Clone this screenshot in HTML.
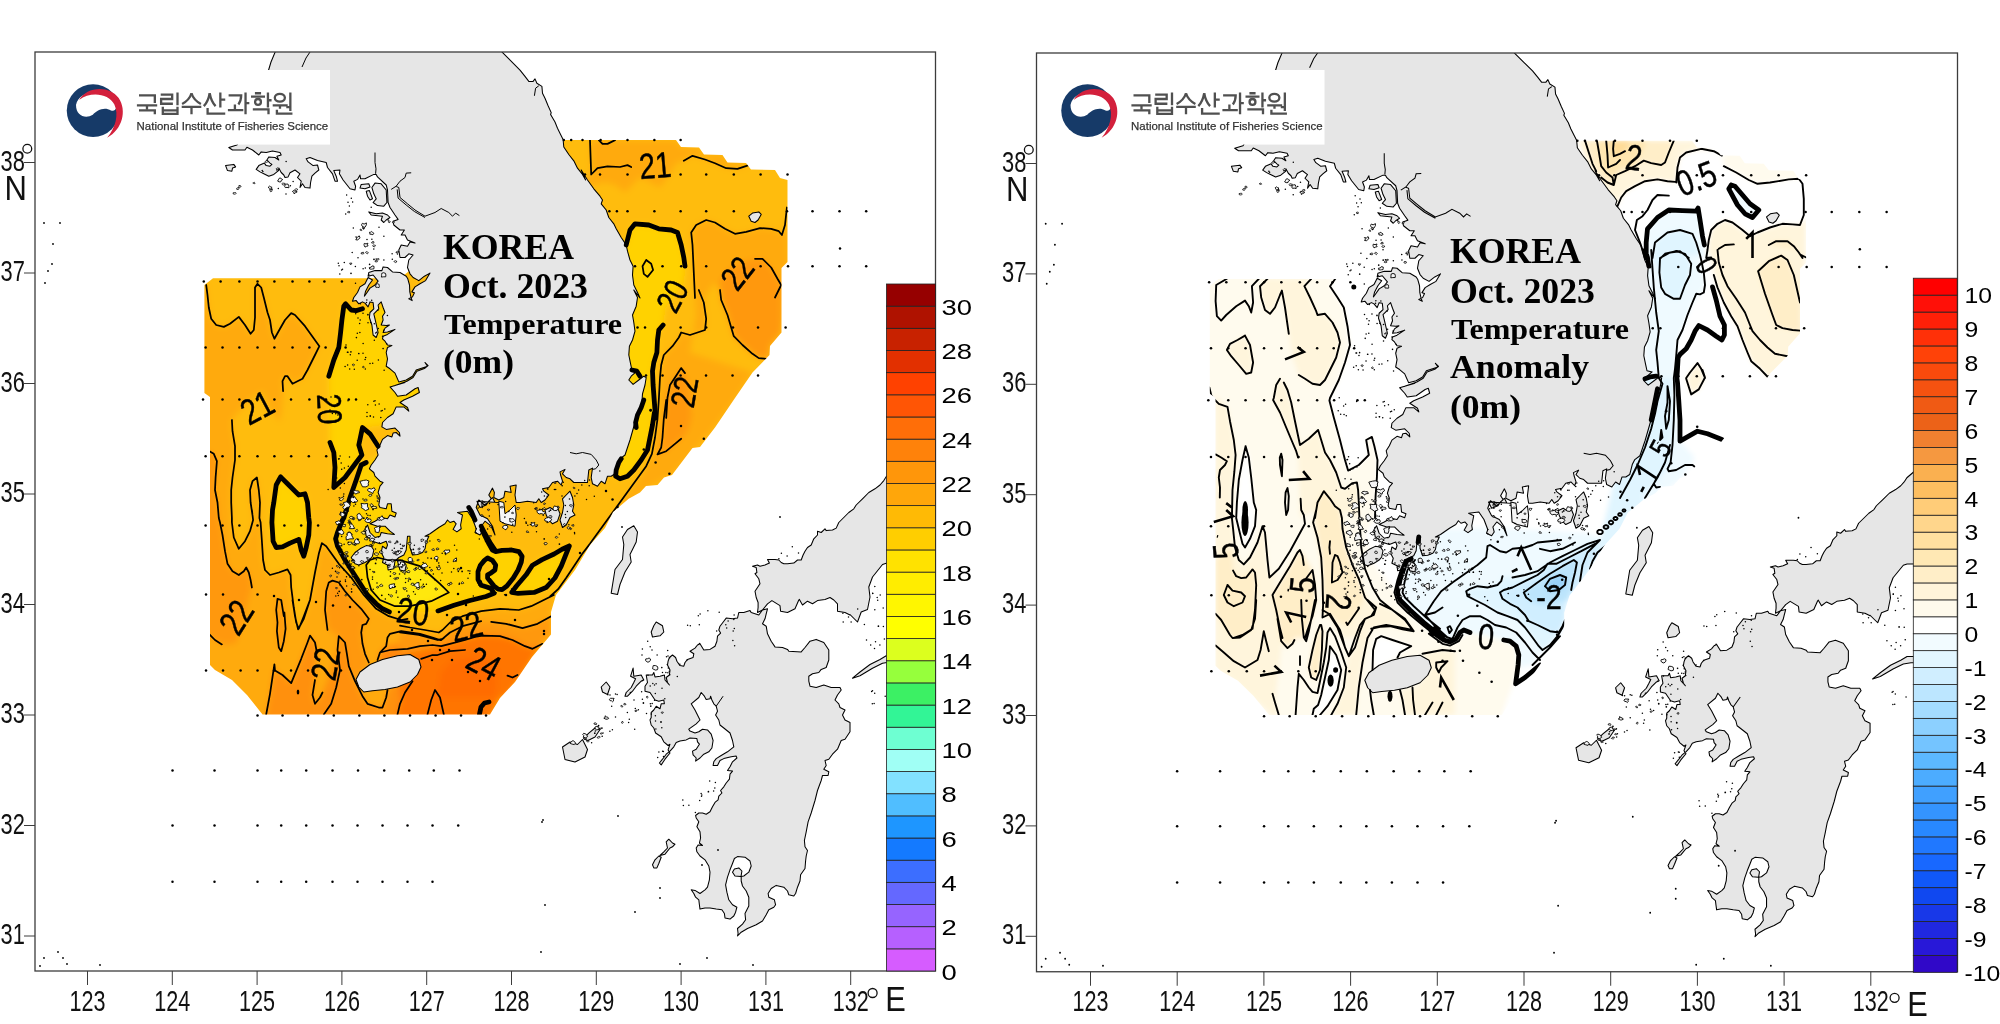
<!DOCTYPE html>
<html><head><meta charset="utf-8"><title>map</title>
<style>
html,body{margin:0;padding:0;background:#fff;}
svg{display:block}
text{opacity:0.999}
.tk{font-family:"Liberation Sans",sans-serif;font-size:30px;fill:#111}
.cb{font-family:"Liberation Sans",sans-serif;font-size:22.5px;fill:#000}
.lb{font-family:"Liberation Sans",sans-serif;fill:#000;stroke:#000;stroke-width:0.45px}
.ttl text{font-family:"Liberation Serif",serif;font-weight:bold;fill:#000}
</style></head><body>
<svg width="2000" height="1024" viewBox="0 0 2000 1024">
<defs>
<clipPath id="clipL"><rect x="35.0" y="52.0" width="900.5" height="919.0"/></clipPath>
<clipPath id="clipR"><rect x="1036.5" y="53.0" width="921.0" height="918.75"/></clipPath>
<g id="land"><path d="M276.0,50.0 L271.0,62.0 L268.0,72.0 L240.0,140.0 L236.9,145.0 L228.8,147.5 L232.5,150.0 L245.0,150.0 L246.9,147.2 L252.5,150.0 L258.8,155.0 L261.2,151.9 L266.2,152.5 L272.5,151.0 L280.0,152.5 L281.2,155.0 L276.9,156.2 L278.8,160.0 L275.0,157.5 L268.8,156.9 L266.9,160.0 L270.0,163.1 L271.9,164.4 L270.0,166.2 L266.2,165.6 L264.4,163.1 L258.8,165.6 L256.2,169.4 L260.0,171.9 L263.8,173.8 L268.8,176.2 L273.8,174.4 L278.5,170.6 L278.8,168.1 L281.2,172.5 L283.8,175.0 L285.0,177.5 L288.1,176.9 L290.0,172.8 L295.0,170.0 L300.0,173.8 L297.5,177.5 L301.2,181.2 L300.0,187.5 L302.5,183.8 L305.0,187.5 L310.0,188.1 L310.6,182.5 L311.9,176.2 L315.0,173.1 L318.8,170.0 L317.5,165.0 L313.1,165.6 L308.1,161.9 L306.2,158.8 L310.0,157.5 L317.5,160.6 L326.2,162.5 L327.5,167.5 L332.5,173.8 L335.0,181.2 L337.5,181.2 L336.2,176.2 L333.8,170.6 L340.0,170.0 L339.4,173.8 L343.1,180.0 L350.0,188.8 L355.0,190.0 L355.6,186.2 L353.8,181.2 L357.5,179.4 L360.0,175.0 L360.6,178.8 L365.0,178.8 L373.8,174.4 L376.2,174.4 L377.5,176.9 L386.2,185.0 L387.5,190.0 L388.1,202.5 L390.0,207.5 L395.0,215.0 L398.1,219.4 L393.1,221.2 L393.8,225.0 L400.0,230.0 L404.4,230.0 L401.2,235.0 L405.0,235.0 L407.5,240.0 L415.0,243.1 L410.0,241.9 L407.5,246.2 L401.2,245.0 L398.8,250.0 L400.0,257.5 L405.0,257.5 L408.8,253.8 L413.1,255.0 L408.8,260.0 L407.5,267.5 L407.5,267.5 L410.0,273.8 L413.1,277.5 L418.8,280.6 L424.4,276.2 L430.0,273.1 L425.6,280.6 L420.0,283.8 L415.0,286.9 L411.9,291.9 L414.4,292.8 L412.5,296.9 L408.8,298.8 L412.2,300.6 L411.0,297.5 L409.8,291.9 L409.5,285.0 L407.8,278.8 L406.2,276.2 L400.0,272.5 L392.5,271.9 L387.5,267.5 L383.1,266.9 L381.9,270.6 L375.0,270.6 L368.8,272.5 L368.1,276.2 L373.1,275.0 L378.1,281.2 L375.0,285.0 L370.0,288.1 L366.2,293.8 L364.4,296.2 L365.6,291.2 L368.8,285.0 L372.5,280.0 L368.1,277.5 L365.0,283.8 L360.0,286.9 L357.5,292.5 L353.8,297.5 L352.5,301.2 L356.2,300.6 L358.8,303.8 L362.5,301.9 L365.0,303.1 L368.1,306.9 L370.0,301.9 L373.1,302.5 L373.8,308.8 L370.0,312.5 L369.4,317.5 L371.9,325.0 L373.1,335.0 L376.2,337.5 L378.1,332.5 L375.0,318.8 L373.8,313.8 L378.8,308.8 L378.1,305.0 L381.2,301.9 L383.1,307.5 L385.0,312.5 L382.5,316.2 L383.1,320.0 L381.2,325.0 L386.2,325.6 L389.4,325.0 L385.0,328.1 L383.1,332.5 L387.5,331.9 L395.0,329.4 L387.5,334.4 L383.1,336.2 L382.5,338.8 L385.0,341.2 L387.5,345.0 L391.9,345.6 L387.5,347.5 L386.2,352.5 L387.5,358.8 L386.2,366.2 L390.0,368.8 L395.0,373.1 L396.9,377.5 L398.8,381.9 L406.2,380.0 L412.5,376.2 L416.2,370.0 L423.8,367.5 L427.5,366.2 L425.0,362.5 L428.1,365.6 L424.4,368.5 L416.9,371.2 L413.1,377.5 L406.9,381.2 L400.0,383.8 L395.0,385.6 L405.0,382.5 L390.0,386.9 L395.0,392.5 L397.5,396.2 L406.2,395.0 L415.0,388.8 L418.1,387.5 L419.4,392.5 L412.5,396.2 L403.8,400.0 L400.0,402.5 L407.5,407.5 L408.8,411.2 L403.8,406.9 L396.2,406.9 L393.1,413.8 L387.5,417.5 L382.5,422.5 L381.9,426.9 L386.2,429.4 L395.0,428.1 L399.4,432.5 L400.0,436.2 L396.2,432.5 L393.1,433.1 L391.9,436.9 L387.5,435.6 L382.5,439.4 L380.0,445.0 L376.9,450.0 L378.1,455.0 L375.0,460.0 L371.2,465.0 L369.4,468.8 L373.8,472.5 L375.0,476.2 L380.0,481.2 L383.1,482.5 L380.0,486.2 L378.1,492.5 L380.0,497.5 L378.8,505.0 L380.0,507.5 L386.2,508.8 L387.5,503.8 L391.2,503.8 L391.9,511.2 L396.2,513.1 L395.0,516.9 L390.0,515.0 L387.5,518.8 L381.2,517.5 L375.0,521.2 L370.0,523.8 L377.5,526.2 L385.0,526.2 L390.0,531.2 L394.4,534.4 L387.5,533.8 L381.2,532.5 L380.0,536.2 L375.0,537.5 L370.0,532.5 L367.5,525.0 L365.0,528.8 L366.2,536.2 L372.5,541.2 L380.0,543.8 L386.2,541.2 L387.5,545.0 L386.2,548.8 L382.5,546.2 L381.2,552.5 L383.8,557.5 L382.5,562.5 L387.5,565.0 L388.1,570.0 L393.8,568.8 L395.0,561.2 L398.8,557.5 L403.8,555.0 L406.2,550.0 L407.5,536.2 L410.0,536.2 L410.0,547.5 L412.5,555.0 L417.5,554.4 L422.5,552.5 L425.0,548.8 L426.2,542.5 L428.8,536.2 L425.0,536.2 L430.0,533.8 L438.8,527.5 L445.0,523.8 L447.5,520.0 L450.0,522.5 L453.8,521.2 L456.2,523.8 L453.1,529.4 L456.9,531.9 L461.2,528.8 L460.6,525.0 L462.5,515.0 L457.5,512.5 L467.5,511.2 L472.5,518.8 L476.2,528.8 L475.0,532.5 L480.0,535.0 L482.5,531.2 L481.2,526.2 L485.0,521.2 L491.2,526.2 L495.0,535.0 L492.5,526.2 L487.5,518.8 L480.0,515.0 L476.2,507.5 L478.8,500.0 L485.0,505.0 L492.5,497.5 L495.0,502.5 L498.8,502.5 L476.9,501.2 L480.0,507.5 L486.2,505.0 L488.8,501.2 L491.2,498.8 L488.8,495.0 L492.5,488.1 L494.4,492.5 L493.8,497.5 L498.8,500.0 L503.8,497.5 L505.0,491.2 L511.2,492.5 L510.0,486.2 L516.2,485.0 L515.0,495.0 L516.2,502.5 L520.0,502.5 L527.5,501.2 L536.2,502.5 L538.8,498.8 L541.2,502.5 L545.0,500.0 L548.8,495.0 L543.8,491.2 L542.5,488.8 L548.8,487.5 L552.5,482.5 L557.5,481.2 L561.2,485.0 L562.5,481.2 L560.6,475.0 L560.0,471.9 L565.0,469.4 L562.5,473.8 L566.2,477.5 L570.0,478.8 L573.8,482.5 L580.0,482.5 L587.5,482.5 L588.8,470.0 L592.5,468.1 L591.2,477.5 L592.5,483.8 L597.5,486.2 L601.2,481.2 L605.0,483.8 L607.5,476.2 L611.2,476.2 L615.0,473.8 L617.5,463.8 L620.0,458.8 L625.0,455.0 L627.5,447.5 L630.0,440.0 L636.2,418.0 L638.8,412.5 L641.9,402.5 L642.5,393.8 L645.0,385.0 L646.2,377.5 L643.8,376.2 L638.8,380.0 L633.1,384.4 L628.8,380.0 L631.2,376.2 L636.9,371.2 L631.9,370.0 L630.6,363.8 L628.8,355.0 L629.4,346.2 L632.5,340.0 L635.0,331.2 L633.8,322.5 L632.5,315.0 L636.2,306.2 L637.5,297.5 L633.8,290.0 L640.0,298.0 L637.5,292.5 L633.8,285.0 L632.5,275.0 L633.1,266.2 L630.0,260.0 L627.5,251.2 L626.2,245.0 L621.2,237.5 L616.2,228.8 L613.8,223.8 L608.8,217.5 L606.2,210.0 L601.2,203.8 L602.5,200.0 L600.0,196.2 L593.8,188.8 L587.5,180.0 L581.2,170.0 L585.6,180.0 L582.5,174.5 L577.5,168.2 L573.8,160.8 L568.8,154.5 L563.8,147.0 L563.1,139.5 L561.2,135.8 L557.5,128.2 L555.0,122.0 L550.6,114.5 L551.2,112.6 L548.1,105.8 L545.0,98.2 L542.5,93.2 L541.9,86.4 L536.9,83.2 L535.0,78.9 L533.1,81.4 L528.8,81.4 L525.0,76.4 L520.0,70.1 L500.0,50.0Z M767.5,608.8 L762.5,610.0 L758.8,615.0 L751.2,612.5 L750.0,610.6 L743.8,612.5 L738.8,612.5 L737.5,618.1 L732.5,618.8 L726.2,618.1 L723.8,621.2 L720.0,626.2 L718.8,630.0 L720.6,633.1 L717.5,636.2 L716.9,641.2 L715.0,646.2 L710.0,649.4 L703.8,650.0 L700.0,643.8 L697.5,645.0 L695.0,648.1 L690.0,651.2 L693.8,653.8 L693.1,657.5 L687.5,659.4 L685.0,662.5 L683.8,666.2 L680.0,665.6 L676.9,661.2 L675.6,657.5 L672.5,655.0 L669.4,657.5 L668.1,661.2 L667.5,665.0 L670.0,670.0 L669.4,675.0 L666.2,677.5 L667.5,682.5 L669.4,685.0 L665.0,680.0 L664.4,675.0 L660.0,676.2 L655.0,676.9 L653.8,672.5 L652.5,675.0 L646.2,675.0 L647.5,682.5 L645.0,686.2 L645.0,691.2 L650.0,692.5 L652.5,696.2 L655.0,700.0 L658.8,701.2 L663.8,700.0 L664.4,703.8 L661.2,703.8 L660.0,708.8 L656.2,706.2 L653.8,710.0 L651.2,712.5 L651.2,717.5 L650.0,720.0 L651.2,725.0 L653.8,728.0 L655.6,733.0 L661.2,736.8 L663.8,741.8 L668.1,745.5 L670.0,744.2 L668.1,749.9 L670.0,753.0 L665.0,759.2 L661.2,764.9 L659.4,763.0 L662.5,759.2 L666.2,754.2 L670.0,751.1 L673.8,746.8 L676.2,742.4 L680.0,741.1 L686.2,739.9 L690.0,738.0 L696.9,738.6 L697.5,741.8 L699.4,744.2 L696.2,749.2 L692.5,751.1 L693.1,754.9 L696.2,758.0 L695.6,761.1 L700.0,758.0 L703.8,754.2 L708.8,751.8 L711.9,748.0 L713.1,740.5 L711.2,734.2 L707.5,729.9 L702.5,729.2 L698.8,731.8 L695.0,733.0 L690.0,731.1 L688.8,729.2 L696.2,723.8 L700.0,720.0 L697.5,715.0 L695.0,710.0 L691.2,703.8 L698.8,697.5 L701.2,692.5 L704.4,696.2 L706.2,699.4 L710.0,698.8 L710.6,696.2 L711.9,700.0 L713.8,703.8 L716.2,706.2 L717.5,711.2 L715.6,715.0 L718.8,720.0 L720.0,725.0 L723.8,728.0 L730.0,733.0 L732.5,740.5 L733.8,746.8 L727.5,751.8 L721.2,755.5 L716.2,758.6 L713.8,761.8 L713.1,765.5 L717.5,765.5 L720.0,760.5 L723.8,758.6 L731.2,756.8 L736.2,756.1 L736.9,758.0 L732.5,761.8 L730.0,766.8 L727.5,770.5 L732.5,771.1 L730.0,774.2 L729.4,779.2 L726.2,783.0 L723.8,786.8 L720.6,790.5 L721.9,793.0 L718.8,796.1 L718.1,799.9 L715.0,802.4 L712.5,806.8 L710.0,811.8 L706.2,814.2 L702.5,813.0 L698.8,813.0 L695.6,815.5 L696.2,818.0 L698.8,821.8 L696.9,826.8 L700.0,831.8 L700.6,838.0 L699.4,843.0 L702.5,845.5 L698.1,844.9 L696.2,848.0 L696.9,851.8 L700.0,856.0 L705.0,859.8 L708.8,866.0 L710.0,872.2 L709.4,879.8 L707.5,887.2 L705.0,889.8 L700.0,893.5 L695.0,890.4 L691.2,889.8 L693.8,893.5 L695.6,897.2 L698.8,899.8 L699.4,904.8 L700.0,909.1 L705.0,907.9 L710.0,907.9 L716.2,909.1 L721.9,909.8 L724.4,913.5 L725.0,917.9 L730.0,919.1 L733.8,916.0 L735.6,912.2 L736.9,907.2 L732.5,904.8 L728.8,899.8 L726.9,892.2 L725.6,884.8 L727.5,877.2 L730.0,869.8 L732.5,863.5 L734.4,858.5 L737.5,856.6 L745.0,857.2 L750.0,861.0 L751.2,866.0 L748.8,872.2 L743.8,876.0 L741.2,876.6 L741.2,881.0 L742.5,886.0 L746.2,891.0 L748.8,897.2 L748.8,906.0 L745.0,913.5 L745.6,919.8 L742.5,924.1 L737.5,928.5 L738.1,933.5 L737.5,936.0 L741.2,932.2 L747.5,928.5 L756.2,924.8 L762.5,921.0 L766.2,914.8 L768.8,909.8 L773.8,907.2 L775.6,904.8 L774.4,899.8 L768.8,897.2 L768.1,893.5 L771.2,888.5 L776.2,885.4 L783.8,887.2 L787.5,891.0 L788.8,894.8 L793.8,896.0 L795.6,893.5 L797.5,887.2 L800.0,881.0 L800.6,874.8 L805.0,868.5 L805.6,861.0 L806.2,856.0 L807.5,850.5 L805.0,846.8 L804.4,840.5 L806.2,831.8 L808.1,821.8 L811.2,813.0 L815.0,800.5 L817.5,790.5 L821.2,780.5 L822.5,775.5 L828.1,775.5 L828.8,771.8 L823.8,769.2 L826.2,765.5 L825.0,760.5 L828.8,759.2 L832.5,754.2 L837.5,749.2 L841.2,740.5 L845.0,739.2 L850.0,731.8 L850.0,722.5 L845.0,720.0 L842.5,715.0 L845.0,710.0 L840.0,707.5 L838.8,703.8 L835.0,700.0 L837.5,695.0 L841.2,690.0 L840.0,687.5 L831.2,687.5 L823.8,685.0 L816.2,687.5 L810.0,686.2 L808.8,681.2 L808.8,676.2 L812.5,673.8 L818.8,672.5 L821.2,669.4 L826.2,667.5 L828.8,660.0 L828.8,650.0 L823.8,642.5 L816.2,639.4 L810.0,641.2 L805.0,647.5 L801.2,651.9 L788.8,651.2 L787.5,649.4 L782.5,647.5 L775.0,646.9 L771.2,641.2 L767.5,633.8 L766.2,626.2 L762.5,623.8 L765.0,618.8 L766.2,613.8Z M940.0,430.0 L886.0,477.0 L883.8,480.6 L880.0,485.0 L875.0,488.8 L868.8,492.5 L862.5,498.8 L856.2,505.0 L853.8,508.8 L848.8,512.5 L843.8,517.5 L838.8,522.5 L836.2,528.1 L832.5,530.0 L826.2,530.6 L825.0,528.8 L821.2,532.5 L817.5,531.2 L817.5,535.0 L813.8,538.8 L811.2,545.0 L807.5,547.5 L805.0,551.2 L803.1,555.0 L801.2,560.0 L797.5,560.0 L793.8,563.1 L787.5,563.8 L783.8,563.8 L781.2,562.5 L778.8,560.0 L775.0,559.4 L767.5,559.4 L769.4,563.1 L765.0,565.0 L760.0,566.2 L757.5,565.0 L752.5,566.2 L756.2,567.5 L756.9,572.5 L755.0,573.8 L758.8,578.8 L760.0,583.8 L757.5,587.5 L755.0,591.2 L756.2,597.5 L758.1,602.5 L758.1,607.5 L757.5,612.5 L762.5,610.0 L767.5,603.8 L771.9,600.6 L780.0,605.6 L780.6,611.2 L787.5,612.5 L795.0,608.8 L798.8,600.0 L799.4,599.4 L802.5,605.0 L807.5,601.2 L812.5,603.8 L817.5,600.6 L825.0,599.4 L830.0,597.5 L833.8,600.0 L837.5,603.8 L837.5,611.2 L845.0,612.5 L850.0,615.0 L850.0,614.5 L857.5,622.0 L861.2,612.0 L867.5,609.5 L870.0,597.0 L868.8,587.0 L872.5,577.0 L882.5,564.5 L886.2,563.2 L940.0,563.0Z M886.2,655.8 L880.0,659.5 L870.0,664.5 L860.0,672.0 L852.5,678.2 L860.0,675.8 L872.5,668.2 L882.5,663.2 L890.0,662.0 L940.0,662.0 L940.0,655.8Z M356.0,679.5 L360.0,672.0 L370.0,664.5 L382.5,659.5 L397.5,655.8 L410.0,654.5 L418.8,659.5 L421.0,667.0 L417.5,674.5 L410.0,682.0 L397.5,687.0 L385.0,689.5 L372.5,690.8 L363.8,692.0 L358.8,687.0Z M633.8,525.8 L637.5,532.0 L636.2,542.0 L630.0,554.5 L631.2,562.0 L625.0,572.0 L620.0,584.5 L617.5,594.5 L611.2,593.2 L613.8,577.0 L615.0,569.5 L622.5,559.5 L623.8,544.5 L622.5,537.0 L627.5,529.5Z M656.2,622.0 L662.5,625.8 L663.8,632.0 L660.0,635.8 L652.5,637.0 L651.2,632.0 L653.8,625.8Z M562.5,747.0 L570.0,742.0 L577.5,744.5 L582.5,739.5 L587.5,749.5 L585.0,757.0 L575.0,762.0 L565.0,759.5Z M583.8,738.2 L588.8,733.2 L596.2,727.0 L600.0,729.5 L595.0,737.0 L587.5,740.8Z M601.2,687.0 L606.2,682.0 L610.0,687.0 L607.5,694.5 L602.5,692.0Z M633.1,668.1 L633.8,676.2 L641.2,675.0 L643.8,680.0 L641.2,681.2 L636.2,686.2 L632.5,691.2 L627.5,696.2 L625.0,696.2 L626.2,692.5 L631.2,687.5 L633.8,682.5 L635.6,678.8 L630.6,676.2Z M658.8,856.0 L661.2,857.2 L658.8,863.5 L656.9,867.9 L653.8,867.9 L652.5,864.8 L655.0,859.8Z M660.0,855.5 L663.8,851.8 L667.5,848.0 L666.2,841.8 L668.8,839.2 L672.5,843.0 L675.0,844.2 L672.5,846.8 L670.0,848.0 L665.0,854.2Z M375.0,183.1 L381.2,183.8 L386.2,190.0 L386.9,202.5 L383.8,206.2 L377.5,205.6 L373.1,202.5 L376.2,198.8 L373.8,193.8 L371.9,187.5Z M361.2,184.4 L368.8,183.8 L370.0,186.9 L365.0,188.8 L360.0,188.1Z M366.2,191.2 L369.4,190.6 L372.5,198.8 L370.0,200.0 L367.5,196.2Z M368.8,211.9 L376.2,213.8 L382.5,213.1 L387.5,215.0 L390.0,217.5 L386.2,220.0 L383.8,222.5 L381.2,220.0 L382.5,216.2 L371.2,215.0Z M225.6,165.6 L233.8,164.4 L235.6,166.9 L232.5,168.1 L231.9,171.2 L227.5,170.6Z M351.2,557.5 L355.0,552.5 L360.0,548.8 L366.2,545.6 L371.2,546.2 L373.8,550.0 L372.5,556.2 L370.0,559.4 L365.0,562.5 L358.8,565.0 L355.0,563.8Z M566.2,495.0 L570.0,491.2 L572.5,497.5 L573.8,505.0 L572.5,511.2 L575.0,515.0 L570.0,517.5 L566.2,525.0 L562.5,527.5 L560.0,520.0 L562.5,512.5 L563.8,505.0 L562.5,498.8Z M545.0,510.0 L550.0,507.5 L553.8,510.0 L557.5,507.5 L560.0,513.8 L557.5,521.2 L552.5,523.8 L548.8,520.0 L546.2,515.0Z M397.5,561.2 L402.5,560.0 L406.2,565.0 L405.0,571.2 L400.0,570.0Z M748.8,216.2 L752.5,213.1 L758.8,211.9 L761.2,214.4 L758.1,220.0 L755.0,222.5 L751.2,221.2Z M732.5,872.2 L734.4,869.1 L738.8,867.9 L741.9,871.0 L741.2,875.4 L740.6,876.6 L735.0,876.0Z" fill="#e6e6e6" stroke="#000" stroke-width="1.05" stroke-linejoin="round"/><path d="M498.8,501.2 L503.8,502.5 L505.0,513.8 L510.0,510.0 L515.0,505.0 L516.2,515.0 L515.0,526.2 L510.0,525.0 L505.0,523.8 L500.0,521.2Z" fill="#f6f6f6" stroke="#000" stroke-width="1" stroke-linejoin="round"/><path d="M375.6,173.8 L376.0,168.8 L375.0,162.5 L375.0,152.5 M391.2,189.4 L396.2,186.2 L400.0,181.2 L405.0,177.5 L406.2,173.1 L411.2,172.8 M396.2,186.5 L398.8,187.5 L400.0,197.5 L407.5,203.8 L415.0,210.0 L425.0,216.2 L435.0,212.5 L441.2,208.5 L448.8,212.5 L452.5,216.2 L455.6,213.1 L459.4,215.6 M397.2,189.4 L398.1,198.1 L406.2,205.0 L414.4,211.5 L425.0,217.5 M570.0,452.5 L576.2,453.8 L582.5,452.5 L591.2,454.4 L596.2,460.0 L598.8,465.0 L595.6,468.8 L592.5,469.4 M538.8,85.8 L535.6,88.2 L534.4,95.8 M310.0,52.0 L306.0,58.0 L302.0,67.0 M716.2,706.2 L723.1,696.2" fill="none" stroke="#000" stroke-width="1"/></g>
<g id="dots"><path d="M255.1,183.4 L254.2,183.7 L253.5,183.4 L252.8,183.0 L253.6,182.6 L254.3,182.2 L254.7,182.8Z M238.9,189.0 L238.0,189.6 L236.6,189.2 L236.8,188.2 L237.7,187.7 L239.2,187.4 L239.0,188.4Z M240.6,187.1 L239.3,187.1 L238.8,186.4 L238.9,185.5 L240.0,185.5 L240.7,185.8 L241.0,186.3Z M270.9,189.7 L272.4,189.5 L272.0,190.6 L271.8,191.3 L270.5,191.7 L270.1,190.8 L269.9,190.0Z M233.1,192.8 L234.4,192.6 L235.6,192.5 L236.1,193.4 L235.5,194.1 L234.4,194.2 L233.2,193.9Z M297.5,189.8 L296.6,190.4 L295.3,190.4 L294.7,189.6 L295.6,189.0 L296.4,188.7 L297.4,189.0Z M267.2,162.1 L266.3,162.4 L264.8,162.1 L265.6,161.2 L266.0,160.5 L267.3,160.6 L268.3,161.4Z M278.9,168.8 L278.7,169.5 L277.8,169.8 L276.8,169.5 L276.2,168.8 L277.0,167.9 L278.3,168.1Z M282.1,183.7 L282.7,182.9 L283.8,183.3 L285.2,183.4 L284.9,184.4 L283.7,185.0 L282.4,184.7Z M347.4,212.2 L348.0,211.6 L348.7,211.4 L349.6,211.5 L349.7,212.2 L349.4,213.0 L348.3,212.6Z M376.0,260.3 L376.9,260.3 L377.2,260.9 L377.4,261.7 L376.2,261.9 L375.0,261.6 L375.3,260.7Z M363.3,252.2 L364.0,253.1 L363.3,254.0 L362.1,253.9 L361.0,253.6 L361.2,252.8 L362.0,252.6Z M394.4,262.0 L394.1,261.4 L394.5,260.9 L395.4,260.7 L396.5,261.0 L396.7,262.0 L395.4,262.6Z M375.2,246.2 L374.3,246.8 L373.1,246.4 L372.6,245.6 L373.4,245.0 L374.3,245.1 L375.4,245.3Z M366.3,253.2 L365.5,252.3 L366.6,251.6 L367.7,252.0 L368.2,252.5 L368.0,253.1 L367.3,253.9Z M390.4,221.7 L389.9,222.4 L389.0,222.8 L388.4,222.2 L388.4,221.7 L388.5,220.8 L389.8,221.1Z M371.6,243.0 L371.9,242.1 L372.7,241.5 L373.8,241.7 L373.9,242.4 L373.9,243.1 L372.9,243.1Z M362.2,228.0 L362.6,227.2 L363.8,227.0 L364.4,227.7 L364.5,228.4 L363.6,228.8 L362.7,228.6Z M378.3,259.8 L377.5,260.1 L377.0,259.6 L376.9,259.1 L377.5,258.8 L378.6,258.5 L379.2,259.3Z M392.8,221.8 L393.7,221.3 L394.7,221.9 L394.0,222.6 L393.4,223.3 L392.6,222.8 L392.2,222.2Z M362.1,230.1 L361.6,230.6 L360.8,230.4 L360.1,230.2 L360.0,229.5 L360.9,229.2 L361.5,229.6Z M398.2,252.5 L397.3,252.7 L396.0,252.8 L396.2,251.9 L396.9,251.5 L397.8,251.2 L399.1,251.8Z M349.8,263.0 L350.9,263.2 L352.0,263.2 L351.4,263.9 L351.1,264.6 L350.1,264.3 L349.8,263.7Z M352.2,365.0 L352.5,364.4 L353.4,364.1 L354.4,364.5 L354.3,365.3 L353.5,365.8 L352.8,365.4Z M362.5,367.3 L362.6,366.8 L363.2,366.1 L364.0,366.7 L364.5,367.2 L363.8,367.6 L363.0,367.9Z M345.1,510.7 L345.9,510.8 L346.8,511.3 L346.5,512.2 L345.2,512.3 L344.4,511.8 L343.9,511.0Z M341.7,514.4 L341.6,515.2 L340.5,515.4 L339.8,515.0 L339.5,514.5 L339.7,513.6 L341.0,513.7Z M352.4,495.7 L353.3,495.8 L354.2,496.2 L354.2,497.1 L352.9,497.1 L352.3,496.8 L351.9,496.3Z M373.9,544.2 L372.9,543.6 L371.9,543.1 L372.8,542.5 L373.6,542.4 L374.8,542.5 L374.4,543.3Z M350.4,521.9 L350.5,522.6 L349.5,522.9 L347.9,523.1 L348.3,522.0 L348.9,521.5 L349.7,521.5Z M356.2,551.5 L358.3,552.1 L358.1,553.5 L357.3,554.2 L355.7,555.1 L354.4,553.9 L355.5,552.9Z M353.7,519.2 L351.6,518.9 L350.3,518.5 L349.4,517.3 L350.9,516.2 L352.7,516.7 L353.0,517.7Z M360.5,520.4 L358.6,520.8 L358.7,519.3 L358.6,518.3 L360.1,517.5 L361.8,518.3 L361.1,519.5Z M341.4,500.7 L339.4,500.1 L339.8,498.8 L340.8,498.0 L342.7,497.4 L343.5,498.8 L342.6,499.8Z M338.4,542.7 L340.4,543.3 L341.5,543.6 L341.9,544.6 L340.9,545.9 L338.6,545.6 L338.4,544.2Z M351.4,522.7 L351.9,523.4 L350.9,523.9 L349.6,523.8 L349.1,523.0 L349.7,522.2 L350.8,522.2Z M354.6,519.0 L353.8,519.9 L352.5,519.2 L352.3,518.5 L352.8,517.9 L353.9,517.3 L354.8,518.1Z M381.0,553.4 L380.0,553.0 L379.2,552.0 L380.3,550.8 L382.2,551.2 L382.8,552.3 L382.6,553.4Z M367.1,537.7 L367.2,538.8 L367.5,539.9 L365.8,539.8 L364.5,539.4 L364.7,538.4 L365.5,537.5Z M345.9,553.3 L344.6,552.7 L345.4,551.8 L346.5,551.7 L347.8,551.8 L347.9,552.7 L347.2,553.7Z M345.6,524.5 L345.4,525.8 L345.3,526.6 L344.2,526.7 L343.2,526.4 L342.0,525.3 L343.7,524.6Z M377.7,519.5 L377.2,518.3 L378.8,517.4 L380.0,518.6 L381.0,519.4 L380.1,520.4 L378.6,520.1Z M351.0,534.6 L350.0,534.7 L349.0,534.0 L350.0,533.4 L350.9,533.1 L351.7,533.6 L352.4,534.4Z M357.5,531.2 L356.8,531.9 L355.6,531.4 L355.4,530.7 L356.0,530.0 L357.3,529.4 L357.8,530.5Z M340.7,553.0 L341.6,553.4 L341.1,554.1 L340.3,554.2 L339.7,553.9 L339.1,553.4 L339.7,552.8Z M377.2,501.5 L377.2,500.7 L377.6,500.1 L378.7,499.8 L380.0,500.3 L379.1,501.1 L378.4,501.8Z M344.0,556.4 L343.4,554.9 L345.5,555.0 L347.6,555.3 L347.4,556.8 L346.2,558.0 L344.5,557.2Z M348.5,521.4 L348.2,520.9 L348.4,520.1 L349.8,519.9 L349.9,520.8 L350.2,521.5 L349.3,522.0Z M364.7,531.6 L363.7,531.1 L364.0,530.2 L365.0,529.6 L366.2,530.1 L366.5,530.9 L365.6,531.3Z M372.6,546.4 L371.7,546.2 L371.3,545.8 L371.2,545.2 L372.1,545.2 L372.9,545.2 L373.2,545.9Z M372.0,545.8 L371.2,546.3 L369.9,546.6 L369.9,545.6 L369.7,544.7 L371.0,544.3 L372.1,545.0Z M371.4,507.7 L372.4,506.1 L374.5,506.5 L376.4,506.7 L376.8,508.3 L374.6,508.5 L373.2,508.6Z M371.4,507.0 L370.6,505.8 L370.0,504.8 L371.0,503.6 L372.6,504.5 L373.3,505.2 L373.0,506.3Z M347.7,555.4 L348.6,556.2 L347.2,556.5 L346.1,556.9 L345.1,556.1 L345.7,555.3 L346.8,554.5Z M365.4,533.8 L363.4,534.2 L362.0,533.5 L361.0,532.4 L362.6,531.7 L364.4,531.0 L365.3,532.4Z M355.7,545.5 L354.8,545.2 L353.8,544.9 L354.4,544.3 L355.1,543.8 L356.3,544.0 L356.3,544.9Z M340.1,505.1 L339.8,504.1 L341.2,504.0 L342.1,504.1 L343.0,504.7 L342.0,505.2 L341.2,505.3Z M349.8,534.0 L348.7,533.7 L348.5,533.0 L348.2,532.0 L349.6,532.2 L350.3,532.6 L350.3,533.2Z M365.7,552.2 L365.8,551.4 L366.1,550.4 L367.7,550.5 L368.3,551.5 L368.2,552.5 L366.7,552.8Z M377.1,498.3 L377.2,497.7 L377.4,496.8 L378.3,497.4 L379.3,497.7 L379.2,498.7 L377.9,498.5Z M347.4,533.7 L348.6,533.9 L349.3,534.2 L349.3,534.8 L348.6,535.1 L347.4,535.4 L346.9,534.5Z M370.0,494.2 L371.7,494.4 L371.8,495.6 L370.7,496.3 L369.5,496.2 L368.7,495.7 L369.1,494.9Z M355.1,542.7 L355.4,543.7 L355.2,544.6 L353.9,544.8 L352.4,544.4 L352.6,543.3 L353.7,542.9Z M349.9,542.1 L351.9,542.2 L351.6,543.6 L350.6,544.3 L348.8,545.0 L347.8,543.7 L348.1,542.4Z M368.7,557.8 L369.4,558.5 L368.7,559.2 L367.8,559.6 L366.9,559.1 L367.0,558.4 L367.6,558.0Z M366.9,500.7 L365.8,501.0 L363.8,500.8 L364.6,499.5 L365.9,499.1 L366.9,499.4 L367.4,500.1Z M369.0,535.5 L370.3,535.4 L370.5,536.3 L370.1,537.4 L368.4,537.5 L367.1,536.6 L368.2,535.8Z M377.6,555.1 L376.4,555.4 L375.5,555.0 L374.0,554.0 L375.4,552.9 L377.4,553.0 L378.9,554.0Z M336.5,572.8 L337.3,572.1 L338.3,572.3 L339.2,572.5 L339.2,573.2 L338.4,573.9 L337.4,573.4Z M349.3,564.1 L348.6,564.2 L347.7,563.9 L347.7,563.0 L348.9,563.2 L349.8,563.1 L350.1,563.8Z M343.6,562.3 L344.6,562.5 L345.0,563.2 L344.7,563.7 L343.9,563.9 L342.8,563.8 L343.3,563.1Z M336.5,565.4 L337.5,565.6 L338.2,566.0 L338.4,566.7 L337.3,567.1 L336.6,566.6 L336.1,566.1Z M337.1,588.6 L336.4,588.7 L335.7,588.4 L335.6,587.7 L336.5,587.5 L337.3,587.6 L337.5,588.2Z M330.4,575.2 L331.4,575.2 L331.8,575.9 L331.3,576.3 L330.6,576.8 L329.9,576.4 L329.5,575.7Z M345.5,594.3 L346.6,594.5 L347.1,595.1 L346.6,595.7 L345.8,595.9 L344.9,595.6 L345.2,595.0Z M390.2,566.1 L389.8,566.8 L389.2,567.4 L388.0,567.2 L387.4,566.4 L388.2,565.6 L389.4,565.4Z M415.3,569.1 L415.6,568.3 L415.7,567.3 L416.9,567.7 L417.2,568.3 L417.3,568.8 L416.5,569.2Z M366.1,589.5 L366.3,588.5 L367.8,588.7 L368.4,589.4 L368.2,590.1 L367.4,591.0 L365.8,590.6Z M395.4,579.8 L394.5,579.3 L393.9,578.7 L394.4,578.0 L395.5,577.8 L396.1,578.5 L395.9,579.1Z M388.2,566.0 L388.1,565.0 L388.5,564.3 L389.5,564.2 L390.5,564.6 L390.3,565.3 L389.5,565.6Z M409.4,597.2 L408.0,597.3 L407.5,596.5 L407.5,596.0 L407.9,595.0 L409.2,595.4 L409.4,596.2Z M411.7,583.2 L413.2,583.2 L414.3,584.0 L413.4,584.8 L412.7,585.4 L411.6,585.0 L411.0,584.2Z M408.5,577.9 L409.5,578.1 L410.1,578.5 L410.4,579.3 L409.2,579.2 L408.3,579.3 L408.0,578.6Z M354.9,584.1 L355.5,584.9 L354.2,585.3 L353.2,585.1 L352.3,584.4 L353.5,584.0 L354.3,583.4Z M393.6,574.3 L393.0,573.5 L393.5,572.5 L394.8,572.8 L395.8,573.2 L395.7,574.0 L394.8,574.6Z M407.0,572.3 L407.1,571.5 L407.7,570.8 L409.2,570.5 L409.8,571.5 L409.5,572.6 L408.1,572.6Z M372.7,571.2 L373.7,571.5 L374.7,571.5 L374.9,572.4 L373.9,572.8 L373.1,572.4 L372.6,572.0Z M351.1,566.8 L352.4,566.3 L354.0,566.7 L354.1,567.9 L353.1,568.7 L351.7,568.7 L350.7,567.9Z M398.2,578.7 L397.4,578.9 L396.1,579.1 L395.6,578.1 L396.7,577.4 L397.8,577.5 L399.0,578.0Z M382.8,586.1 L381.6,586.3 L380.7,586.3 L379.4,585.8 L380.1,584.8 L381.5,584.2 L382.6,585.1Z M354.4,575.1 L353.9,575.9 L353.1,576.2 L352.5,575.9 L351.7,575.4 L352.5,575.0 L353.2,574.9Z M354.3,561.0 L353.0,560.8 L351.7,560.8 L352.2,560.0 L352.8,559.7 L353.8,559.3 L354.0,560.1Z M404.5,587.9 L405.8,587.7 L406.3,588.7 L405.4,589.4 L404.0,589.9 L403.5,588.8 L402.9,587.8Z M397.0,566.6 L396.5,565.8 L397.3,565.1 L398.4,564.9 L399.6,565.3 L399.7,566.4 L398.3,567.0Z M417.5,589.1 L416.3,588.4 L416.9,587.3 L418.3,587.0 L419.2,587.6 L419.5,588.4 L418.9,589.4Z M378.7,586.8 L378.5,587.6 L377.9,587.8 L377.2,588.0 L376.6,587.5 L376.7,586.8 L377.6,586.4Z M413.0,560.5 L413.8,561.4 L413.3,562.2 L412.5,563.0 L411.0,562.5 L410.7,561.5 L411.4,560.5Z M407.2,567.7 L407.5,568.5 L406.5,569.1 L405.4,568.7 L405.2,568.0 L405.6,567.4 L406.6,566.9Z M390.0,595.7 L390.6,594.9 L391.8,595.1 L392.5,595.6 L392.3,596.3 L391.6,597.1 L390.4,596.5Z M361.3,562.4 L360.3,561.6 L361.0,560.6 L362.5,561.0 L363.8,561.4 L363.4,562.3 L362.3,563.0Z M354.5,560.5 L355.1,561.4 L354.2,562.1 L352.9,562.7 L352.0,561.8 L351.5,560.6 L353.1,560.0Z M390.4,541.2 L391.2,541.9 L390.5,542.7 L389.4,542.3 L388.4,542.1 L388.6,541.4 L389.5,541.2Z M436.7,548.1 L438.0,548.0 L438.8,548.6 L438.8,549.4 L438.0,549.6 L436.7,549.9 L436.1,549.0Z M404.9,570.9 L406.5,571.4 L405.8,572.6 L404.2,573.0 L402.3,572.5 L403.3,571.3 L403.9,570.8Z M426.1,573.9 L424.9,573.3 L425.7,572.5 L426.4,572.0 L427.3,572.3 L427.5,572.9 L427.3,573.7Z M422.6,541.1 L421.2,541.6 L421.1,540.5 L420.9,539.5 L422.5,539.1 L423.9,539.7 L423.3,540.7Z M410.7,542.2 L411.3,543.3 L410.7,544.2 L409.3,545.0 L408.1,544.0 L407.7,542.9 L409.2,542.5Z M396.2,541.7 L396.6,540.7 L397.8,541.3 L398.5,541.9 L397.9,542.5 L397.1,542.8 L395.6,542.7Z M402.8,546.8 L402.7,546.0 L402.2,545.2 L403.4,545.4 L404.5,545.2 L404.6,546.1 L403.8,546.4Z M398.6,552.7 L396.9,553.4 L395.8,553.8 L393.9,553.5 L395.0,552.4 L395.6,551.2 L397.0,551.9Z M438.2,541.2 L437.9,540.6 L437.4,539.5 L439.0,539.4 L439.8,540.1 L440.3,540.9 L439.5,542.0Z M395.2,567.6 L394.4,567.5 L393.3,567.1 L393.9,566.2 L395.0,566.1 L395.8,566.5 L396.4,567.3Z M424.2,569.0 L423.1,569.3 L422.8,568.5 L422.9,567.6 L424.0,567.8 L425.3,567.8 L424.9,568.7Z M432.8,570.4 L431.9,570.9 L430.8,571.2 L430.5,570.5 L430.6,570.0 L431.1,569.3 L432.0,569.7Z M395.3,553.0 L394.7,553.7 L393.7,553.9 L393.2,553.2 L392.7,552.5 L393.7,551.9 L395.1,552.1Z M427.9,541.8 L427.7,542.8 L426.4,543.4 L425.0,543.0 L425.3,542.0 L425.2,540.7 L426.8,541.3Z M417.7,559.6 L418.8,559.3 L419.3,560.1 L418.5,560.6 L417.8,560.7 L417.0,560.6 L416.9,559.9Z M393.6,561.7 L392.0,562.1 L391.4,561.1 L390.6,560.0 L392.1,559.1 L393.5,559.9 L394.1,560.7Z M439.9,566.7 L440.1,567.9 L440.4,568.9 L439.1,569.9 L437.2,569.3 L437.6,568.0 L438.2,567.1Z M420.8,553.1 L420.1,553.6 L419.4,553.2 L419.0,552.8 L418.8,551.9 L420.1,551.8 L421.2,552.3Z M420.6,567.8 L421.7,568.6 L420.5,569.2 L419.1,569.6 L418.5,568.6 L418.4,567.6 L419.7,566.7Z M417.7,549.2 L418.3,548.5 L419.0,548.1 L420.0,548.1 L420.0,548.8 L419.9,549.5 L418.8,549.9Z M413.7,569.0 L414.8,568.7 L416.0,568.5 L416.3,569.4 L415.9,570.1 L414.7,570.4 L413.9,569.8Z M414.3,553.5 L414.1,554.4 L412.9,554.1 L412.0,553.8 L412.1,553.0 L413.0,552.7 L414.4,552.5Z M449.4,583.1 L450.1,582.4 L451.3,582.3 L451.9,583.0 L452.1,583.8 L451.0,584.2 L449.7,584.1Z M462.5,583.6 L461.2,583.7 L461.4,582.8 L461.6,582.3 L462.4,581.7 L463.3,582.3 L463.8,583.2Z M457.3,569.1 L457.8,568.3 L459.1,568.4 L459.8,568.9 L459.9,569.8 L458.8,570.1 L457.4,570.2Z M447.4,584.7 L447.7,583.8 L449.0,583.3 L449.7,584.2 L450.0,584.9 L449.2,585.7 L448.2,585.2Z M435.1,589.0 L435.0,588.1 L436.3,588.1 L437.3,588.6 L437.4,589.6 L436.1,590.1 L435.1,589.6Z M426.7,552.4 L426.1,552.6 L425.2,552.6 L424.7,551.8 L425.5,551.3 L426.7,551.2 L426.8,551.9Z M432.3,549.1 L433.1,548.6 L434.1,548.9 L434.2,549.5 L434.3,550.5 L432.9,550.4 L431.7,549.9Z M421.6,587.9 L420.7,587.2 L421.4,586.5 L422.1,585.9 L423.5,586.1 L423.4,587.0 L423.0,587.9Z M482.3,516.3 L481.1,516.4 L480.9,515.6 L481.3,514.7 L482.4,514.9 L483.0,515.3 L483.1,516.0Z M481.4,501.9 L480.5,501.5 L481.3,501.0 L482.0,500.7 L483.1,500.9 L482.6,501.6 L482.2,502.1Z M516.7,508.3 L517.1,507.5 L518.2,507.6 L519.5,507.8 L519.0,508.7 L518.3,509.7 L516.9,509.2Z M488.7,510.8 L487.9,510.3 L487.3,509.9 L487.7,509.2 L488.6,509.2 L489.6,509.4 L489.3,510.1Z M513.5,513.4 L512.5,513.6 L511.6,513.3 L511.6,512.7 L512.2,512.4 L513.0,512.2 L513.4,512.7Z M491.4,535.6 L491.1,536.5 L490.7,537.0 L489.9,536.9 L488.8,536.7 L489.0,535.8 L490.1,535.6Z M490.6,527.4 L489.8,526.8 L489.3,526.2 L490.2,525.8 L491.0,525.8 L492.2,526.1 L491.8,527.0Z M500.5,506.7 L501.7,506.4 L502.7,506.5 L503.5,507.2 L502.7,507.8 L501.7,507.8 L500.4,507.7Z M482.7,505.6 L481.3,505.3 L481.3,504.5 L481.2,503.6 L482.5,503.6 L483.6,503.9 L483.7,504.9Z M482.3,504.3 L482.5,503.1 L483.6,502.4 L485.2,502.5 L485.7,503.6 L485.0,504.4 L483.9,504.3Z M572.5,506.0 L571.7,506.8 L570.6,506.4 L569.7,505.9 L569.7,504.9 L571.1,504.7 L572.1,505.2Z M527.6,532.5 L526.6,532.4 L526.4,531.7 L526.7,530.9 L527.9,531.1 L528.4,531.6 L528.8,532.4Z M565.5,525.6 L564.3,525.6 L563.7,524.9 L563.6,524.0 L564.8,523.5 L565.5,524.3 L565.9,524.8Z M534.7,509.1 L534.6,508.5 L535.3,508.0 L536.2,508.3 L536.3,508.9 L535.9,509.3 L535.2,509.4Z M571.7,528.7 L571.4,529.3 L570.7,529.6 L570.1,529.4 L569.9,529.0 L569.8,528.2 L570.9,528.0Z M537.1,507.5 L537.1,508.3 L537.2,509.1 L536.1,509.4 L535.1,508.8 L535.4,508.1 L536.0,507.8Z M550.4,517.2 L549.3,517.3 L548.8,516.5 L549.5,515.6 L550.9,515.6 L552.0,516.3 L551.8,517.4Z M545.7,508.6 L545.1,509.5 L543.8,509.6 L543.1,508.9 L543.3,508.3 L543.9,507.6 L545.0,507.9Z M557.3,537.9 L556.2,538.1 L555.2,537.5 L555.6,536.7 L556.5,536.4 L557.3,536.7 L557.9,537.3Z M546.6,542.6 L547.3,543.8 L546.3,544.6 L544.8,544.9 L544.5,544.0 L543.9,543.1 L545.1,542.6Z M534.7,525.8 L535.4,525.1 L536.5,524.8 L538.0,524.9 L537.2,525.9 L536.7,526.5 L535.4,526.7Z M543.8,504.5 L543.5,503.8 L544.0,503.1 L545.0,503.0 L545.6,503.6 L545.3,504.1 L544.7,504.4Z M573.8,526.2 L572.6,525.9 L571.9,525.7 L571.7,525.0 L572.6,524.8 L573.6,524.5 L573.8,525.3Z M567.1,527.4 L568.4,526.7 L569.5,527.4 L570.6,527.9 L569.7,528.6 L568.6,529.1 L567.5,528.5Z M554.0,482.7 L554.7,482.0 L555.9,481.9 L555.9,482.8 L556.0,483.3 L555.2,483.4 L554.4,483.4Z M573.2,487.5 L573.8,487.2 L574.5,487.5 L575.2,488.1 L574.3,488.6 L573.5,488.3 L573.0,488.0Z M663.2,712.9 L662.4,713.5 L661.5,713.1 L661.3,712.6 L661.4,712.2 L662.1,712.0 L663.2,712.1Z M636.6,711.3 L636.0,711.7 L635.1,711.4 L634.9,710.6 L635.9,710.3 L637.0,710.1 L637.0,710.9Z M646.7,697.7 L646.4,697.2 L646.5,696.5 L647.6,696.3 L647.9,697.1 L647.8,697.5 L647.4,698.2Z M599.6,729.8 L598.5,729.4 L598.8,728.6 L599.4,728.2 L600.3,728.1 L601.2,728.7 L600.3,729.3Z M622.0,705.8 L622.9,706.3 L622.4,707.1 L621.3,706.8 L620.9,706.4 L620.8,706.0 L621.2,705.2Z M623.3,722.2 L623.2,722.7 L622.4,723.3 L621.4,722.8 L621.8,722.1 L622.1,721.4 L623.0,721.7Z M625.6,704.8 L624.7,704.8 L623.8,704.7 L623.9,704.1 L624.2,703.3 L625.2,703.7 L626.1,704.1Z M601.3,732.9 L602.1,733.1 L602.4,733.6 L601.9,734.0 L601.2,734.0 L600.3,733.8 L600.5,733.1Z M599.8,736.4 L600.0,737.3 L599.3,738.0 L598.3,738.1 L597.0,737.7 L597.7,736.8 L598.6,736.4Z M596.7,723.6 L596.4,724.6 L595.0,724.3 L593.9,724.0 L594.1,723.2 L595.0,722.8 L595.9,723.0Z M588.5,740.8 L589.2,741.4 L588.3,741.8 L587.2,741.9 L586.7,741.2 L587.2,740.6 L588.1,739.9Z M583.7,738.6 L584.0,737.6 L585.3,738.0 L586.3,738.3 L586.3,739.2 L585.2,739.4 L584.0,739.4Z" fill="#fff" fill-opacity="0.55" stroke="#000" stroke-width="0.8"/><path d="M361.2,484.2 L359.9,481.4 L363.6,480.4 L366.3,480.0 L369.0,481.1 L368.2,483.3 L368.5,485.4 L366.0,486.9 L362.5,486.8Z M348.7,507.1 L347.0,507.4 L344.5,509.2 L342.6,507.4 L344.6,505.6 L343.3,502.6 L346.8,501.8 L349.2,503.6 L350.3,505.6Z M338.4,523.7 L337.2,525.1 L336.4,523.6 L335.5,522.8 L335.8,521.7 L337.2,521.5 L338.9,520.6 L340.2,521.8 L341.6,523.6Z M350.2,499.0 L351.6,497.6 L353.5,496.5 L355.4,497.5 L356.0,498.9 L357.9,500.9 L355.5,502.6 L352.5,502.4 L350.6,500.9Z M362.9,508.6 L361.3,507.7 L361.9,506.2 L361.0,503.4 L364.2,503.8 L367.7,503.5 L367.4,506.3 L368.9,509.1 L365.5,510.6Z M352.0,536.0 L353.6,538.8 L349.9,538.9 L346.3,540.0 L346.0,536.9 L347.3,535.4 L347.1,533.0 L350.2,532.1 L351.6,534.5Z M379.6,529.8 L378.8,532.7 L375.3,532.0 L375.1,529.4 L374.3,528.2 L375.7,527.3 L377.0,527.0 L380.2,525.7 L379.4,528.3Z M379.0,517.6 L380.6,517.1 L382.2,515.7 L382.9,517.5 L384.8,518.5 L382.8,519.3 L381.9,520.4 L380.5,519.7 L379.5,518.9Z M375.3,489.9 L373.4,491.4 L372.8,493.6 L370.6,492.1 L369.0,491.6 L367.2,490.0 L369.0,488.4 L371.3,489.1 L374.2,487.7Z M392.4,587.7 L389.8,588.8 L389.2,586.6 L389.2,585.1 L390.7,584.4 L392.0,584.2 L394.6,583.7 L394.3,585.6 L394.9,587.5Z M415.7,586.4 L413.5,585.3 L415.3,583.9 L416.6,582.9 L418.9,582.4 L419.0,584.4 L419.0,585.3 L419.6,587.4 L417.2,587.7Z M402.0,566.5 L399.7,567.1 L397.9,565.6 L400.3,564.2 L400.6,561.9 L403.3,562.1 L404.7,563.8 L404.6,565.3 L403.1,566.0Z M359.5,492.7 L357.0,493.1 L355.8,494.3 L354.8,493.0 L352.8,492.3 L353.8,490.8 L355.5,490.6 L356.6,490.9 L358.7,491.0Z M344.7,514.6 L344.2,516.0 L342.1,516.7 L340.6,515.3 L341.0,513.9 L340.3,511.9 L342.8,512.6 L343.7,513.2 L344.9,513.6Z M357.3,516.5 L357.0,515.4 L357.6,514.1 L359.6,513.3 L360.5,515.0 L361.8,516.0 L362.5,518.3 L359.8,519.8 L357.1,518.6Z M350.9,523.7 L352.6,524.7 L353.2,525.4 L353.4,526.2 L354.7,528.4 L352.1,528.7 L349.4,528.6 L350.6,526.2 L349.2,524.8Z M364.8,520.3 L366.2,519.1 L366.9,517.0 L368.6,519.0 L370.5,519.0 L371.2,520.6 L370.2,522.3 L367.8,522.6 L365.8,521.8Z M341.9,529.4 L342.7,531.1 L343.9,532.2 L343.4,533.9 L341.3,534.6 L339.7,533.4 L338.0,532.6 L338.0,530.9 L339.9,530.2Z M355.4,539.7 L356.7,538.8 L358.7,539.1 L358.4,540.7 L359.7,542.0 L358.7,543.8 L356.1,543.8 L354.3,542.5 L354.7,540.8Z M371.7,538.0 L373.3,538.5 L375.1,539.3 L373.2,540.4 L373.3,542.1 L371.7,540.9 L369.8,541.2 L369.7,539.9 L370.8,539.1Z M397.1,550.9 L399.2,550.7 L401.6,551.5 L400.1,553.3 L398.9,553.8 L398.0,554.8 L395.8,555.0 L396.1,553.2 L396.4,552.2Z M412.3,558.8 L412.2,560.2 L412.4,561.9 L410.1,561.5 L408.3,561.8 L408.4,560.3 L408.0,559.2 L408.7,557.7 L410.9,557.4Z M426.7,564.8 L427.8,565.9 L426.7,567.0 L425.4,567.2 L423.8,567.8 L421.7,567.1 L421.6,565.2 L423.2,563.9 L425.5,563.0Z M435.8,559.1 L434.4,559.1 L434.3,558.0 L434.8,557.2 L435.6,556.5 L437.2,556.3 L438.0,557.4 L437.7,558.5 L437.5,560.0Z M449.7,551.8 L448.3,552.7 L447.4,553.1 L445.4,554.8 L445.7,552.5 L443.6,551.4 L445.2,550.1 L447.1,550.2 L449.5,549.9Z M456.3,560.1 L456.4,561.2 L455.1,560.9 L453.2,561.8 L453.5,560.3 L453.8,559.5 L454.6,559.2 L455.7,558.1 L456.7,559.1Z M502.9,526.3 L504.8,525.3 L507.3,525.6 L508.0,527.4 L506.6,528.6 L506.0,529.8 L504.5,529.3 L503.9,528.5 L502.5,527.8Z M511.6,518.8 L512.8,518.7 L513.9,519.4 L514.8,520.7 L513.3,521.6 L511.7,522.1 L509.8,521.6 L509.9,520.1 L509.5,518.5Z M542.5,511.2 L545.7,512.4 L543.8,514.3 L541.1,513.6 L539.2,514.0 L537.4,512.7 L536.8,510.4 L539.8,510.0 L542.0,509.4Z M550.5,518.1 L551.8,519.8 L550.0,521.2 L548.7,522.3 L547.2,521.3 L545.0,521.0 L544.6,519.2 L546.3,518.0 L548.4,517.5Z M556.8,510.6 L554.4,510.5 L552.7,509.1 L553.6,507.4 L554.3,505.9 L556.2,506.5 L558.5,506.2 L559.3,507.9 L557.6,508.9Z M534.8,524.8 L533.8,525.7 L532.1,526.1 L531.1,524.8 L531.9,523.9 L531.1,522.3 L533.0,523.1 L534.8,522.3 L534.4,523.8Z M381.4,277.1 L381.6,275.4 L381.6,274.6 L381.8,273.3 L383.5,272.7 L385.5,273.4 L385.9,275.0 L385.7,276.8 L383.4,276.8Z M379.2,285.7 L379.4,286.4 L379.1,287.5 L377.7,287.3 L375.9,287.3 L375.5,285.9 L376.3,284.8 L377.6,283.7 L379.2,284.5Z M371.4,269.2 L369.6,269.0 L369.3,267.5 L371.2,267.2 L372.1,265.9 L374.0,266.3 L374.0,267.8 L373.8,268.9 L372.4,269.0Z M361.6,224.6 L362.4,223.3 L364.1,224.1 L366.4,222.9 L366.4,224.8 L365.8,225.9 L364.9,227.4 L363.0,226.8 L361.9,225.9Z M370.6,232.2 L371.7,231.5 L372.5,232.3 L373.9,233.3 L372.9,234.7 L371.0,234.2 L369.8,234.2 L369.8,233.2 L369.4,232.3Z M359.2,235.8 L359.9,237.3 L359.7,238.3 L358.9,238.9 L357.8,239.9 L355.8,239.8 L356.7,238.1 L355.6,236.8 L357.7,237.2Z M366.6,246.3 L365.0,247.1 L364.3,245.8 L364.0,244.7 L364.3,243.4 L366.0,243.9 L367.9,243.2 L367.4,244.8 L368.1,245.9Z M287.0,187.4 L285.3,187.6 L284.6,186.3 L285.0,185.1 L286.2,184.2 L287.9,184.0 L288.5,185.3 L288.8,186.2 L288.9,187.8Z M278.7,178.8 L280.0,177.9 L281.4,178.7 L282.7,179.6 L281.2,180.5 L280.9,181.8 L279.1,181.9 L277.6,181.1 L278.4,179.8Z M294.0,193.8 L293.9,192.4 L292.4,191.5 L293.5,190.5 L295.1,191.2 L295.9,191.3 L297.2,191.8 L296.1,192.6 L295.3,192.8Z M270.8,186.9 L272.1,187.4 L271.0,188.3 L270.8,189.1 L269.7,189.6 L269.3,188.4 L268.8,188.0 L268.4,187.0 L269.5,186.1Z M574.7,741.7 L575.5,743.1 L574.3,744.6 L572.1,744.1 L570.1,743.4 L571.1,741.8 L572.0,741.1 L573.0,740.7 L573.9,741.1Z M582.7,734.4 L583.7,733.3 L585.2,733.8 L586.2,734.2 L586.7,735.0 L587.6,736.6 L585.7,737.8 L583.3,737.4 L583.7,735.4Z M600.0,729.0 L598.0,729.5 L596.4,730.1 L595.6,728.9 L594.9,727.9 L595.4,726.8 L596.7,726.4 L598.3,726.4 L598.0,727.7Z M605.1,715.8 L606.5,716.9 L607.8,717.2 L608.7,718.5 L607.2,719.2 L605.9,719.2 L605.0,718.8 L603.8,718.2 L605.1,717.6Z M657.5,666.5 L657.9,668.1 L657.5,669.7 L655.4,670.1 L653.9,669.4 L652.5,668.7 L652.8,667.3 L653.3,665.5 L655.6,665.6Z M647.9,662.2 L646.3,661.4 L645.5,660.2 L645.8,658.9 L647.5,658.7 L649.1,658.0 L650.5,659.0 L650.3,660.4 L649.5,661.6Z M612.2,698.3 L614.1,698.4 L613.3,699.9 L613.6,700.9 L612.6,701.8 L611.5,700.8 L610.1,700.7 L609.3,699.4 L610.5,698.3Z" fill="#f4f4f4" stroke="#000" stroke-width="0.9" stroke-linejoin="round"/><circle cx="290.4" cy="185.8" r="0.75" fill="#000"/><circle cx="278.3" cy="188.6" r="0.75" fill="#000"/><circle cx="271.8" cy="189.1" r="0.75" fill="#000"/><circle cx="286.0" cy="194.0" r="0.75" fill="#000"/><circle cx="262.9" cy="171.5" r="0.75" fill="#000"/><circle cx="293.1" cy="181.6" r="0.75" fill="#000"/><circle cx="262.2" cy="170.5" r="0.77" fill="#000"/><circle cx="276.9" cy="170.0" r="0.75" fill="#000"/><circle cx="286.1" cy="161.6" r="0.75" fill="#000"/><circle cx="351.3" cy="198.2" r="0.75" fill="#000"/><circle cx="346.6" cy="195.0" r="0.75" fill="#000"/><circle cx="348.0" cy="202.3" r="0.75" fill="#000"/><circle cx="371.2" cy="207.3" r="0.75" fill="#000"/><circle cx="352.6" cy="201.9" r="0.75" fill="#000"/><circle cx="345.7" cy="214.0" r="0.75" fill="#000"/><circle cx="349.4" cy="205.9" r="0.75" fill="#000"/><circle cx="353.3" cy="228.1" r="0.75" fill="#000"/><circle cx="383.9" cy="260.0" r="0.75" fill="#000"/><circle cx="376.2" cy="258.9" r="0.75" fill="#000"/><circle cx="392.1" cy="253.8" r="0.75" fill="#000"/><circle cx="363.6" cy="228.8" r="0.75" fill="#000"/><circle cx="379.0" cy="227.2" r="0.75" fill="#000"/><circle cx="358.0" cy="257.8" r="0.75" fill="#000"/><circle cx="352.2" cy="252.6" r="0.75" fill="#000"/><circle cx="373.8" cy="249.1" r="0.77" fill="#000"/><circle cx="367.0" cy="239.4" r="0.77" fill="#000"/><circle cx="388.1" cy="220.0" r="0.78" fill="#000"/><circle cx="383.9" cy="236.3" r="0.75" fill="#000"/><circle cx="374.0" cy="259.3" r="0.89" fill="#000"/><circle cx="392.3" cy="259.3" r="0.75" fill="#000"/><circle cx="397.5" cy="254.1" r="0.75" fill="#000"/><circle cx="371.9" cy="239.2" r="0.75" fill="#000"/><circle cx="365.3" cy="267.9" r="0.75" fill="#000"/><circle cx="369.0" cy="275.1" r="0.75" fill="#000"/><circle cx="338.3" cy="263.3" r="0.75" fill="#000"/><circle cx="355.5" cy="283.3" r="0.75" fill="#000"/><circle cx="339.8" cy="274.1" r="0.75" fill="#000"/><circle cx="339.0" cy="265.7" r="0.75" fill="#000"/><circle cx="342.5" cy="269.2" r="0.75" fill="#000"/><circle cx="363.1" cy="268.7" r="0.75" fill="#000"/><circle cx="341.6" cy="270.0" r="0.75" fill="#000"/><circle cx="344.3" cy="262.4" r="0.77" fill="#000"/><circle cx="355.4" cy="266.4" r="0.75" fill="#000"/><circle cx="369.6" cy="264.4" r="0.82" fill="#000"/><circle cx="351.0" cy="273.4" r="0.83" fill="#000"/><circle cx="368.0" cy="322.8" r="0.75" fill="#000"/><circle cx="387.4" cy="315.4" r="0.77" fill="#000"/><circle cx="378.3" cy="328.6" r="0.75" fill="#000"/><circle cx="366.5" cy="302.4" r="0.75" fill="#000"/><circle cx="357.3" cy="333.3" r="0.75" fill="#000"/><circle cx="360.4" cy="303.8" r="0.77" fill="#000"/><circle cx="383.7" cy="330.2" r="0.75" fill="#000"/><circle cx="363.0" cy="313.2" r="0.75" fill="#000"/><circle cx="360.2" cy="320.1" r="0.75" fill="#000"/><circle cx="386.7" cy="343.8" r="0.75" fill="#000"/><circle cx="363.1" cy="343.5" r="0.75" fill="#000"/><circle cx="366.8" cy="300.0" r="0.75" fill="#000"/><circle cx="370.7" cy="322.6" r="0.75" fill="#000"/><circle cx="371.7" cy="300.2" r="0.75" fill="#000"/><circle cx="358.0" cy="318.0" r="0.75" fill="#000"/><circle cx="355.7" cy="313.7" r="0.75" fill="#000"/><circle cx="374.3" cy="323.8" r="0.75" fill="#000"/><circle cx="376.7" cy="332.2" r="0.79" fill="#000"/><circle cx="367.9" cy="314.7" r="0.85" fill="#000"/><circle cx="359.9" cy="332.6" r="0.75" fill="#000"/><circle cx="356.4" cy="337.6" r="0.80" fill="#000"/><circle cx="375.7" cy="333.0" r="0.75" fill="#000"/><circle cx="359.6" cy="323.6" r="0.75" fill="#000"/><circle cx="382.6" cy="336.2" r="0.76" fill="#000"/><circle cx="374.3" cy="340.2" r="0.75" fill="#000"/><circle cx="377.9" cy="310.3" r="0.75" fill="#000"/><circle cx="350.3" cy="354.7" r="0.75" fill="#000"/><circle cx="378.4" cy="360.1" r="0.75" fill="#000"/><circle cx="370.0" cy="363.4" r="0.75" fill="#000"/><circle cx="345.1" cy="366.5" r="0.78" fill="#000"/><circle cx="365.1" cy="359.5" r="0.75" fill="#000"/><circle cx="347.6" cy="364.9" r="0.75" fill="#000"/><circle cx="348.0" cy="352.2" r="0.77" fill="#000"/><circle cx="350.9" cy="351.9" r="0.78" fill="#000"/><circle cx="357.2" cy="360.3" r="0.75" fill="#000"/><circle cx="347.4" cy="352.3" r="0.75" fill="#000"/><circle cx="372.7" cy="363.2" r="0.75" fill="#000"/><circle cx="365.7" cy="357.5" r="0.75" fill="#000"/><circle cx="349.7" cy="369.1" r="0.75" fill="#000"/><circle cx="384.1" cy="370.3" r="0.75" fill="#000"/><circle cx="383.1" cy="348.6" r="0.82" fill="#000"/><circle cx="365.3" cy="368.9" r="0.75" fill="#000"/><circle cx="354.3" cy="369.2" r="0.75" fill="#000"/><circle cx="346.0" cy="345.1" r="0.75" fill="#000"/><circle cx="363.0" cy="353.2" r="0.75" fill="#000"/><circle cx="358.8" cy="353.5" r="0.84" fill="#000"/><circle cx="330.0" cy="410.0" r="0.75" fill="#000"/><circle cx="332.4" cy="413.5" r="0.75" fill="#000"/><circle cx="348.0" cy="400.8" r="0.75" fill="#000"/><circle cx="337.9" cy="415.0" r="0.75" fill="#000"/><circle cx="337.2" cy="403.6" r="0.75" fill="#000"/><circle cx="331.0" cy="397.0" r="0.75" fill="#000"/><circle cx="335.7" cy="413.7" r="0.75" fill="#000"/><circle cx="335.3" cy="405.2" r="0.75" fill="#000"/><circle cx="373.5" cy="417.1" r="0.75" fill="#000"/><circle cx="382.2" cy="410.6" r="0.75" fill="#000"/><circle cx="384.8" cy="409.0" r="0.75" fill="#000"/><circle cx="367.0" cy="412.6" r="0.75" fill="#000"/><circle cx="381.1" cy="410.9" r="0.75" fill="#000"/><circle cx="367.0" cy="416.5" r="0.75" fill="#000"/><circle cx="375.4" cy="404.9" r="0.75" fill="#000"/><circle cx="380.8" cy="417.5" r="0.75" fill="#000"/><circle cx="379.1" cy="404.0" r="0.75" fill="#000"/><circle cx="373.9" cy="401.3" r="0.75" fill="#000"/><circle cx="370.2" cy="416.1" r="0.75" fill="#000"/><circle cx="370.4" cy="416.1" r="0.75" fill="#000"/><circle cx="375.0" cy="400.8" r="0.75" fill="#000"/><circle cx="367.8" cy="404.8" r="0.75" fill="#000"/><circle cx="338.6" cy="458.9" r="0.75" fill="#000"/><circle cx="348.3" cy="466.2" r="0.75" fill="#000"/><circle cx="341.2" cy="462.9" r="0.75" fill="#000"/><circle cx="340.1" cy="455.9" r="0.75" fill="#000"/><circle cx="349.5" cy="456.9" r="0.75" fill="#000"/><circle cx="344.4" cy="467.9" r="0.75" fill="#000"/><circle cx="339.1" cy="458.7" r="0.75" fill="#000"/><circle cx="341.7" cy="469.3" r="0.75" fill="#000"/><circle cx="342.5" cy="478.5" r="0.75" fill="#000"/><circle cx="339.2" cy="497.7" r="0.75" fill="#000"/><circle cx="336.7" cy="478.0" r="0.75" fill="#000"/><circle cx="343.5" cy="496.2" r="0.75" fill="#000"/><circle cx="344.4" cy="483.5" r="0.75" fill="#000"/><circle cx="328.1" cy="489.5" r="0.75" fill="#000"/><circle cx="343.8" cy="493.9" r="0.75" fill="#000"/><circle cx="340.3" cy="488.1" r="0.75" fill="#000"/><circle cx="341.7" cy="545.8" r="0.75" fill="#000"/><circle cx="378.6" cy="537.0" r="0.75" fill="#000"/><circle cx="357.7" cy="539.4" r="0.75" fill="#000"/><circle cx="380.0" cy="527.2" r="0.75" fill="#000"/><circle cx="367.9" cy="519.6" r="0.83" fill="#000"/><circle cx="353.9" cy="506.0" r="0.75" fill="#000"/><circle cx="370.1" cy="515.6" r="0.75" fill="#000"/><circle cx="348.4" cy="511.1" r="0.75" fill="#000"/><circle cx="355.5" cy="504.2" r="0.75" fill="#000"/><circle cx="363.0" cy="499.1" r="0.75" fill="#000"/><circle cx="363.8" cy="518.2" r="0.90" fill="#000"/><circle cx="376.3" cy="559.8" r="0.82" fill="#000"/><circle cx="348.3" cy="542.3" r="0.75" fill="#000"/><circle cx="373.8" cy="557.8" r="0.75" fill="#000"/><circle cx="373.0" cy="509.4" r="0.88" fill="#000"/><circle cx="375.5" cy="548.9" r="0.75" fill="#000"/><circle cx="341.6" cy="549.5" r="0.75" fill="#000"/><circle cx="366.0" cy="526.8" r="0.75" fill="#000"/><circle cx="341.7" cy="536.4" r="0.75" fill="#000"/><circle cx="353.4" cy="497.4" r="0.75" fill="#000"/><circle cx="367.9" cy="515.3" r="0.75" fill="#000"/><circle cx="354.9" cy="501.9" r="0.81" fill="#000"/><circle cx="379.4" cy="542.7" r="0.75" fill="#000"/><circle cx="367.0" cy="557.7" r="0.75" fill="#000"/><circle cx="377.0" cy="496.0" r="0.75" fill="#000"/><circle cx="366.5" cy="513.7" r="0.75" fill="#000"/><circle cx="344.1" cy="544.2" r="0.75" fill="#000"/><circle cx="337.0" cy="577.0" r="0.75" fill="#000"/><circle cx="335.6" cy="571.3" r="0.86" fill="#000"/><circle cx="345.5" cy="581.5" r="0.75" fill="#000"/><circle cx="347.5" cy="567.4" r="0.75" fill="#000"/><circle cx="337.6" cy="593.3" r="0.75" fill="#000"/><circle cx="350.8" cy="571.3" r="0.75" fill="#000"/><circle cx="345.4" cy="579.9" r="0.75" fill="#000"/><circle cx="349.5" cy="561.0" r="0.75" fill="#000"/><circle cx="335.8" cy="596.0" r="0.75" fill="#000"/><circle cx="338.3" cy="595.4" r="0.75" fill="#000"/><circle cx="340.1" cy="581.3" r="0.89" fill="#000"/><circle cx="346.6" cy="585.9" r="0.75" fill="#000"/><circle cx="349.5" cy="569.5" r="0.75" fill="#000"/><circle cx="351.5" cy="589.1" r="0.75" fill="#000"/><circle cx="351.2" cy="564.1" r="0.75" fill="#000"/><circle cx="351.6" cy="591.8" r="0.87" fill="#000"/><circle cx="339.6" cy="567.8" r="0.80" fill="#000"/><circle cx="332.4" cy="568.3" r="0.75" fill="#000"/><circle cx="350.0" cy="577.2" r="0.75" fill="#000"/><circle cx="346.5" cy="576.8" r="0.75" fill="#000"/><circle cx="339.2" cy="591.3" r="0.86" fill="#000"/><circle cx="343.9" cy="570.0" r="0.75" fill="#000"/><circle cx="340.0" cy="584.9" r="0.75" fill="#000"/><circle cx="397.9" cy="597.2" r="0.75" fill="#000"/><circle cx="396.5" cy="591.1" r="0.75" fill="#000"/><circle cx="385.3" cy="599.0" r="0.75" fill="#000"/><circle cx="408.4" cy="580.9" r="0.75" fill="#000"/><circle cx="352.9" cy="576.7" r="0.75" fill="#000"/><circle cx="399.5" cy="574.1" r="0.75" fill="#000"/><circle cx="401.1" cy="571.2" r="0.75" fill="#000"/><circle cx="372.5" cy="579.2" r="0.76" fill="#000"/><circle cx="395.3" cy="586.4" r="0.75" fill="#000"/><circle cx="415.2" cy="594.2" r="0.75" fill="#000"/><circle cx="358.9" cy="565.7" r="0.75" fill="#000"/><circle cx="404.8" cy="573.9" r="0.75" fill="#000"/><circle cx="413.5" cy="591.7" r="0.75" fill="#000"/><circle cx="381.8" cy="595.3" r="0.89" fill="#000"/><circle cx="370.0" cy="569.4" r="0.75" fill="#000"/><circle cx="385.5" cy="562.3" r="0.80" fill="#000"/><circle cx="361.8" cy="579.7" r="0.83" fill="#000"/><circle cx="388.7" cy="594.5" r="0.75" fill="#000"/><circle cx="392.5" cy="587.2" r="0.75" fill="#000"/><circle cx="405.5" cy="582.5" r="0.75" fill="#000"/><circle cx="372.5" cy="576.9" r="0.75" fill="#000"/><circle cx="401.9" cy="567.5" r="0.75" fill="#000"/><circle cx="400.8" cy="560.5" r="0.75" fill="#000"/><circle cx="396.2" cy="592.7" r="0.75" fill="#000"/><circle cx="373.2" cy="589.2" r="0.75" fill="#000"/><circle cx="410.5" cy="579.5" r="0.75" fill="#000"/><circle cx="377.0" cy="583.0" r="0.77" fill="#000"/><circle cx="390.5" cy="571.7" r="0.75" fill="#000"/><circle cx="375.6" cy="563.4" r="0.89" fill="#000"/><circle cx="405.8" cy="578.4" r="0.75" fill="#000"/><circle cx="406.8" cy="590.9" r="0.75" fill="#000"/><circle cx="390.4" cy="576.1" r="0.85" fill="#000"/><circle cx="407.7" cy="598.5" r="0.75" fill="#000"/><circle cx="354.6" cy="568.0" r="0.75" fill="#000"/><circle cx="397.2" cy="541.4" r="0.75" fill="#000"/><circle cx="394.3" cy="548.3" r="0.75" fill="#000"/><circle cx="411.3" cy="550.0" r="0.75" fill="#000"/><circle cx="397.0" cy="560.0" r="0.75" fill="#000"/><circle cx="402.7" cy="564.9" r="0.79" fill="#000"/><circle cx="395.0" cy="543.6" r="0.75" fill="#000"/><circle cx="429.9" cy="541.1" r="0.75" fill="#000"/><circle cx="423.4" cy="546.8" r="0.75" fill="#000"/><circle cx="400.4" cy="544.3" r="0.82" fill="#000"/><circle cx="431.2" cy="558.4" r="0.81" fill="#000"/><circle cx="436.8" cy="567.2" r="0.75" fill="#000"/><circle cx="398.2" cy="551.7" r="0.86" fill="#000"/><circle cx="413.3" cy="549.4" r="0.90" fill="#000"/><circle cx="414.4" cy="545.2" r="0.75" fill="#000"/><circle cx="392.2" cy="550.3" r="0.82" fill="#000"/><circle cx="400.9" cy="548.5" r="0.75" fill="#000"/><circle cx="402.1" cy="548.5" r="0.75" fill="#000"/><circle cx="434.8" cy="579.7" r="0.75" fill="#000"/><circle cx="423.3" cy="584.2" r="0.75" fill="#000"/><circle cx="423.1" cy="562.5" r="0.75" fill="#000"/><circle cx="456.8" cy="549.9" r="0.75" fill="#000"/><circle cx="468.0" cy="578.2" r="0.75" fill="#000"/><circle cx="436.9" cy="560.9" r="0.87" fill="#000"/><circle cx="426.4" cy="584.2" r="0.75" fill="#000"/><circle cx="458.3" cy="571.4" r="0.75" fill="#000"/><circle cx="468.1" cy="570.7" r="0.75" fill="#000"/><circle cx="459.2" cy="584.3" r="0.82" fill="#000"/><circle cx="439.0" cy="565.4" r="0.75" fill="#000"/><circle cx="456.2" cy="558.2" r="0.75" fill="#000"/><circle cx="447.8" cy="562.3" r="0.75" fill="#000"/><circle cx="459.4" cy="583.2" r="0.75" fill="#000"/><circle cx="442.2" cy="553.3" r="0.75" fill="#000"/><circle cx="427.2" cy="570.9" r="0.79" fill="#000"/><circle cx="424.4" cy="586.4" r="0.75" fill="#000"/><circle cx="453.8" cy="568.6" r="0.75" fill="#000"/><circle cx="438.7" cy="563.0" r="0.78" fill="#000"/><circle cx="427.8" cy="558.0" r="0.75" fill="#000"/><circle cx="445.2" cy="553.5" r="0.75" fill="#000"/><circle cx="451.5" cy="572.1" r="0.75" fill="#000"/><circle cx="469.7" cy="573.6" r="0.75" fill="#000"/><circle cx="440.6" cy="580.4" r="0.75" fill="#000"/><circle cx="454.5" cy="545.2" r="0.75" fill="#000"/><circle cx="462.1" cy="571.4" r="0.87" fill="#000"/><circle cx="429.8" cy="567.4" r="0.77" fill="#000"/><circle cx="433.3" cy="574.1" r="0.75" fill="#000"/><circle cx="469.9" cy="570.9" r="0.75" fill="#000"/><circle cx="420.6" cy="579.7" r="0.75" fill="#000"/><circle cx="455.8" cy="560.9" r="0.75" fill="#000"/><circle cx="442.0" cy="572.9" r="0.75" fill="#000"/><circle cx="479.3" cy="538.9" r="0.75" fill="#000"/><circle cx="498.1" cy="504.6" r="0.83" fill="#000"/><circle cx="489.3" cy="516.1" r="0.75" fill="#000"/><circle cx="476.2" cy="533.0" r="0.75" fill="#000"/><circle cx="482.2" cy="507.6" r="0.75" fill="#000"/><circle cx="511.8" cy="532.2" r="0.75" fill="#000"/><circle cx="487.6" cy="528.9" r="0.75" fill="#000"/><circle cx="502.9" cy="522.7" r="0.75" fill="#000"/><circle cx="489.5" cy="503.4" r="0.75" fill="#000"/><circle cx="476.3" cy="528.7" r="0.75" fill="#000"/><circle cx="505.6" cy="501.6" r="0.75" fill="#000"/><circle cx="478.1" cy="507.9" r="0.75" fill="#000"/><circle cx="489.0" cy="501.6" r="0.75" fill="#000"/><circle cx="508.8" cy="511.5" r="0.75" fill="#000"/><circle cx="512.7" cy="524.3" r="0.75" fill="#000"/><circle cx="504.9" cy="517.1" r="0.81" fill="#000"/><circle cx="533.7" cy="502.7" r="0.75" fill="#000"/><circle cx="542.6" cy="509.1" r="0.75" fill="#000"/><circle cx="527.8" cy="525.3" r="0.75" fill="#000"/><circle cx="539.8" cy="509.3" r="0.75" fill="#000"/><circle cx="574.6" cy="533.8" r="0.75" fill="#000"/><circle cx="559.4" cy="544.1" r="0.86" fill="#000"/><circle cx="526.0" cy="522.0" r="0.75" fill="#000"/><circle cx="530.4" cy="524.4" r="0.75" fill="#000"/><circle cx="565.4" cy="514.4" r="0.75" fill="#000"/><circle cx="547.2" cy="522.5" r="0.75" fill="#000"/><circle cx="536.5" cy="526.2" r="0.75" fill="#000"/><circle cx="557.8" cy="507.4" r="0.75" fill="#000"/><circle cx="573.3" cy="504.0" r="0.75" fill="#000"/><circle cx="543.2" cy="515.2" r="0.75" fill="#000"/><circle cx="568.9" cy="524.7" r="0.75" fill="#000"/><circle cx="567.4" cy="511.4" r="0.75" fill="#000"/><circle cx="549.2" cy="511.3" r="0.79" fill="#000"/><circle cx="550.5" cy="510.2" r="0.87" fill="#000"/><circle cx="526.2" cy="523.1" r="0.89" fill="#000"/><circle cx="524.4" cy="518.4" r="0.75" fill="#000"/><circle cx="544.2" cy="538.9" r="0.85" fill="#000"/><circle cx="559.3" cy="534.1" r="0.75" fill="#000"/><circle cx="574.5" cy="532.5" r="0.75" fill="#000"/><circle cx="565.7" cy="517.6" r="0.75" fill="#000"/><circle cx="536.5" cy="531.8" r="0.75" fill="#000"/><circle cx="565.4" cy="505.5" r="0.75" fill="#000"/><circle cx="569.5" cy="499.0" r="0.81" fill="#000"/><circle cx="541.7" cy="492.1" r="0.75" fill="#000"/><circle cx="562.0" cy="496.1" r="0.75" fill="#000"/><circle cx="577.0" cy="493.5" r="0.75" fill="#000"/><circle cx="547.7" cy="488.9" r="0.90" fill="#000"/><circle cx="563.3" cy="482.3" r="0.75" fill="#000"/><circle cx="544.4" cy="496.0" r="0.75" fill="#000"/><circle cx="562.2" cy="485.8" r="0.79" fill="#000"/><circle cx="574.9" cy="496.0" r="0.75" fill="#000"/><circle cx="547.3" cy="496.4" r="0.78" fill="#000"/><circle cx="555.7" cy="489.5" r="0.75" fill="#000"/><circle cx="554.4" cy="489.4" r="0.75" fill="#000"/><circle cx="584.7" cy="480.6" r="0.75" fill="#000"/><circle cx="589.5" cy="480.0" r="0.75" fill="#000"/><circle cx="586.5" cy="499.6" r="0.75" fill="#000"/><circle cx="578.6" cy="490.1" r="0.75" fill="#000"/><circle cx="581.8" cy="485.0" r="0.75" fill="#000"/><circle cx="589.2" cy="485.8" r="0.75" fill="#000"/><circle cx="599.8" cy="471.0" r="0.75" fill="#000"/><circle cx="594.3" cy="496.2" r="0.75" fill="#000"/><circle cx="496.2" cy="592.7" r="0.75" fill="#000"/><circle cx="473.3" cy="595.9" r="0.75" fill="#000"/><circle cx="516.0" cy="593.6" r="0.75" fill="#000"/><circle cx="504.6" cy="594.8" r="0.75" fill="#000"/><circle cx="496.3" cy="587.0" r="0.75" fill="#000"/><circle cx="481.4" cy="581.2" r="0.75" fill="#000"/><circle cx="476.0" cy="599.8" r="0.75" fill="#000"/><circle cx="478.9" cy="584.9" r="0.75" fill="#000"/><circle cx="477.7" cy="582.7" r="0.75" fill="#000"/><circle cx="511.6" cy="589.1" r="0.75" fill="#000"/><circle cx="657.1" cy="655.1" r="0.75" fill="#000"/><circle cx="642.0" cy="655.1" r="0.75" fill="#000"/><circle cx="661.8" cy="667.6" r="0.82" fill="#000"/><circle cx="650.2" cy="686.1" r="0.75" fill="#000"/><circle cx="642.4" cy="648.9" r="0.75" fill="#000"/><circle cx="669.6" cy="657.8" r="0.75" fill="#000"/><circle cx="652.8" cy="683.4" r="0.75" fill="#000"/><circle cx="654.5" cy="685.0" r="0.75" fill="#000"/><circle cx="647.7" cy="641.2" r="0.75" fill="#000"/><circle cx="648.0" cy="675.2" r="0.75" fill="#000"/><circle cx="652.0" cy="650.0" r="0.75" fill="#000"/><circle cx="665.9" cy="672.4" r="0.75" fill="#000"/><circle cx="662.0" cy="688.2" r="0.75" fill="#000"/><circle cx="642.4" cy="680.5" r="0.79" fill="#000"/><circle cx="650.2" cy="646.8" r="0.75" fill="#000"/><circle cx="656.1" cy="683.8" r="0.75" fill="#000"/><circle cx="667.7" cy="650.6" r="0.75" fill="#000"/><circle cx="662.5" cy="672.4" r="0.75" fill="#000"/><circle cx="652.2" cy="703.5" r="0.75" fill="#000"/><circle cx="641.6" cy="691.8" r="0.75" fill="#000"/><circle cx="638.4" cy="709.8" r="0.75" fill="#000"/><circle cx="635.3" cy="708.5" r="0.75" fill="#000"/><circle cx="628.6" cy="722.6" r="0.75" fill="#000"/><circle cx="646.5" cy="713.5" r="0.75" fill="#000"/><circle cx="651.3" cy="714.1" r="0.75" fill="#000"/><circle cx="654.6" cy="700.3" r="0.76" fill="#000"/><circle cx="655.5" cy="721.0" r="0.75" fill="#000"/><circle cx="655.9" cy="729.1" r="0.75" fill="#000"/><circle cx="655.3" cy="693.6" r="0.75" fill="#000"/><circle cx="630.4" cy="692.4" r="0.75" fill="#000"/><circle cx="634.7" cy="729.3" r="0.75" fill="#000"/><circle cx="650.4" cy="703.8" r="0.81" fill="#000"/><circle cx="643.4" cy="703.0" r="0.88" fill="#000"/><circle cx="629.3" cy="719.3" r="0.75" fill="#000"/><circle cx="650.8" cy="706.1" r="0.85" fill="#000"/><circle cx="627.4" cy="712.6" r="0.75" fill="#000"/><circle cx="661.8" cy="727.8" r="0.75" fill="#000"/><circle cx="634.0" cy="700.1" r="0.75" fill="#000"/><circle cx="642.4" cy="699.3" r="0.75" fill="#000"/><circle cx="655.4" cy="715.7" r="0.75" fill="#000"/><circle cx="664.8" cy="698.7" r="0.75" fill="#000"/><circle cx="615.5" cy="716.9" r="0.75" fill="#000"/><circle cx="612.4" cy="729.7" r="0.75" fill="#000"/><circle cx="595.3" cy="731.0" r="0.75" fill="#000"/><circle cx="617.1" cy="694.4" r="0.75" fill="#000"/><circle cx="615.5" cy="694.1" r="0.75" fill="#000"/><circle cx="607.9" cy="694.7" r="0.75" fill="#000"/><circle cx="610.0" cy="695.1" r="0.75" fill="#000"/><circle cx="609.9" cy="731.3" r="0.75" fill="#000"/><circle cx="611.7" cy="706.3" r="0.75" fill="#000"/><circle cx="602.2" cy="736.3" r="0.80" fill="#000"/><circle cx="594.8" cy="733.2" r="0.85" fill="#000"/><circle cx="601.9" cy="728.1" r="0.86" fill="#000"/><circle cx="598.6" cy="725.6" r="0.85" fill="#000"/><circle cx="591.6" cy="742.7" r="0.75" fill="#000"/><circle cx="603.0" cy="733.1" r="0.75" fill="#000"/><circle cx="698.3" cy="615.7" r="0.75" fill="#000"/><circle cx="716.7" cy="631.0" r="0.75" fill="#000"/><circle cx="733.8" cy="619.5" r="0.75" fill="#000"/><circle cx="734.3" cy="628.4" r="0.75" fill="#000"/><circle cx="734.6" cy="645.8" r="0.75" fill="#000"/><circle cx="687.6" cy="625.3" r="0.75" fill="#000"/><circle cx="734.1" cy="614.9" r="0.75" fill="#000"/><circle cx="700.1" cy="614.1" r="0.75" fill="#000"/><circle cx="733.2" cy="630.9" r="0.75" fill="#000"/><circle cx="690.3" cy="625.8" r="0.75" fill="#000"/><circle cx="726.7" cy="628.0" r="0.75" fill="#000"/><circle cx="732.9" cy="640.4" r="0.75" fill="#000"/><circle cx="725.8" cy="624.7" r="0.75" fill="#000"/><circle cx="699.3" cy="624.8" r="0.75" fill="#000"/><circle cx="707.9" cy="610.7" r="0.75" fill="#000"/><circle cx="719.2" cy="612.3" r="0.75" fill="#000"/><circle cx="728.1" cy="621.0" r="0.75" fill="#000"/><circle cx="699.5" cy="643.4" r="0.75" fill="#000"/><circle cx="677.3" cy="676.5" r="0.75" fill="#000"/><circle cx="669.8" cy="674.8" r="0.75" fill="#000"/><circle cx="668.0" cy="656.1" r="0.75" fill="#000"/><circle cx="667.9" cy="672.8" r="0.75" fill="#000"/><circle cx="669.3" cy="671.2" r="0.75" fill="#000"/><circle cx="667.3" cy="664.6" r="0.75" fill="#000"/><circle cx="687.4" cy="659.8" r="0.75" fill="#000"/><circle cx="679.9" cy="664.3" r="0.75" fill="#000"/><circle cx="666.5" cy="656.8" r="0.75" fill="#000"/><circle cx="668.3" cy="668.1" r="0.75" fill="#000"/><circle cx="663.5" cy="756.4" r="0.75" fill="#000"/><circle cx="658.9" cy="751.9" r="0.75" fill="#000"/><circle cx="662.6" cy="751.2" r="0.75" fill="#000"/><circle cx="663.4" cy="751.6" r="0.75" fill="#000"/><circle cx="657.7" cy="757.4" r="0.75" fill="#000"/><circle cx="714.8" cy="788.0" r="0.75" fill="#000"/><circle cx="713.6" cy="791.1" r="0.75" fill="#000"/><circle cx="715.4" cy="782.4" r="0.75" fill="#000"/><circle cx="701.5" cy="796.3" r="0.75" fill="#000"/><circle cx="701.8" cy="795.1" r="0.75" fill="#000"/><circle cx="701.1" cy="793.6" r="0.75" fill="#000"/><circle cx="709.7" cy="781.1" r="0.75" fill="#000"/><circle cx="708.4" cy="791.7" r="0.86" fill="#000"/><circle cx="695.4" cy="812.4" r="0.75" fill="#000"/><circle cx="683.4" cy="805.4" r="0.75" fill="#000"/><circle cx="699.7" cy="800.5" r="0.75" fill="#000"/><circle cx="682.8" cy="800.1" r="0.75" fill="#000"/><circle cx="688.9" cy="805.2" r="0.75" fill="#000"/><circle cx="872.7" cy="593.2" r="0.75" fill="#000"/><circle cx="883.2" cy="608.1" r="0.75" fill="#000"/><circle cx="874.8" cy="586.4" r="0.75" fill="#000"/><circle cx="877.2" cy="597.5" r="0.75" fill="#000"/><circle cx="880.2" cy="594.9" r="0.75" fill="#000"/><circle cx="874.8" cy="609.8" r="0.75" fill="#000"/><circle cx="872.7" cy="593.5" r="0.75" fill="#000"/><circle cx="877.7" cy="600.3" r="0.75" fill="#000"/><circle cx="870.7" cy="644.9" r="0.75" fill="#000"/><circle cx="879.9" cy="645.1" r="0.75" fill="#000"/><circle cx="874.5" cy="648.4" r="0.75" fill="#000"/><circle cx="883.4" cy="626.4" r="0.75" fill="#000"/><circle cx="878.4" cy="626.2" r="0.85" fill="#000"/><circle cx="866.5" cy="639.9" r="0.75" fill="#000"/><circle cx="884.4" cy="639.0" r="0.81" fill="#000"/><circle cx="875.5" cy="641.8" r="0.75" fill="#000"/><circle cx="874.7" cy="693.2" r="0.75" fill="#000"/><circle cx="872.3" cy="703.8" r="0.75" fill="#000"/><circle cx="871.6" cy="691.4" r="0.75" fill="#000"/><circle cx="885.2" cy="696.2" r="0.75" fill="#000"/><circle cx="874.1" cy="703.6" r="0.75" fill="#000"/><circle cx="872.5" cy="690.8" r="0.75" fill="#000"/><circle cx="843.2" cy="621.9" r="0.75" fill="#000"/><circle cx="848.5" cy="617.1" r="0.75" fill="#000"/><circle cx="857.7" cy="608.9" r="0.75" fill="#000"/><circle cx="851.1" cy="622.0" r="0.75" fill="#000"/><circle cx="864.4" cy="624.6" r="0.75" fill="#000"/><circle cx="842.9" cy="613.2" r="0.75" fill="#000"/><circle cx="781.4" cy="553.2" r="0.75" fill="#000"/><circle cx="787.1" cy="555.9" r="0.75" fill="#000"/><circle cx="792.3" cy="546.7" r="0.75" fill="#000"/><circle cx="778.9" cy="558.8" r="0.75" fill="#000"/><circle cx="798.5" cy="552.9" r="0.75" fill="#000"/><circle cx="203.8" cy="281.6" r="1.25" fill="#000"/><circle cx="220.6" cy="281.6" r="1.25" fill="#000"/><circle cx="239.4" cy="281.6" r="1.25" fill="#000"/><circle cx="257.5" cy="281.6" r="1.25" fill="#000"/><circle cx="274.4" cy="281.6" r="1.25" fill="#000"/><circle cx="292.5" cy="281.6" r="1.25" fill="#000"/><circle cx="309.4" cy="281.6" r="1.25" fill="#000"/><circle cx="324.4" cy="281.6" r="1.25" fill="#000"/><circle cx="341.9" cy="281.6" r="1.25" fill="#000"/><circle cx="205.6" cy="347.5" r="1.25" fill="#000"/><circle cx="222.5" cy="347.5" r="1.25" fill="#000"/><circle cx="239.4" cy="347.5" r="1.25" fill="#000"/><circle cx="257.5" cy="347.5" r="1.25" fill="#000"/><circle cx="274.4" cy="347.5" r="1.25" fill="#000"/><circle cx="292.5" cy="347.5" r="1.25" fill="#000"/><circle cx="309.4" cy="347.5" r="1.25" fill="#000"/><circle cx="325.6" cy="347.5" r="1.25" fill="#000"/><circle cx="345.6" cy="347.5" r="1.25" fill="#000"/><circle cx="203.0" cy="399.4" r="1.25" fill="#000"/><circle cx="222.5" cy="399.4" r="1.25" fill="#000"/><circle cx="239.4" cy="399.4" r="1.25" fill="#000"/><circle cx="257.5" cy="399.4" r="1.25" fill="#000"/><circle cx="274.4" cy="399.4" r="1.25" fill="#000"/><circle cx="291.0" cy="399.4" r="1.25" fill="#000"/><circle cx="309.4" cy="399.4" r="1.25" fill="#000"/><circle cx="326.0" cy="399.4" r="1.25" fill="#000"/><circle cx="348.8" cy="399.4" r="1.25" fill="#000"/><circle cx="356.0" cy="399.4" r="1.25" fill="#000"/><circle cx="205.6" cy="456.2" r="1.25" fill="#000"/><circle cx="222.5" cy="456.2" r="1.25" fill="#000"/><circle cx="239.4" cy="456.2" r="1.25" fill="#000"/><circle cx="257.5" cy="456.2" r="1.25" fill="#000"/><circle cx="274.4" cy="456.2" r="1.25" fill="#000"/><circle cx="291.2" cy="456.2" r="1.25" fill="#000"/><circle cx="308.8" cy="456.2" r="1.25" fill="#000"/><circle cx="326.2" cy="456.2" r="1.25" fill="#000"/><circle cx="205.6" cy="525.6" r="1.25" fill="#000"/><circle cx="222.5" cy="525.6" r="1.25" fill="#000"/><circle cx="239.4" cy="525.6" r="1.25" fill="#000"/><circle cx="257.5" cy="525.6" r="1.25" fill="#000"/><circle cx="284.4" cy="525.6" r="1.25" fill="#000"/><circle cx="301.2" cy="525.6" r="1.25" fill="#000"/><circle cx="318.1" cy="525.6" r="1.25" fill="#000"/><circle cx="206.0" cy="594.5" r="1.25" fill="#000"/><circle cx="223.0" cy="594.5" r="1.25" fill="#000"/><circle cx="257.5" cy="594.5" r="1.25" fill="#000"/><circle cx="274.0" cy="596.0" r="1.25" fill="#000"/><circle cx="299.0" cy="600.0" r="1.25" fill="#000"/><circle cx="316.0" cy="602.0" r="1.25" fill="#000"/><circle cx="333.0" cy="605.5" r="1.25" fill="#000"/><circle cx="350.0" cy="607.0" r="1.25" fill="#000"/><circle cx="206.0" cy="670.5" r="1.25" fill="#000"/><circle cx="223.0" cy="670.5" r="1.25" fill="#000"/><circle cx="240.6" cy="670.5" r="1.25" fill="#000"/><circle cx="257.5" cy="670.5" r="1.25" fill="#000"/><circle cx="274.0" cy="670.5" r="1.25" fill="#000"/><circle cx="291.0" cy="670.5" r="1.25" fill="#000"/><circle cx="308.0" cy="670.5" r="1.25" fill="#000"/><circle cx="341.0" cy="670.5" r="1.25" fill="#000"/><circle cx="257.5" cy="715.5" r="1.25" fill="#000"/><circle cx="282.5" cy="715.5" r="1.25" fill="#000"/><circle cx="308.0" cy="715.5" r="1.25" fill="#000"/><circle cx="333.8" cy="715.5" r="1.25" fill="#000"/><circle cx="359.4" cy="715.5" r="1.25" fill="#000"/><circle cx="384.4" cy="715.5" r="1.25" fill="#000"/><circle cx="410.0" cy="715.5" r="1.25" fill="#000"/><circle cx="435.6" cy="715.5" r="1.25" fill="#000"/><circle cx="461.0" cy="715.5" r="1.25" fill="#000"/><circle cx="486.0" cy="715.5" r="1.25" fill="#000"/><circle cx="172.5" cy="770.5" r="1.25" fill="#000"/><circle cx="214.5" cy="770.5" r="1.25" fill="#000"/><circle cx="257.5" cy="770.5" r="1.25" fill="#000"/><circle cx="281.2" cy="770.5" r="1.25" fill="#000"/><circle cx="306.2" cy="770.5" r="1.25" fill="#000"/><circle cx="332.5" cy="770.5" r="1.25" fill="#000"/><circle cx="358.0" cy="770.5" r="1.25" fill="#000"/><circle cx="384.2" cy="770.5" r="1.25" fill="#000"/><circle cx="409.2" cy="770.5" r="1.25" fill="#000"/><circle cx="433.8" cy="770.5" r="1.25" fill="#000"/><circle cx="459.5" cy="770.5" r="1.25" fill="#000"/><circle cx="172.5" cy="825.5" r="1.25" fill="#000"/><circle cx="214.5" cy="825.5" r="1.25" fill="#000"/><circle cx="257.5" cy="825.5" r="1.25" fill="#000"/><circle cx="281.2" cy="825.5" r="1.25" fill="#000"/><circle cx="306.2" cy="825.5" r="1.25" fill="#000"/><circle cx="332.5" cy="825.5" r="1.25" fill="#000"/><circle cx="357.5" cy="825.5" r="1.25" fill="#000"/><circle cx="382.5" cy="825.5" r="1.25" fill="#000"/><circle cx="407.5" cy="825.5" r="1.25" fill="#000"/><circle cx="432.5" cy="825.5" r="1.25" fill="#000"/><circle cx="458.2" cy="825.5" r="1.25" fill="#000"/><circle cx="172.5" cy="881.8" r="1.25" fill="#000"/><circle cx="214.5" cy="881.8" r="1.25" fill="#000"/><circle cx="257.5" cy="881.8" r="1.25" fill="#000"/><circle cx="281.2" cy="881.8" r="1.25" fill="#000"/><circle cx="306.2" cy="881.8" r="1.25" fill="#000"/><circle cx="332.5" cy="881.8" r="1.25" fill="#000"/><circle cx="357.5" cy="881.8" r="1.25" fill="#000"/><circle cx="382.5" cy="881.8" r="1.25" fill="#000"/><circle cx="407.5" cy="881.8" r="1.25" fill="#000"/><circle cx="432.5" cy="881.8" r="1.25" fill="#000"/><circle cx="563.8" cy="140.0" r="1.25" fill="#000"/><circle cx="571.2" cy="140.0" r="1.25" fill="#000"/><circle cx="582.5" cy="140.0" r="1.25" fill="#000"/><circle cx="600.6" cy="140.0" r="1.25" fill="#000"/><circle cx="627.5" cy="140.0" r="1.25" fill="#000"/><circle cx="654.4" cy="140.0" r="1.25" fill="#000"/><circle cx="680.6" cy="140.0" r="1.25" fill="#000"/><circle cx="585.0" cy="174.5" r="1.25" fill="#000"/><circle cx="600.0" cy="174.5" r="1.25" fill="#000"/><circle cx="627.5" cy="174.5" r="1.25" fill="#000"/><circle cx="680.6" cy="174.5" r="1.25" fill="#000"/><circle cx="706.2" cy="174.5" r="1.25" fill="#000"/><circle cx="733.8" cy="174.5" r="1.25" fill="#000"/><circle cx="760.6" cy="174.5" r="1.25" fill="#000"/><circle cx="787.5" cy="174.5" r="1.25" fill="#000"/><circle cx="609.4" cy="211.2" r="1.25" fill="#000"/><circle cx="616.9" cy="211.2" r="1.25" fill="#000"/><circle cx="627.5" cy="211.2" r="1.25" fill="#000"/><circle cx="654.4" cy="211.2" r="1.25" fill="#000"/><circle cx="680.6" cy="211.2" r="1.25" fill="#000"/><circle cx="706.2" cy="211.2" r="1.25" fill="#000"/><circle cx="733.8" cy="211.2" r="1.25" fill="#000"/><circle cx="787.0" cy="211.2" r="1.25" fill="#000"/><circle cx="812.5" cy="211.2" r="1.25" fill="#000"/><circle cx="839.5" cy="211.2" r="1.25" fill="#000"/><circle cx="866.2" cy="211.2" r="1.25" fill="#000"/><circle cx="635.0" cy="266.3" r="1.25" fill="#000"/><circle cx="662.5" cy="266.3" r="1.25" fill="#000"/><circle cx="681.2" cy="266.3" r="1.25" fill="#000"/><circle cx="706.2" cy="266.3" r="1.25" fill="#000"/><circle cx="760.6" cy="266.3" r="1.25" fill="#000"/><circle cx="788.0" cy="266.3" r="1.25" fill="#000"/><circle cx="812.5" cy="266.3" r="1.25" fill="#000"/><circle cx="839.5" cy="266.3" r="1.25" fill="#000"/><circle cx="866.2" cy="266.3" r="1.25" fill="#000"/><circle cx="637.5" cy="327.5" r="1.25" fill="#000"/><circle cx="645.0" cy="327.5" r="1.25" fill="#000"/><circle cx="680.6" cy="327.5" r="1.25" fill="#000"/><circle cx="706.2" cy="327.5" r="1.25" fill="#000"/><circle cx="733.0" cy="327.5" r="1.25" fill="#000"/><circle cx="758.0" cy="327.5" r="1.25" fill="#000"/><circle cx="785.6" cy="327.5" r="1.25" fill="#000"/><circle cx="646.0" cy="375.6" r="1.25" fill="#000"/><circle cx="662.5" cy="375.6" r="1.25" fill="#000"/><circle cx="680.6" cy="375.6" r="1.25" fill="#000"/><circle cx="706.0" cy="375.6" r="1.25" fill="#000"/><circle cx="732.5" cy="375.6" r="1.25" fill="#000"/><circle cx="758.0" cy="375.6" r="1.25" fill="#000"/><circle cx="650.6" cy="410.6" r="1.25" fill="#000"/><circle cx="643.8" cy="449.4" r="1.25" fill="#000"/><circle cx="681.0" cy="426.0" r="1.25" fill="#000"/><circle cx="703.8" cy="438.8" r="1.25" fill="#000"/><circle cx="655.6" cy="462.5" r="1.25" fill="#000"/><circle cx="669.4" cy="473.8" r="1.25" fill="#000"/><circle cx="606.0" cy="491.0" r="1.25" fill="#000"/><circle cx="612.5" cy="499.4" r="1.25" fill="#000"/><circle cx="617.5" cy="507.0" r="1.25" fill="#000"/><circle cx="840.0" cy="248.5" r="1.25" fill="#000"/><circle cx="650.6" cy="410.0" r="1.25" fill="#000"/><circle cx="399.0" cy="612.0" r="1.25" fill="#000"/><circle cx="412.0" cy="630.0" r="1.25" fill="#000"/><circle cx="428.0" cy="641.0" r="1.25" fill="#000"/><circle cx="440.0" cy="650.0" r="1.25" fill="#000"/><circle cx="452.0" cy="660.0" r="1.25" fill="#000"/><circle cx="468.0" cy="672.0" r="1.25" fill="#000"/><circle cx="480.0" cy="681.0" r="1.25" fill="#000"/><circle cx="447.0" cy="615.0" r="1.25" fill="#000"/><circle cx="466.0" cy="605.0" r="1.25" fill="#000"/><circle cx="515.0" cy="620.0" r="1.25" fill="#000"/><circle cx="544.0" cy="634.0" r="1.25" fill="#000"/><circle cx="432.0" cy="660.0" r="1.25" fill="#000"/><circle cx="449.0" cy="650.0" r="1.25" fill="#000"/><circle cx="458.0" cy="594.0" r="1.25" fill="#000"/><circle cx="506.0" cy="595.0" r="1.25" fill="#000"/><circle cx="549.0" cy="579.0" r="1.25" fill="#000"/><circle cx="580.0" cy="553.0" r="1.25" fill="#000"/><circle cx="461.0" cy="568.0" r="1.25" fill="#000"/><circle cx="486.0" cy="541.0" r="1.25" fill="#000"/><circle cx="544.0" cy="631.0" r="1.25" fill="#000"/><circle cx="52.0" cy="264.0" r="0.9" fill="#000"/><circle cx="48.0" cy="271.0" r="0.9" fill="#000"/><circle cx="45.0" cy="283.0" r="0.9" fill="#000"/><circle cx="44.0" cy="223.0" r="0.9" fill="#000"/><circle cx="60.0" cy="223.0" r="0.9" fill="#000"/><circle cx="53.0" cy="244.0" r="0.9" fill="#000"/><circle cx="44.0" cy="958.0" r="0.9" fill="#000"/><circle cx="40.0" cy="966.0" r="0.9" fill="#000"/><circle cx="58.0" cy="952.0" r="0.9" fill="#000"/><circle cx="63.0" cy="958.0" r="0.9" fill="#000"/><circle cx="67.0" cy="964.0" r="0.9" fill="#000"/><circle cx="100.0" cy="965.0" r="0.9" fill="#000"/><circle cx="542.0" cy="822.0" r="0.9" fill="#000"/><circle cx="780.0" cy="517.0" r="0.9" fill="#000"/><circle cx="622.0" cy="527.0" r="0.9" fill="#000"/><circle cx="661.0" cy="722.0" r="0.9" fill="#000"/><circle cx="707.0" cy="958.0" r="0.9" fill="#000"/><circle cx="680.0" cy="964.0" r="0.9" fill="#000"/><circle cx="753.0" cy="965.0" r="0.9" fill="#000"/><circle cx="635.0" cy="912.0" r="0.9" fill="#000"/><circle cx="545.0" cy="905.0" r="0.9" fill="#000"/><circle cx="541.0" cy="952.0" r="0.9" fill="#000"/><circle cx="660.0" cy="898.0" r="0.9" fill="#000"/><circle cx="660.0" cy="888.0" r="0.9" fill="#000"/><circle cx="702.0" cy="865.0" r="0.9" fill="#000"/><circle cx="718.0" cy="850.0" r="0.9" fill="#000"/><circle cx="618.0" cy="816.0" r="0.9" fill="#000"/><circle cx="543.0" cy="820.0" r="0.9" fill="#000"/></g>
<clipPath id="regR"><path d="M1209.8,285.8 L1218.6,278.9 L1409.8,278.9 L1491.6,215.8 L1576.5,140.8 L1692.1,140.8 L1697.2,147.8 L1715.6,148.3 L1720.7,155.2 L1739.7,155.8 L1744.8,163.3 L1763.7,163.8 L1768.8,170.2 L1793.3,170.8 L1798.5,178.8 L1806.1,180.8 L1806.1,262.8 L1800.0,268.8 L1800.0,333.2 L1788.2,346.8 L1787.7,355.8 L1770.3,373.2 L1752.4,398.8 L1732.0,428.2 L1716.6,447.8 L1709.0,448.8 L1688.0,475.8 L1679.8,478.2 L1673.2,485.8 L1661.4,486.8 L1655.3,493.2 L1643.7,499.4 L1627.7,512.8 L1619.5,528.8 L1604.1,545.8 L1588.8,570.8 L1569.4,595.8 L1564.2,612.8 L1564.2,635.2 L1544.8,657.8 L1527.4,682.8 L1512.1,698.8 L1501.9,715.1 L1269.2,715.1 L1253.3,695.8 L1238.0,680.8 L1220.6,670.8 L1215.5,665.8 L1215.5,397.8 L1209.8,393.8Z"/></clipPath>
<filter id="blur2" x="-5%" y="-5%" width="110%" height="110%"><feGaussianBlur stdDeviation="2.5"/></filter>
<clipPath id="regL"><path d="M204.4,285.0 L213.0,278.2 L400.0,278.2 L480.0,215.0 L563.0,140.0 L676.0,140.0 L681.0,147.0 L699.0,147.6 L704.0,154.5 L722.5,155.0 L727.5,162.6 L746.0,163.0 L751.0,169.5 L775.0,170.0 L780.0,178.0 L787.5,180.0 L787.5,262.0 L781.5,268.0 L781.5,332.5 L770.0,346.0 L769.5,355.0 L752.5,372.5 L735.0,398.0 L715.0,427.5 L700.0,447.0 L692.5,448.0 L672.0,475.0 L664.0,477.5 L657.5,485.0 L646.0,486.0 L640.0,492.5 L628.7,498.7 L613.0,512.0 L605.0,528.0 L590.0,545.0 L575.0,570.0 L556.0,595.0 L551.0,612.0 L551.0,634.5 L532.0,657.0 L515.0,682.0 L500.0,698.0 L490.0,714.4 L262.5,714.4 L247.0,695.0 L232.0,680.0 L215.0,670.0 L210.0,665.0 L210.0,397.0 L204.4,393.0Z"/></clipPath>
<filter id="blur" x="-5%" y="-5%" width="110%" height="110%"><feGaussianBlur stdDeviation="3"/></filter>
</defs>
<rect width="2000" height="1024" fill="#fff"/>
<g clip-path="url(#clipL)"><g clip-path="url(#regL)"><g filter="url(#blur)"><path d="M204.4,285.0 L213.0,278.2 L400.0,278.2 L480.0,215.0 L563.0,140.0 L676.0,140.0 L681.0,147.0 L699.0,147.6 L704.0,154.5 L722.5,155.0 L727.5,162.6 L746.0,163.0 L751.0,169.5 L775.0,170.0 L780.0,178.0 L787.5,180.0 L787.5,262.0 L781.5,268.0 L781.5,332.5 L770.0,346.0 L769.5,355.0 L752.5,372.5 L735.0,398.0 L715.0,427.5 L700.0,447.0 L692.5,448.0 L672.0,475.0 L664.0,477.5 L657.5,485.0 L646.0,486.0 L640.0,492.5 L628.7,498.7 L613.0,512.0 L605.0,528.0 L590.0,545.0 L575.0,570.0 L556.0,595.0 L551.0,612.0 L551.0,634.5 L532.0,657.0 L515.0,682.0 L500.0,698.0 L490.0,714.4 L262.5,714.4 L247.0,695.0 L232.0,680.0 L215.0,670.0 L210.0,665.0 L210.0,397.0 L204.4,393.0Z" fill="#FFBC0A" stroke="#FFBC0A" stroke-width="14"/><path d="M200.0,280.0 L206.2,285.0 L207.5,295.0 L208.8,307.5 L211.2,318.8 L216.2,325.0 L223.8,326.9 L230.0,323.8 L238.8,316.9 L245.0,325.0 L250.6,333.8 L253.8,330.0 L255.0,317.5 L255.0,295.0 L255.0,287.5 L257.5,283.8 L261.2,287.5 L263.8,297.5 L267.5,312.5 L270.0,320.0 L271.9,332.5 L274.4,338.8 L280.0,328.8 L285.0,320.0 L291.2,313.1 L295.0,315.0 L305.0,326.2 L319.4,346.2 L315.0,355.0 L307.5,370.0 L302.5,378.8 L292.5,383.8 L287.5,376.2 L285.0,376.2 L282.5,381.2 L283.1,391.2 L282.5,405.0 L280.0,422.5 L270.0,408.8 L262.5,391.2 L250.0,400.0 L231.9,420.0 L232.5,431.2 L235.0,446.2 L235.0,460.0 L232.5,477.5 L231.2,490.0 L231.2,502.5 L231.9,518.0 L231.9,522.5 L233.8,537.5 L238.8,548.8 L245.0,541.2 L250.0,531.2 L253.1,520.0 L251.9,510.0 L252.5,515.0 L250.6,502.5 L250.0,490.0 L252.5,481.2 L256.9,477.5 L258.8,490.0 L260.0,502.5 L259.4,518.0 L260.6,522.5 L261.9,541.2 L263.1,560.0 L265.0,570.0 L270.0,575.0 L278.8,572.5 L287.5,569.4 L290.6,575.0 L291.2,587.5 L293.8,607.5 L296.2,622.5 L298.8,628.8 L303.8,616.2 L310.0,600.0 L315.0,572.5 L318.8,553.8 L321.9,543.1 L326.2,546.2 L332.5,555.0 L338.8,563.8 L351.2,577.5 L363.8,595.0 L376.2,608.8 L388.8,616.2 L401.2,620.0 L407.5,618.8 L412.5,635.0 L441.2,640.0 L447.5,635.0 L465.0,631.2 L487.5,635.0 L525.0,647.5 L540.0,645.0 L500.0,700.0 L490.0,720.0 L200.0,720.0Z" fill="#FFAA0A"/><path d="M200.0,450.0 L209.4,451.2 L213.8,453.8 L216.9,461.2 L215.6,477.5 L215.0,490.0 L217.5,502.5 L218.8,518.0 L220.0,522.5 L222.5,535.0 L225.0,551.2 L227.5,563.8 L232.5,571.2 L238.8,575.0 L243.8,571.2 L246.2,567.5 L248.8,572.5 L250.6,580.0 L251.9,587.5 L236.2,643.8 L221.9,644.4 L215.0,640.0 L209.4,634.4 L200.0,640.0Z" fill="#FF9808"/><path d="M266.2,714.4 L270.0,693.8 L274.4,664.4 L275.0,670.6 L282.5,675.0 L291.2,683.1 L295.0,673.8 L301.2,658.8 L307.5,642.5 L310.0,635.6 L315.0,642.5 L316.9,652.5 L315.0,680.0 L312.5,695.0 L315.0,703.8 L320.0,697.5 L327.5,680.0 L337.5,650.0 L338.8,636.2 L345.0,642.5 L346.9,653.8 L348.8,666.2 L355.0,681.2 L362.5,696.2 L367.5,703.8 L378.8,707.5 L382.5,707.5 L386.2,697.5 L387.5,690.0 L407.5,675.0 L420.0,658.8 L445.0,652.5 L450.0,650.0 L465.0,635.0 L487.5,636.2 L512.5,640.0 L525.0,647.5 L542.5,643.8 L500.0,700.0 L490.0,720.0 L262.0,720.0Z" fill="#FF9008"/><path d="M277.5,598.8 L276.2,610.0 L277.5,622.5 L276.9,631.2 L278.8,647.5 L281.2,651.2 L283.8,641.2 L285.6,628.8 L284.4,612.5 L283.8,616.2 L281.2,600.0Z" fill="#FF9808"/><path d="M327.5,628.8 L325.0,610.0 L326.2,591.2 L328.8,582.5 L332.5,580.6 L338.8,582.5 L345.0,591.2 L352.5,600.0 L361.2,608.8 L368.8,618.8 L366.2,623.8 L362.5,625.0 L361.2,632.5 L362.5,643.8 L365.0,653.8 L368.8,662.5 L357.5,680.0 L348.8,666.2 L345.0,642.5 L338.8,636.2Z" fill="#FF9808"/><path d="M377.5,660.0 L380.0,652.5 L386.2,646.2 L407.5,641.2 L432.5,641.2 L445.0,641.2 L450.0,642.5 L465.0,637.5 L487.5,641.2 L512.5,647.5 L525.0,652.5 L537.5,650.0 L500.0,700.0 L490.0,720.0 L395.0,720.0 L397.5,714.4 L400.0,703.8 L405.0,692.5 L410.0,685.0Z" fill="#FF8808"/><path d="M421.2,658.8 L432.5,655.0 L445.0,652.5 L452.5,650.0 L465.0,647.5 L481.2,650.0 L500.0,655.0 L510.0,675.0 L500.0,700.0 L490.0,720.0 L400.0,720.0 L397.5,714.4 L400.0,703.8 L405.0,692.5 L412.5,681.2 L420.0,670.0Z" fill="#FF7406"/><path d="M400.0,625.6 L410.0,627.5 L425.0,630.0 L438.8,632.5 L442.5,630.0 L450.0,622.5 L462.5,616.2 L481.2,611.2 L500.0,608.8 L518.8,610.0 L531.2,606.2 L543.8,600.0 L553.8,595.0 L551.2,616.2 L537.5,623.8 L522.5,628.1 L506.2,623.8 L491.2,621.9 L481.2,621.2 L462.5,626.2 L450.0,632.5 L442.5,638.8 L437.5,640.0 L418.8,635.0 L400.0,632.5Z" fill="#FFAA0A"/><path d="M400.0,632.5 L418.8,635.0 L437.5,640.0 L442.5,638.8 L450.0,632.5 L462.5,626.2 L481.2,621.2 L491.2,621.9 L506.2,623.8 L522.5,628.1 L537.5,623.8 L551.2,616.2 L551.9,635.0 L542.5,643.8 L532.5,648.8 L525.0,646.2 L512.5,640.0 L500.0,636.2 L482.5,635.6 L475.0,636.9 L465.0,640.0 L450.0,643.8 L441.2,646.2 L425.0,650.0 L400.0,655.0Z" fill="#FF9808"/><path d="M400.0,655.0 L425.0,650.0 L441.2,646.2 L450.0,643.8 L465.0,640.0 L475.0,636.9 L482.5,635.6 L500.0,636.2 L512.5,640.0 L525.0,646.2 L532.5,648.8 L542.5,643.8 L525.0,672.5 L506.2,697.5 L400.0,697.5Z" fill="#FF7406"/><path d="M418.8,662.5 L437.5,655.0 L450.0,651.2 L465.0,650.0 L487.5,651.9 L507.5,658.8 L516.2,672.5 L506.2,697.5 L407.5,697.5Z" fill="#FF7406"/><path d="M452.5,660.0 L470.0,656.2 L487.5,660.0 L497.5,670.0 L495.0,697.5 L437.5,697.5 L441.2,672.5Z" fill="#FF6C04"/><path d="M362.5,308.8 L356.2,310.6 L351.2,310.0 L345.6,303.8 L343.8,306.2 L341.9,320.0 L340.6,332.5 L338.8,347.5 L333.8,360.0 L328.8,376.2 L330.0,442.5 L333.8,452.5 L335.0,467.5 L333.8,487.5 L345.0,477.5 L356.2,462.5 L361.9,455.0 L358.8,445.0 L362.5,427.5 L420.0,420.0 L420.0,300.0Z" fill="#FFD200"/><path d="M380.0,455.0 L366.2,462.5 L361.2,465.0 L356.2,480.0 L350.0,497.5 L343.8,518.0 L342.5,520.0 L337.5,532.5 L335.6,538.8 L337.5,546.2 L345.0,560.0 L356.2,577.5 L367.5,595.0 L376.2,603.8 L382.5,608.8 L389.4,611.9 L412.0,612.0 L438.0,610.9 L454.0,605.3 L470.0,600.5 L486.0,596.5 L494.1,593.3 L502.1,589.6 L506.9,586.0 L513.3,578.0 L518.1,570.0 L521.3,562.0 L522.1,556.4 L518.9,551.6 L511.7,550.0 L502.1,550.4 L495.7,551.6 L492.4,550.0 L489.2,544.4 L485.2,536.4 L482.0,530.0 L470.0,480.0 L400.0,450.0Z" fill="#FFD200"/><path d="M484.4,562.0 L481.2,568.4 L481.2,578.0 L484.4,584.4 L489.2,582.8 L486.8,578.0 L486.8,574.0 L493.3,570.0 L493.3,563.6 L488.4,560.4Z" fill="#FFBC0A"/><path d="M569.3,546.0 L566.1,554.0 L561.3,566.0 L554.9,578.0 L546.1,587.6 L534.1,592.4 L518.1,593.3 L511.7,592.4 L516.5,586.0 L526.1,574.8 L532.5,565.2 L542.1,559.6 L554.1,554.0 L562.1,549.2Z" fill="#FFD200"/><path d="M366.2,565.0 L367.5,577.5 L371.2,590.0 L380.0,600.0 L395.0,606.2 L410.0,606.2 L431.2,601.2 L448.8,592.5 L440.0,583.8 L430.0,575.0 L420.0,566.2 L412.5,563.8 L400.0,560.0 L387.5,560.0 L377.5,557.5 L370.0,560.0Z" fill="#FFE80C"/><path d="M280.6,476.9 L287.5,483.8 L298.8,495.0 L305.0,493.8 L307.5,502.5 L308.8,518.0 L309.4,522.5 L308.8,535.0 L306.2,547.5 L303.8,556.2 L301.2,550.0 L298.8,539.4 L290.0,543.1 L282.5,546.9 L276.2,547.5 L273.1,541.2 L271.9,522.5 L272.5,510.0 L273.8,502.5 L276.2,485.0Z" fill="#FFD200"/><path d="M626.2,245.0 L630.0,230.0 L635.0,223.8 L648.8,225.0 L658.8,228.8 L671.2,230.0 L677.5,232.5 L681.2,245.0 L683.8,257.5 L685.0,266.2 L683.8,282.5 L665.0,308.8 L663.1,325.0 L658.8,330.0 L657.5,340.0 L656.9,352.5 L653.8,362.5 L652.5,371.2 L653.1,385.0 L654.4,402.5 L655.6,418.0 L654.4,412.5 L652.5,425.0 L650.0,437.5 L647.5,450.0 L641.2,460.0 L633.8,470.0 L627.5,476.2 L620.0,478.8 L615.6,476.2 L616.2,470.0 L618.8,462.5 L621.2,458.8 L600.0,470.0 L600.0,250.0Z" fill="#FFD200"/><path d="M695.0,298.0 L692.5,245.0 L691.2,232.5 L696.2,225.0 L706.2,220.0 L715.0,222.5 L725.0,228.8 L735.0,233.8 L746.2,231.9 L760.0,228.1 L771.2,228.8 L778.8,231.2 L781.9,235.0 L785.0,225.0 L786.9,207.5 L790.0,290.0 L781.2,332.5 L770.0,346.2 L769.4,355.0 L765.0,359.4 L758.8,358.1 L752.5,353.8 L742.5,345.0 L733.8,336.2 L731.2,327.5 L727.5,315.0 L721.2,300.0 L720.0,290.0 L715.0,282.5 L706.2,295.0 L703.8,302.5 L706.2,318.8 L705.0,330.0 L690.0,335.0 L681.2,332.5 L678.8,337.5 L672.5,346.2 L663.8,355.0 L661.2,365.0 L660.0,377.5 L657.5,418.0 L657.5,418.8 L655.0,437.5 L651.9,453.8 L646.2,466.2 L635.0,485.0 L622.5,501.2 L603.8,527.5 L610.0,527.5 L640.0,492.5 L672.5,475.0 L715.0,427.5 L735.0,400.0 L752.5,372.5 L690.0,352.5 L696.2,315.0Z" fill="#FFAA0A"/><path d="M755.0,258.8 L762.5,258.8 L771.2,267.5 L777.5,278.8 L781.2,285.0 L781.2,302.5 L781.2,332.5 L770.0,346.2 L769.4,355.0 L766.2,358.8 L758.8,358.1 L752.5,353.8 L742.5,345.0 L733.8,336.2 L731.2,327.5 L727.5,315.0 L721.2,300.0 L720.0,290.0 L718.8,282.5 L727.5,270.0 L740.0,262.5Z" fill="#FF9808"/><path d="M681.2,368.1 L685.0,373.1 L690.0,390.0 L691.2,415.0 L691.2,418.8 L687.5,431.2 L681.2,438.8 L675.0,443.8 L666.2,451.2 L657.5,454.4 L661.2,447.5 L662.5,437.5 L663.8,418.8 L666.2,400.0 L667.5,397.5 L670.0,385.0 L675.0,377.5Z" fill="#FF9808"/><path d="M590.0,140.1 L591.2,174.5 L571.2,187.5 L581.2,183.8 L592.5,185.6 L605.0,182.5 L615.0,185.0 L625.0,192.5 L640.0,177.5 L660.0,187.5 L667.5,177.5 L676.2,163.2 L683.8,160.8 L692.5,155.8 L705.0,159.5 L715.0,163.2 L726.2,168.2 L737.5,168.9 L748.8,165.1 L746.2,163.2 L727.5,162.6 L722.5,155.1 L703.8,154.5 L698.8,147.6 L681.2,147.0 L676.2,140.1Z" fill="#FFAA0A"/></g></g><use href="#land"/><g clip-path="url(#regL)"><path d="M206.2,285.0 L207.5,295.0 L208.8,307.5 L211.2,318.8 L216.2,325.0 L223.8,326.9 L230.0,323.8 L238.8,316.9 L245.0,325.0 L250.6,333.8 L253.8,330.0 L255.0,317.5 L255.0,295.0 L255.0,287.5 L257.5,283.8 L261.2,287.5 L263.8,297.5 L267.5,312.5 L270.0,320.0 L271.9,332.5 L274.4,338.8 L280.0,328.8 L285.0,320.0 L291.2,313.1 L295.0,315.0 L305.0,326.2 L319.4,346.2 L315.0,355.0 L307.5,370.0 L302.5,378.8 L292.5,383.8 L287.5,376.2 L285.0,376.2 L282.5,381.2 L283.1,391.2 M231.9,420.0 L232.5,431.2 L235.0,446.2 L235.0,460.0 L232.5,477.5 L231.2,490.0 L231.2,502.5 L231.9,518.0 L231.9,522.5 L233.8,537.5 L238.8,548.8 L245.0,541.2 L250.0,531.2 L253.1,520.0 L251.9,510.0 L252.5,515.0 L250.6,502.5 L250.0,490.0 L252.5,481.2 L256.9,477.5 L258.8,490.0 L260.0,502.5 L259.4,518.0 L260.6,522.5 L261.9,541.2 L263.1,560.0 L265.0,570.0 L270.0,575.0 L278.8,572.5 L287.5,569.4 L290.6,575.0 L291.2,587.5 L293.8,607.5 L296.2,622.5 L298.8,628.8 L303.8,616.2 L310.0,600.0 L315.0,572.5 L318.8,553.8 L321.9,543.1 L326.2,546.2 L332.5,555.0 L338.8,563.8 L351.2,577.5 L363.8,595.0 L376.2,608.8 L388.8,616.2 L401.2,620.0 L407.5,618.8 M209.4,451.2 L213.8,453.8 L216.9,461.2 L215.6,477.5 L215.0,490.0 L217.5,502.5 L218.8,518.0 L220.0,522.5 L222.5,535.0 L225.0,551.2 L227.5,563.8 L232.5,571.2 L238.8,575.0 L243.8,571.2 L246.2,567.5 L248.8,572.5 L250.6,580.0 L251.9,587.5 M209.4,634.4 L215.0,640.0 L221.9,644.4 M277.5,598.8 L276.2,610.0 L277.5,622.5 L276.9,631.2 L278.8,647.5 L281.2,651.2 L283.8,641.2 L285.6,628.8 L284.4,612.5 L283.8,616.2 L281.2,600.0 L277.5,598.8 M292.5,600.0 L295.0,616.2 L298.1,629.4 L303.8,618.8 L310.0,600.0 M266.2,714.4 L270.0,693.8 L274.4,664.4 L275.0,670.6 L282.5,675.0 L291.2,683.1 L295.0,673.8 L301.2,658.8 L307.5,642.5 L310.0,635.6 L315.0,642.5 L316.9,652.5 M315.0,680.0 L312.5,695.0 L315.0,703.8 L320.0,697.5 L322.5,692.5 M323.8,714.4 L331.2,703.8 L336.2,687.5 L340.0,670.0 L337.5,650.0 L338.8,636.2 L345.0,642.5 L346.9,653.8 L348.8,666.2 L355.0,681.2 L362.5,696.2 L367.5,703.8 L378.8,707.5 L382.5,707.5 L386.2,697.5 L387.5,690.0 M327.5,630.0 L325.0,610.0 L326.2,591.2 L328.8,582.5 L332.5,580.6 L338.8,582.5 L345.0,591.2 L352.5,600.0 L361.2,608.8 L368.8,618.8 L366.2,623.8 L362.5,625.0 L361.2,632.5 L362.5,643.8 L365.0,653.8 L368.8,662.5 M377.5,660.0 L380.0,652.5 L386.2,646.2 L387.5,637.5 L390.0,633.8 L401.2,631.2 L420.0,633.8 L432.5,637.5 L440.0,640.0 L441.2,640.0 L443.8,638.1 M380.0,652.5 L390.0,650.0 L407.5,648.8 L420.0,646.2 L432.5,645.0 L441.2,646.2 L450.0,643.8 L465.0,640.0 L475.0,636.9 L482.5,635.6 L500.0,636.2 L512.5,640.0 L525.0,646.2 L532.5,648.8 L542.5,643.8 M421.2,658.8 L432.5,655.0 L437.5,655.0 L450.0,651.2 L465.0,650.0 M397.5,714.4 L400.0,703.8 L405.0,692.5 L410.0,685.0 L412.5,681.2 M427.5,714.4 L431.2,700.0 L435.0,690.0 L440.0,697.5 L443.8,714.4 M366.2,565.0 L367.5,577.5 L371.2,590.0 L380.0,600.0 L395.0,606.2 L410.0,606.2 L431.2,601.2 L448.8,592.5 L440.0,583.8 L430.0,575.0 L420.0,566.2 L412.5,563.8 L400.0,560.0 L387.5,560.0 L377.5,557.5 L370.0,560.0 L366.2,565.0 M400.0,625.6 L410.0,627.5 L425.0,630.0 L438.8,632.5 L442.5,630.0 L450.0,622.5 L462.5,616.2 L481.2,611.2 L500.0,608.8 L518.8,610.0 L531.2,606.2 L543.8,600.0 L553.8,595.0 L550.1,596.5 L558.1,589.2 L566.1,578.0 L574.1,566.0 L582.1,554.0 L590.1,543.6 L646.2,466.2 L651.9,453.8 L655.0,437.5 L657.5,418.8 L658.8,400.0 L660.0,377.5 L661.2,365.0 L663.8,355.0 L672.5,346.2 L678.8,337.5 L681.2,332.5 L690.0,335.0 L705.0,330.0 L706.2,318.8 L703.8,302.5 L698.8,290.0 M400.0,632.5 L418.8,635.0 L437.5,640.0 L442.5,638.8 L450.0,632.5 L462.5,626.2 L481.2,621.2 M491.2,621.9 L506.2,623.8 L522.5,628.1 L537.5,623.8 L551.2,616.2 M507.5,675.6 L512.5,677.5 L517.5,675.0 M666.2,400.0 L663.8,418.8 L662.5,437.5 L661.2,447.5 L657.5,454.4 L666.2,451.2 L675.0,443.8 L681.2,438.8 M681.2,368.1 L685.0,373.1 M681.2,368.1 L675.0,377.5 L670.0,385.0 L667.5,397.5 L666.2,418.0 M695.0,298.0 L692.5,245.0 L691.2,232.5 L696.2,225.0 L706.2,220.0 L715.0,222.5 L725.0,228.8 L735.0,233.8 L746.2,231.9 L760.0,228.1 L771.2,228.8 L778.8,231.2 L781.9,235.0 L785.0,225.0 L786.9,207.5 M755.0,258.8 L762.5,258.8 L771.2,267.5 L777.5,278.8 L781.2,285.0 L775.0,297.5 M720.0,290.0 L721.2,300.0 L727.5,315.0 L731.2,327.5 L733.8,336.2 L742.5,345.0 L752.5,353.8 L758.8,358.1 L766.2,358.8 M646.2,260.0 L651.2,263.8 L653.1,270.0 L647.5,276.9 L643.8,273.8 L642.5,266.2 L646.2,260.0 M590.0,140.1 L591.2,174.5 L597.5,168.2 L607.5,166.4 L620.0,167.0 L627.5,165.1 L631.2,167.0 M598.8,140.1 L602.5,143.9 L607.5,143.9 L615.0,140.1 M683.8,160.8 L692.5,155.8 L705.0,159.5 L715.0,163.2 L726.2,168.2 L737.5,168.9 L748.8,165.1" fill="none" stroke="#000" stroke-width="1.75" stroke-linejoin="round" stroke-linecap="round"/><path d="M362.5,308.8 L356.2,310.6 L351.2,310.0 L345.6,303.8 L343.8,306.2 L341.9,320.0 L340.6,332.5 L338.8,347.5 L333.8,360.0 L328.8,376.2 M330.0,442.5 L333.8,452.5 L335.0,467.5 L333.8,487.5 L345.0,477.5 L356.2,462.5 L361.9,455.0 L358.8,445.0 L362.5,427.5 L370.0,433.8 L378.1,446.2 M366.2,462.5 L361.2,465.0 L356.2,480.0 L350.0,497.5 L343.8,518.0 L342.5,520.0 L337.5,532.5 L335.6,538.8 L337.5,546.2 L345.0,560.0 L356.2,577.5 L367.5,595.0 L376.2,603.8 L382.5,608.8 L389.4,611.9 M438.0,610.9 L454.0,605.3 L470.0,600.5 L486.0,596.5 L494.1,593.3 L490.8,588.4 L486.0,586.8 L481.2,585.2 L478.0,579.6 L478.0,571.6 L480.4,565.2 L484.4,560.4 L487.6,558.0 L492.4,560.4 L495.7,565.2 L494.9,570.0 L490.8,573.2 L487.6,574.8 L487.6,578.0 L490.8,582.0 L494.1,586.0 L498.1,589.2 L502.1,589.6 L506.9,586.0 L513.3,578.0 L518.1,570.0 L521.3,562.0 L522.1,556.4 L518.9,551.6 L511.7,550.0 L502.1,550.4 L495.7,551.6 L492.4,550.0 L489.2,544.4 L485.2,536.4 L482.0,530.0 M569.3,546.0 L566.1,554.0 L561.3,566.0 L554.9,578.0 L546.1,587.6 L534.1,592.4 L518.1,593.3 L511.7,592.4 L516.5,586.0 L526.1,574.8 L532.5,565.2 L542.1,559.6 L554.1,554.0 L562.1,549.2 L569.3,546.0 M280.6,476.9 L287.5,483.8 L298.8,495.0 L305.0,493.8 L307.5,502.5 L308.8,518.0 L309.4,522.5 L308.8,535.0 L306.2,547.5 L303.8,556.2 L301.2,550.0 L298.8,539.4 L290.0,543.1 L282.5,546.9 L276.2,547.5 L273.1,541.2 L271.9,522.5 L272.5,510.0 L273.8,502.5 L276.2,485.0 L280.6,476.9 M626.2,245.0 L630.0,230.0 L635.0,223.8 L648.8,225.0 L658.8,228.8 L671.2,230.0 L677.5,232.5 L681.2,245.0 L683.8,257.5 L685.0,266.2 M663.1,325.0 L658.8,330.0 L657.5,340.0 L656.9,352.5 L653.8,362.5 L652.5,371.2 L653.1,385.0 L654.4,402.5 L655.6,418.0 L654.4,412.5 L652.5,425.0 L650.0,437.5 L647.5,450.0 L641.2,460.0 L633.8,470.0 L627.5,476.2 L620.0,478.8 L615.6,476.2 L616.2,470.0 L618.8,462.5 L621.2,458.8 M643.8,400.0 L641.2,407.5 L637.5,415.0 L635.6,422.5 L636.2,427.5 M621.2,458.8 L618.8,462.5 L616.2,470.0 M631.9,370.0 L636.9,371.2 L640.0,376.2 M468.8,507.5 L471.2,511.2 L475.0,520.0 M481.2,526.2 L485.0,533.8 L490.0,542.5 L495.0,550.0 M479.5,714.0 L481.0,707.0 L484.5,703.0 L489.0,702.0" fill="none" stroke="#000" stroke-width="4.8" stroke-linejoin="round" stroke-linecap="round"/></g><ellipse cx="298" cy="692" rx="1.3" ry="2.6" fill="#000"/><text class="lb" font-size="36" text-anchor="middle" transform="translate(655,165) rotate(-5) scale(0.8,1)" y="13.0">21</text><text class="lb" font-size="36" text-anchor="middle" transform="translate(257,407) rotate(-28) scale(0.8,1)" y="13.0">21</text><text class="lb" font-size="34" text-anchor="middle" transform="translate(330,409) rotate(87) scale(0.8,1)" y="12.2">20</text><text class="lb" font-size="34" text-anchor="middle" transform="translate(672,296) rotate(-62) scale(0.8,1)" y="12.2">20</text><text class="lb" font-size="34" text-anchor="middle" transform="translate(737,273) rotate(-52) scale(0.8,1)" y="12.2">22</text><text class="lb" font-size="34" text-anchor="middle" transform="translate(684,392) rotate(-80) scale(0.8,1)" y="12.2">22</text><text class="lb" font-size="36" text-anchor="middle" transform="translate(413,611) rotate(8) scale(0.8,1)" y="13.0">20</text><text class="lb" font-size="36" text-anchor="middle" transform="translate(466,626) rotate(-15) scale(0.8,1)" y="13.0">22</text><text class="lb" font-size="36" text-anchor="middle" transform="translate(484,663) rotate(28) scale(0.8,1)" y="13.0">24</text><text class="lb" font-size="36" text-anchor="middle" transform="translate(236,617) rotate(-58) scale(0.8,1)" y="13.0">22</text><text class="lb" font-size="36" text-anchor="middle" transform="translate(325,664) rotate(-80) scale(0.8,1)" y="13.0">22</text><use href="#dots"/><rect x="56" y="70" width="274" height="74.6" fill="#fff"/><g transform="translate(55,70) scale(0.14000)"><circle cx="272" cy="290" r="188" fill="#163a68"/><path d="M150,250 C170,150 330,120 420,215 C450,260 440,300 400,290 C350,260 300,290 270,320 C220,350 150,330 150,250Z" fill="#fff"/><path d="M172,215 C225,118 385,105 455,200 C515,290 482,425 372,484 C432,412 458,318 424,246 C384,168 254,150 172,215Z" fill="#d3203c"/><g fill="none" stroke="#505050" stroke-width="16.5" stroke-linecap="butt" stroke-linejoin="miter"><path d="M600,181H713V236"/><path d="M585,252H730"/><path d="M657,252V284"/><path d="M600,289H713V316"/><path d="M755,176H837V207H758V241H842"/><path d="M875,160V252"/><path d="M770,262V314H875V262"/><path d="M770,288H875"/><path d="M975,166C965,200 940,225 908,243"/><path d="M975,166C985,200 1010,225 1042,243"/><path d="M905,264H1045"/><path d="M975,264V316"/><path d="M1105,166C1098,205 1085,235 1063,258"/><path d="M1105,166C1112,205 1125,235 1147,258"/><path d="M1181,160V268"/><path d="M1181,212H1216"/><path d="M1090,272V312H1216"/><path d="M1240,181H1330C1330,210 1322,230 1310,246"/><path d="M1285,246V284"/><path d="M1235,286H1345"/><path d="M1361,160V316"/><path d="M1361,236H1388"/><path d="M1428,166H1472"/><path d="M1400,190H1500"/><path d="M1521,160V268"/><path d="M1521,216H1547"/><path d="M1413,281H1525V316"/><path d="M1555,252H1662"/><path d="M1607,252V276"/><path d="M1681,160V292"/><path d="M1652,265H1681"/><path d="M1585,284V312H1696"/><circle cx="1450" cy="228" r="21"/><ellipse cx="1606" cy="198" rx="36" ry="28"/></g></g><text x="136.6" y="130.4" font-family="Liberation Sans,sans-serif" font-size="11.6" fill="#333" stroke="#333" stroke-width="0.25" textLength="191.5" lengthAdjust="spacingAndGlyphs">National Institute of Fisheries Science</text></g>
<rect x="35.0" y="52.0" width="900.5" height="919.0" fill="none" stroke="#3c3c3c" stroke-width="1.3"/>
<line x1="87.5" y1="971.0" x2="87.5" y2="985.0" stroke="#3c3c3c" stroke-width="1"/>
<text class="tk" transform="translate(87.5,1011) scale(0.72,1)" text-anchor="middle">123</text>
<line x1="172.3" y1="971.0" x2="172.3" y2="985.0" stroke="#3c3c3c" stroke-width="1"/>
<text class="tk" transform="translate(172.3,1011) scale(0.72,1)" text-anchor="middle">124</text>
<line x1="257.1" y1="971.0" x2="257.1" y2="985.0" stroke="#3c3c3c" stroke-width="1"/>
<text class="tk" transform="translate(257.1,1011) scale(0.72,1)" text-anchor="middle">125</text>
<line x1="341.9" y1="971.0" x2="341.9" y2="985.0" stroke="#3c3c3c" stroke-width="1"/>
<text class="tk" transform="translate(341.9,1011) scale(0.72,1)" text-anchor="middle">126</text>
<line x1="426.7" y1="971.0" x2="426.7" y2="985.0" stroke="#3c3c3c" stroke-width="1"/>
<text class="tk" transform="translate(426.7,1011) scale(0.72,1)" text-anchor="middle">127</text>
<line x1="511.5" y1="971.0" x2="511.5" y2="985.0" stroke="#3c3c3c" stroke-width="1"/>
<text class="tk" transform="translate(511.5,1011) scale(0.72,1)" text-anchor="middle">128</text>
<line x1="596.3" y1="971.0" x2="596.3" y2="985.0" stroke="#3c3c3c" stroke-width="1"/>
<text class="tk" transform="translate(596.3,1011) scale(0.72,1)" text-anchor="middle">129</text>
<line x1="681.1" y1="971.0" x2="681.1" y2="985.0" stroke="#3c3c3c" stroke-width="1"/>
<text class="tk" transform="translate(681.1,1011) scale(0.72,1)" text-anchor="middle">130</text>
<line x1="765.9" y1="971.0" x2="765.9" y2="985.0" stroke="#3c3c3c" stroke-width="1"/>
<text class="tk" transform="translate(765.9,1011) scale(0.72,1)" text-anchor="middle">131</text>
<line x1="850.7" y1="971.0" x2="850.7" y2="985.0" stroke="#3c3c3c" stroke-width="1"/>
<text class="tk" transform="translate(850.7,1011) scale(0.72,1)" text-anchor="middle">132</text>
<line x1="24.0" y1="936.0" x2="35.0" y2="936.0" stroke="#3c3c3c" stroke-width="1"/>
<text class="tk" transform="translate(0.5,944.0) scale(0.73,1)">31</text>
<line x1="24.0" y1="825.5" x2="35.0" y2="825.5" stroke="#3c3c3c" stroke-width="1"/>
<text class="tk" transform="translate(0.5,833.5) scale(0.73,1)">32</text>
<line x1="24.0" y1="715.0" x2="35.0" y2="715.0" stroke="#3c3c3c" stroke-width="1"/>
<text class="tk" transform="translate(0.5,723.0) scale(0.73,1)">33</text>
<line x1="24.0" y1="604.5" x2="35.0" y2="604.5" stroke="#3c3c3c" stroke-width="1"/>
<text class="tk" transform="translate(0.5,612.5) scale(0.73,1)">34</text>
<line x1="24.0" y1="494.0" x2="35.0" y2="494.0" stroke="#3c3c3c" stroke-width="1"/>
<text class="tk" transform="translate(0.5,502.0) scale(0.73,1)">35</text>
<line x1="24.0" y1="383.5" x2="35.0" y2="383.5" stroke="#3c3c3c" stroke-width="1"/>
<text class="tk" transform="translate(0.5,391.5) scale(0.73,1)">36</text>
<line x1="24.0" y1="273.0" x2="35.0" y2="273.0" stroke="#3c3c3c" stroke-width="1"/>
<text class="tk" transform="translate(0.5,281.0) scale(0.73,1)">37</text>
<line x1="24.0" y1="162.5" x2="35.0" y2="162.5" stroke="#3c3c3c" stroke-width="1"/>
<text class="tk" transform="translate(0.5,170.5) scale(0.73,1)">38</text>
<rect x="886.5" y="948.84" width="48.89999999999998" height="22.16" fill="rgb(214, 92, 255)" stroke="#222" stroke-width="0.8"/>
<rect x="886.5" y="926.68" width="48.89999999999998" height="22.16" fill="rgb(182, 96, 255)" stroke="#222" stroke-width="0.8"/>
<rect x="886.5" y="904.52" width="48.89999999999998" height="22.16" fill="rgb(150, 100, 255)" stroke="#222" stroke-width="0.8"/>
<rect x="886.5" y="882.35" width="48.89999999999998" height="22.16" fill="rgb(100, 104, 255)" stroke="#222" stroke-width="0.8"/>
<rect x="886.5" y="860.19" width="48.89999999999998" height="22.16" fill="rgb(60, 110, 255)" stroke="#222" stroke-width="0.8"/>
<rect x="886.5" y="838.03" width="48.89999999999998" height="22.16" fill="rgb(20, 122, 255)" stroke="#222" stroke-width="0.8"/>
<rect x="886.5" y="815.87" width="48.89999999999998" height="22.16" fill="rgb(30, 150, 255)" stroke="#222" stroke-width="0.8"/>
<rect x="886.5" y="793.71" width="48.89999999999998" height="22.16" fill="rgb(80, 190, 255)" stroke="#222" stroke-width="0.8"/>
<rect x="886.5" y="771.55" width="48.89999999999998" height="22.16" fill="rgb(130, 225, 255)" stroke="#222" stroke-width="0.8"/>
<rect x="886.5" y="749.39" width="48.89999999999998" height="22.16" fill="rgb(160, 255, 245)" stroke="#222" stroke-width="0.8"/>
<rect x="886.5" y="727.23" width="48.89999999999998" height="22.16" fill="rgb(110, 255, 210)" stroke="#222" stroke-width="0.8"/>
<rect x="886.5" y="705.06" width="48.89999999999998" height="22.16" fill="rgb(50, 245, 150)" stroke="#222" stroke-width="0.8"/>
<rect x="886.5" y="682.90" width="48.89999999999998" height="22.16" fill="rgb(60, 240, 100)" stroke="#222" stroke-width="0.8"/>
<rect x="886.5" y="660.74" width="48.89999999999998" height="22.16" fill="rgb(150, 255, 60)" stroke="#222" stroke-width="0.8"/>
<rect x="886.5" y="638.58" width="48.89999999999998" height="22.16" fill="rgb(220, 255, 30)" stroke="#222" stroke-width="0.8"/>
<rect x="886.5" y="616.42" width="48.89999999999998" height="22.16" fill="rgb(255, 255, 0)" stroke="#222" stroke-width="0.8"/>
<rect x="886.5" y="594.26" width="48.89999999999998" height="22.16" fill="rgb(255, 246, 0)" stroke="#222" stroke-width="0.8"/>
<rect x="886.5" y="572.10" width="48.89999999999998" height="22.16" fill="rgb(255, 237, 0)" stroke="#222" stroke-width="0.8"/>
<rect x="886.5" y="549.94" width="48.89999999999998" height="22.16" fill="rgb(255, 226, 0)" stroke="#222" stroke-width="0.8"/>
<rect x="886.5" y="527.77" width="48.89999999999998" height="22.16" fill="rgb(255, 206, 0)" stroke="#222" stroke-width="0.8"/>
<rect x="886.5" y="505.61" width="48.89999999999998" height="22.16" fill="rgb(255, 186, 5)" stroke="#222" stroke-width="0.8"/>
<rect x="886.5" y="483.45" width="48.89999999999998" height="22.16" fill="rgb(255, 166, 10)" stroke="#222" stroke-width="0.8"/>
<rect x="886.5" y="461.29" width="48.89999999999998" height="22.16" fill="rgb(255, 150, 10)" stroke="#222" stroke-width="0.8"/>
<rect x="886.5" y="439.13" width="48.89999999999998" height="22.16" fill="rgb(255, 130, 10)" stroke="#222" stroke-width="0.8"/>
<rect x="886.5" y="416.97" width="48.89999999999998" height="22.16" fill="rgb(255, 110, 8)" stroke="#222" stroke-width="0.8"/>
<rect x="886.5" y="394.81" width="48.89999999999998" height="22.16" fill="rgb(255, 85, 5)" stroke="#222" stroke-width="0.8"/>
<rect x="886.5" y="372.65" width="48.89999999999998" height="22.16" fill="rgb(255, 65, 0)" stroke="#222" stroke-width="0.8"/>
<rect x="886.5" y="350.48" width="48.89999999999998" height="22.16" fill="rgb(226, 48, 0)" stroke="#222" stroke-width="0.8"/>
<rect x="886.5" y="328.32" width="48.89999999999998" height="22.16" fill="rgb(200, 34, 0)" stroke="#222" stroke-width="0.8"/>
<rect x="886.5" y="306.16" width="48.89999999999998" height="22.16" fill="rgb(175, 18, 0)" stroke="#222" stroke-width="0.8"/>
<rect x="886.5" y="284.00" width="48.89999999999998" height="22.16" fill="rgb(150, 0, 0)" stroke="#222" stroke-width="0.8"/>
<text class="cb" transform="translate(941.5,979.6) scale(1.22,1)">0</text>
<text class="cb" transform="translate(941.5,935.3) scale(1.22,1)">2</text>
<text class="cb" transform="translate(941.5,891.0) scale(1.22,1)">4</text>
<text class="cb" transform="translate(941.5,846.6) scale(1.22,1)">6</text>
<text class="cb" transform="translate(941.5,802.3) scale(1.22,1)">8</text>
<text class="cb" transform="translate(941.5,758.0) scale(1.22,1)">10</text>
<text class="cb" transform="translate(941.5,713.7) scale(1.22,1)">12</text>
<text class="cb" transform="translate(941.5,669.3) scale(1.22,1)">14</text>
<text class="cb" transform="translate(941.5,625.0) scale(1.22,1)">16</text>
<text class="cb" transform="translate(941.5,580.7) scale(1.22,1)">18</text>
<text class="cb" transform="translate(941.5,536.4) scale(1.22,1)">20</text>
<text class="cb" transform="translate(941.5,492.1) scale(1.22,1)">22</text>
<text class="cb" transform="translate(941.5,447.7) scale(1.22,1)">24</text>
<text class="cb" transform="translate(941.5,403.4) scale(1.22,1)">26</text>
<text class="cb" transform="translate(941.5,359.1) scale(1.22,1)">28</text>
<text class="cb" transform="translate(941.5,314.8) scale(1.22,1)">30</text>
<g class="ttl"><text x="443" y="258.6" font-size="36" textLength="131" lengthAdjust="spacingAndGlyphs">KOREA</text><text x="443" y="297.8" font-size="36" textLength="145" lengthAdjust="spacingAndGlyphs">Oct. 2023</text><text x="444" y="334" font-size="30" textLength="178" lengthAdjust="spacingAndGlyphs">Temperature</text><text x="443" y="373.3" font-size="33" textLength="71" lengthAdjust="spacingAndGlyphs">(0m)</text></g><text class="tk" transform="translate(4.5,199.7) scale(0.9,1)" style="font-size:34.5px">N</text><circle cx="27.3" cy="148.8" r="4.4" fill="none" stroke="#111" stroke-width="1.3"/><text class="tk" transform="translate(885.3,1011) scale(0.88,1)" style="font-size:35px">E</text><circle cx="872.5999999999999" cy="993" r="4.5" fill="none" stroke="#111" stroke-width="1.3"/>
<g clip-path="url(#clipR)"><g clip-path="url(#regR)"><g filter="url(#blur2)"><path d="M1209.8,285.8 L1218.6,278.9 L1409.8,278.9 L1491.6,215.8 L1576.5,140.8 L1692.1,140.8 L1697.2,147.8 L1715.6,148.3 L1720.7,155.2 L1739.7,155.8 L1744.8,163.3 L1763.7,163.8 L1768.8,170.2 L1793.3,170.8 L1798.5,178.8 L1806.1,180.8 L1806.1,262.8 L1800.0,268.8 L1800.0,333.2 L1788.2,346.8 L1787.7,355.8 L1770.3,373.2 L1752.4,398.8 L1732.0,428.2 L1716.6,447.8 L1709.0,448.8 L1688.0,475.8 L1679.8,478.2 L1673.2,485.8 L1661.4,486.8 L1655.3,493.2 L1643.7,499.4 L1627.7,512.8 L1619.5,528.8 L1604.1,545.8 L1588.8,570.8 L1569.4,595.8 L1564.2,612.8 L1564.2,635.2 L1544.8,657.8 L1527.4,682.8 L1512.1,698.8 L1501.9,715.1 L1269.2,715.1 L1253.3,695.8 L1238.0,680.8 L1220.6,670.8 L1215.5,665.8 L1215.5,397.8 L1209.8,393.8Z" fill="#fff"/><path d="M1200.0,270.0 L1336.2,277.5 L1330.0,286.2 L1337.5,297.5 L1343.8,307.5 L1347.5,326.2 L1350.0,345.0 L1345.0,362.5 L1338.8,380.0 L1330.0,398.0 L1329.4,400.6 L1333.8,417.5 L1340.0,440.0 L1345.0,460.0 L1348.1,470.6 L1358.8,465.0 L1368.8,455.0 L1366.2,440.0 L1371.9,436.9 L1374.4,446.2 L1377.5,460.0 L1376.9,477.5 L1375.6,496.2 L1375.0,518.0 L1365.0,535.0 L1372.5,562.5 L1392.5,587.5 L1400.0,600.0 L1410.0,610.0 L1423.8,622.5 L1436.2,632.5 L1442.5,638.0 L1430.0,628.8 L1442.5,640.0 L1450.0,643.1 L1455.0,642.5 L1450.0,641.9 L1470.0,632.5 L1503.8,640.0 L1516.2,646.2 L1518.8,668.0 L1500.0,720.0 L1200.0,720.0Z" fill="#FFFBEE"/><path d="M1311.2,278.8 L1304.4,286.2 L1310.0,297.5 L1316.2,311.2 L1317.5,315.0 L1325.0,313.8 L1332.5,322.5 L1337.5,332.5 L1340.0,342.5 L1336.2,357.5 L1330.0,370.0 L1325.0,380.0 L1320.0,385.0 L1312.5,383.8 L1305.0,378.8 L1298.8,375.0 L1292.5,357.5 L1288.8,333.8 L1285.0,307.5 L1281.9,290.6 L1280.0,295.0 L1275.0,307.5 L1270.0,313.8 L1265.0,310.0 L1261.2,297.5 L1260.0,286.2 L1267.5,278.8Z" fill="#FFF5DC"/><path d="M1245.0,335.6 L1250.0,345.0 L1253.1,362.5 L1251.2,372.5 L1246.2,373.8 L1238.8,365.0 L1231.2,356.2 L1226.9,350.0 L1230.0,343.8 L1237.5,340.0Z" fill="#FFF5DC"/><path d="M1280.0,378.8 L1276.2,385.0 L1273.8,398.0 L1273.1,400.0 L1280.0,412.5 L1286.2,427.5 L1292.5,442.5 L1296.2,451.2 L1298.1,457.5 L1298.8,477.5 L1300.0,518.0 L1316.2,510.0 L1313.1,522.5 L1317.5,537.5 L1321.2,557.5 L1322.5,580.0 L1323.1,605.0 L1342.5,638.0 L1367.5,638.0 L1375.0,610.0 L1365.0,597.5 L1358.8,578.8 L1352.5,565.0 L1346.2,547.5 L1342.5,528.8 L1340.0,510.0 L1359.4,518.0 L1358.1,490.0 L1356.9,482.5 L1352.5,483.1 L1345.0,488.8 L1341.2,487.5 L1336.2,472.5 L1330.0,460.0 L1325.0,452.5 L1321.2,440.0 L1318.1,430.0 L1308.8,438.8 L1300.0,445.0 L1295.0,421.2 L1291.2,402.5 L1287.5,390.0 L1283.8,382.5Z" fill="#FFF5DC"/><path d="M1215.0,395.0 L1227.5,406.9 L1230.0,421.2 L1233.8,440.0 L1235.6,455.0 L1234.4,471.2 L1232.5,490.0 L1231.9,518.0 L1233.1,528.8 L1235.0,547.5 L1238.8,560.0 L1243.8,564.4 L1250.0,557.5 L1257.5,542.5 L1262.5,526.2 L1265.0,532.5 L1267.5,560.0 L1269.4,577.5 L1278.8,568.8 L1272.5,595.0 L1276.2,610.0 L1280.0,628.8 L1282.5,638.0 L1275.0,702.5 L1278.8,715.0 L1272.5,715.0 L1230.0,677.5 L1215.6,670.0Z" fill="#FFF5DC"/><path d="M1315.0,518.0 L1317.5,502.5 L1323.8,491.2 L1330.0,498.8 L1335.0,506.2 L1340.0,510.0 L1341.9,518.0 L1346.2,547.5 L1352.5,565.0 L1358.8,578.8 L1365.0,597.5 L1358.8,608.8 L1347.5,625.0 L1333.8,620.0 L1330.0,613.8 L1322.5,617.5 L1323.1,605.0 L1322.5,580.0 L1321.2,557.5 L1317.5,537.5Z" fill="#FFEEC8"/><path d="M1272.5,595.0 L1280.0,582.5 L1290.0,566.2 L1297.5,552.5 L1300.0,550.0 L1312.5,570.0 L1315.0,585.0 L1316.2,600.0 L1312.5,616.2 L1307.5,630.0 L1305.0,638.0 L1282.5,638.0 L1280.0,628.8 L1276.2,610.0Z" fill="#FFEEC8"/><path d="M1227.5,585.0 L1232.5,590.6 L1241.2,592.5 L1245.0,596.2 L1242.5,602.5 L1233.8,606.2 L1227.5,602.5 L1223.8,595.0Z" fill="#FFEEC8"/><path d="M1233.1,570.6 L1241.2,578.1 L1252.5,569.4 L1256.2,585.0 L1255.0,610.0 L1252.5,628.8 L1242.5,635.0 L1233.8,638.0 L1215.6,613.8 L1215.6,560.0 L1231.9,547.5Z" fill="#FFEEC8"/><path d="M1320.0,625.0 L1316.2,635.0 L1312.5,650.0 L1308.8,667.5 L1311.2,677.5 L1316.2,680.0 L1320.0,670.0 L1321.9,650.0 L1322.5,631.2Z" fill="#FFEEC8"/><path d="M1273.8,600.0 L1277.5,618.8 L1281.2,641.2 L1287.5,648.1 L1294.4,640.0 L1301.9,618.8 L1301.2,600.0Z" fill="#FFEEC8"/><path d="M1245.6,446.2 L1242.5,460.0 L1238.8,480.0 L1236.9,502.5 L1236.2,518.0 L1238.8,528.8 L1242.5,543.8 L1245.0,547.5 L1250.0,538.8 L1255.0,526.2 L1256.2,510.0 L1253.8,502.5 L1251.2,477.5 L1248.8,457.5Z" fill="#FFFFFF"/><path d="M1330.0,646.2 L1328.8,660.0 L1325.0,677.5 L1321.2,695.0 L1318.1,705.0 L1313.8,708.8 L1312.5,715.0 L1320.0,715.0 L1327.5,706.2 L1337.5,690.0 L1341.2,670.0 L1336.2,655.0Z" fill="#FFFFFF"/><path d="M1372.5,670.0 L1373.1,650.0 L1376.2,638.8 L1381.2,636.2 L1392.5,640.0 L1411.2,646.2 L1400.0,652.5 L1397.5,657.5Z" fill="#FFFFFF"/><path d="M1371.2,628.8 L1380.0,626.9 L1390.0,626.2 L1402.5,629.4 L1413.8,631.2 L1405.0,618.8 L1392.5,610.0 L1380.0,603.8 L1367.5,600.0 L1376.2,607.5 L1373.8,615.0 L1365.0,618.8 L1360.0,631.2 L1355.0,647.5 L1348.8,656.2 L1346.2,667.5 L1343.8,687.5 L1337.5,703.8 L1331.2,715.0 L1356.2,715.0 L1358.8,687.5 L1362.5,662.5 L1367.5,640.0Z" fill="#FFF5DC"/><path d="M1422.5,653.8 L1442.5,650.0 L1455.0,651.2 L1455.0,715.0 L1405.0,715.0 L1400.0,690.0 L1417.5,686.2 L1430.0,670.0Z" fill="#FFF5DC"/><path d="M1400.0,600.0 L1412.5,615.0 L1431.2,631.2 L1443.8,640.0 L1450.0,641.9 L1456.2,638.8 L1460.0,632.5 L1470.0,632.5 L1486.2,636.2 L1503.8,640.0 L1516.2,646.2 L1518.8,668.0 L1532.5,665.0 L1565.0,620.0 L1566.2,605.0 L1611.2,542.5 L1587.5,532.5 L1487.5,527.5 L1418.8,530.0 L1407.5,561.2 L1402.5,581.2Z" fill="#EFFAFF"/><path d="M1466.2,591.2 L1470.0,588.8 L1477.5,586.2 L1487.5,587.5 L1497.5,585.0 L1501.2,581.2 L1502.5,576.2 L1512.5,577.5 L1525.0,575.0 L1537.5,571.2 L1550.0,562.5 L1562.5,556.2 L1575.0,550.0 L1587.5,543.8 L1600.0,540.0 L1611.2,542.5 L1566.2,605.0 L1565.0,621.2 L1562.5,627.5 L1557.5,636.2 L1550.0,645.0 L1542.5,650.0 L1538.8,646.2 L1532.5,637.5 L1525.0,627.5 L1517.5,620.0 L1507.5,616.2 L1497.5,612.5 L1485.0,605.0 L1475.0,600.0 L1467.5,596.2Z" fill="#E0F5FF"/><path d="M1500.0,592.5 L1503.8,590.0 L1512.5,587.5 L1525.0,581.2 L1537.5,575.0 L1543.8,570.0 L1547.5,563.8 L1556.2,563.8 L1568.8,557.5 L1581.2,551.2 L1595.0,543.8 L1600.0,547.5 L1566.2,605.0 L1565.0,620.0 L1562.5,626.2 L1558.8,632.5 L1550.0,631.2 L1537.5,625.0 L1528.8,621.2 L1525.0,615.0 L1517.5,607.5 L1510.0,603.8 L1502.5,598.8Z" fill="#D0EEFF"/><path d="M1523.8,592.5 L1537.5,582.5 L1550.0,573.8 L1562.5,566.2 L1573.8,560.0 L1576.9,562.5 L1575.0,572.5 L1572.5,582.5 L1571.2,590.0 L1567.5,598.8 L1556.2,603.8 L1541.2,605.0 L1531.2,601.2 L1526.2,597.5Z" fill="#BCE4FC"/><path d="M1545.0,586.2 L1550.0,578.8 L1560.0,575.0 L1566.2,577.5 L1565.0,585.0 L1558.8,590.0 L1550.0,591.2Z" fill="#98D0F8"/><path d="M1640.0,370.0 L1673.8,370.0 L1674.4,395.0 L1673.8,420.0 L1672.5,445.0 L1670.6,462.5 L1657.5,482.5 L1640.0,498.0 L1620.0,498.0 L1637.5,465.0 L1651.2,428.8 L1657.5,401.2 L1640.0,560.0 L1600.0,540.0Z" fill="#E0F5FF"/><path d="M1673.8,370.0 L1680.0,441.2 L1695.0,457.5 L1682.5,477.5 L1657.5,498.0 L1640.0,498.0 L1657.5,482.5 L1670.6,462.5 L1672.5,445.0Z" fill="#EFFAFF"/><path d="M1645.0,250.0 L1698.8,250.0 L1705.0,285.0 L1700.0,294.4 L1692.5,302.5 L1682.5,330.0 L1677.5,340.0 L1675.0,368.8 L1673.8,378.0 L1645.0,378.0 L1645.0,258.0 L1646.2,242.5 L1647.5,228.8 L1657.5,217.5 L1668.8,210.0 L1698.1,210.0 L1704.4,245.0 L1706.2,258.0Z" fill="#EFFAFF"/><path d="M1660.0,258.8 L1665.0,253.8 L1676.2,251.2 L1685.0,253.8 L1691.2,263.8 L1690.0,275.0 L1685.0,285.0 L1680.0,298.8 L1673.8,298.8 L1665.0,293.8 L1661.2,287.5 L1659.4,272.5 L1652.5,258.0 L1655.0,242.5 L1667.5,232.5 L1680.0,230.0 L1692.5,233.8 L1696.2,242.5 L1700.0,255.0Z" fill="#E0F5FF"/><path d="M1731.2,185.0 L1728.8,188.8 L1737.5,205.0 L1745.0,213.8 L1752.5,217.5 L1758.8,210.0 L1750.0,203.8 L1742.5,195.0 L1735.0,186.2Z" fill="#EFFAFF"/><path d="M1577.5,140.6 L1695.0,140.6 L1720.0,155.0 L1721.9,155.6 L1713.8,151.2 L1701.2,148.8 L1686.2,152.5 L1680.0,157.5 L1677.5,167.5 L1676.2,182.5 L1667.5,181.2 L1657.5,179.4 L1645.0,181.2 L1635.0,186.2 L1626.2,191.2 L1621.2,197.5 L1617.5,206.2 L1607.5,192.5 L1588.8,167.5Z" fill="#FFF5DC"/><path d="M1585.0,140.6 L1673.8,140.6 L1668.8,152.5 L1665.0,162.5 L1661.2,165.0 L1651.2,163.1 L1643.8,160.6 L1635.0,166.2 L1625.0,171.2 L1616.2,175.0 L1613.8,185.0 L1607.5,182.5 L1601.2,177.5 L1592.5,163.8 L1588.8,152.5Z" fill="#FFEEC8"/><path d="M1596.9,140.6 L1647.5,140.6 L1640.0,155.0 L1632.5,166.2 L1620.0,167.5 L1612.5,177.5 L1606.2,172.5 L1601.2,166.2 L1599.4,155.0Z" fill="#FFE6B0"/><path d="M1607.5,140.6 L1630.0,140.6 L1625.0,151.2 L1620.0,153.8 L1613.8,156.2 L1613.1,148.8Z" fill="#FFDC98"/><path d="M1723.8,166.2 L1736.2,172.5 L1748.8,180.0 L1757.5,183.8 L1770.0,182.5 L1788.8,179.4 L1798.8,178.8 L1806.2,177.5 L1806.2,161.2 L1782.5,160.0 L1757.5,155.0 L1732.5,152.5 L1721.9,155.6Z" fill="#FFFBEE"/><path d="M1706.2,258.0 L1707.5,250.0 L1708.8,240.0 L1711.2,230.0 L1717.5,223.8 L1725.0,220.0 L1732.5,222.5 L1742.5,230.0 L1750.0,236.2 L1757.5,232.5 L1770.0,227.5 L1782.5,223.8 L1792.5,224.4 L1800.0,225.0 L1806.2,217.5 L1806.2,258.0 L1805.0,257.5 L1805.0,337.5 L1775.0,378.0 L1768.8,378.0 L1760.0,368.8 L1751.2,361.2 L1747.5,352.5 L1742.5,340.0 L1737.5,326.2 L1731.2,316.2 L1723.8,302.5 L1717.5,287.5 L1713.8,275.0 L1708.8,250.0Z" fill="#FFF5DC"/><path d="M1758.1,271.2 L1768.8,261.2 L1781.2,255.6 L1787.5,260.0 L1793.8,275.0 L1800.0,302.5 L1800.0,330.6 L1792.5,330.0 L1782.5,328.1 L1776.2,325.0 L1772.5,315.0 L1765.0,293.8Z" fill="#FFEEC8"/><path d="M1768.8,245.0 L1776.2,241.2 L1787.5,241.2 L1793.8,246.2 L1798.8,252.5 L1802.5,258.0 L1806.2,257.5 L1801.2,255.0 L1797.5,250.0Z" fill="#FFEEC8"/><path d="M1693.1,370.0 L1686.2,378.8 L1691.2,394.4 L1698.8,389.4 L1705.0,377.5 L1702.5,370.0 L1705.0,378.0 L1701.2,368.8 L1697.5,363.1 L1690.0,372.5 L1686.2,378.0Z" fill="#FFF5DC"/></g></g><use href="#land" transform="translate(1000.703,0.75) scale(1.02277,1)"/><g clip-path="url(#regR)"><path d="M1226.9,278.8 L1216.2,285.0 L1215.6,301.2 L1216.9,316.2 L1221.2,320.6 L1226.2,315.0 L1236.2,306.2 L1245.0,300.6 L1248.8,306.2 L1251.2,312.5 L1253.1,302.5 L1251.9,286.2 L1258.8,278.8 M1267.5,278.8 L1260.0,286.2 L1261.2,297.5 L1265.0,310.0 L1270.0,313.8 L1275.0,307.5 L1280.0,295.0 L1281.9,290.6 L1285.0,307.5 L1288.8,333.8 M1311.2,278.8 L1304.4,286.2 L1310.0,297.5 L1316.2,311.2 L1317.5,315.0 L1325.0,313.8 L1332.5,322.5 L1337.5,332.5 L1340.0,342.5 L1336.2,357.5 L1330.0,370.0 L1325.0,380.0 L1320.0,385.0 L1312.5,383.8 L1305.0,378.8 L1298.8,375.0 M1336.2,277.5 L1330.0,286.2 L1337.5,297.5 L1343.8,307.5 L1347.5,326.2 L1350.0,345.0 L1345.0,362.5 L1338.8,380.0 L1330.0,398.0 L1329.4,400.6 L1333.8,417.5 L1340.0,440.0 L1345.0,460.0 L1348.1,470.6 L1358.8,465.0 L1368.8,455.0 L1366.2,440.0 L1371.9,436.9 L1374.4,446.2 L1377.5,460.0 L1376.9,477.5 L1375.6,496.2 L1375.0,518.0 M1245.0,335.6 L1250.0,345.0 L1253.1,362.5 L1251.2,372.5 L1246.2,373.8 L1238.8,365.0 L1231.2,356.2 L1226.9,350.0 L1230.0,343.8 L1237.5,340.0 L1245.0,335.6 M1280.0,378.8 L1276.2,385.0 L1273.8,398.0 L1273.1,400.0 L1280.0,412.5 L1286.2,427.5 L1292.5,442.5 L1296.2,451.2 L1298.1,457.5 M1283.8,382.5 L1287.5,390.0 L1291.2,402.5 L1295.0,421.2 L1300.0,445.0 L1308.8,438.8 L1318.1,430.0 L1321.2,440.0 L1325.0,452.5 L1330.0,460.0 L1336.2,472.5 L1341.2,487.5 L1345.0,488.8 L1352.5,483.1 L1356.9,482.5 L1358.1,490.0 L1358.8,502.5 L1359.4,518.0 L1361.2,547.5 L1365.0,568.8 L1372.5,587.5 L1380.0,600.0 L1392.5,610.0 L1405.0,620.0 L1412.5,630.0 L1400.0,627.5 L1386.2,625.0 L1373.8,627.5 L1367.5,638.0 L1362.5,662.5 L1358.8,687.5 L1356.2,715.0 M1209.4,387.5 L1211.2,395.0 L1212.5,397.5 L1218.8,403.8 L1227.5,406.9 L1230.0,421.2 L1233.8,440.0 L1235.6,455.0 L1234.4,471.2 L1232.5,490.0 L1231.9,518.0 L1233.1,528.8 L1235.0,547.5 L1238.8,560.0 L1243.8,564.4 L1250.0,557.5 L1257.5,542.5 L1262.5,526.2 L1265.0,532.5 L1267.5,560.0 L1269.4,577.5 L1278.8,568.8 L1290.0,551.2 L1297.5,537.5 L1305.0,523.8 L1303.8,515.0 L1301.2,510.0 L1300.6,498.8 M1245.6,446.2 L1242.5,460.0 L1238.8,480.0 L1236.9,502.5 L1236.2,518.0 L1238.8,528.8 L1242.5,543.8 L1245.0,547.5 L1250.0,538.8 L1255.0,526.2 L1256.2,510.0 L1253.8,502.5 L1251.2,477.5 L1248.8,457.5 L1245.6,446.2 M1281.2,453.8 L1282.5,460.0 L1281.9,476.2 L1280.0,465.0 L1279.8,457.5 L1281.2,453.8 M1287.5,488.1 L1288.8,496.2 L1288.1,510.0 L1286.2,515.0 L1285.0,502.5 L1285.6,492.5 L1287.5,488.1 M1215.6,454.4 L1221.2,457.5 L1226.9,461.2 L1225.0,465.0 L1220.0,470.0 L1218.8,477.5 L1220.0,487.5 L1219.8,497.5 M1315.0,518.0 L1317.5,502.5 L1323.8,491.2 L1330.0,498.8 L1335.0,506.2 L1340.0,510.0 L1341.9,518.0 L1342.5,528.8 L1346.2,547.5 L1352.5,565.0 L1358.8,578.8 L1365.0,597.5 L1375.0,610.0 L1371.2,616.2 L1365.0,618.8 L1360.0,625.0 L1355.0,638.0 L1348.8,656.2 L1345.0,647.5 L1337.5,627.5 L1328.8,613.8 L1322.5,610.0 M1233.1,570.6 L1236.2,576.2 L1241.2,578.1 L1246.2,577.5 L1252.5,569.4 L1255.0,572.5 L1256.2,585.0 L1255.0,610.0 L1252.5,628.8 L1242.5,635.0 L1233.8,638.0 M1215.6,613.8 L1221.2,620.0 L1230.0,635.0 L1232.5,638.0 L1240.0,637.5 L1251.2,630.0 L1255.0,618.8 L1256.2,600.0 M1227.5,585.0 L1232.5,590.6 L1241.2,592.5 L1245.0,596.2 L1242.5,602.5 L1233.8,606.2 L1227.5,602.5 L1223.8,595.0 L1227.5,585.0 M1305.0,638.0 L1307.5,630.0 L1312.5,616.2 L1316.2,600.0 L1315.0,585.0 L1312.5,570.0 L1305.0,580.0 M1303.8,565.0 L1302.5,556.2 L1300.0,550.0 L1297.5,552.5 L1290.0,566.2 L1280.0,582.5 L1272.5,595.0 L1276.2,610.0 L1280.0,628.8 L1282.5,638.0 L1277.5,618.8 L1281.2,641.2 L1287.5,648.1 L1292.5,643.8 L1294.4,640.0 M1316.2,510.0 L1313.1,522.5 L1317.5,537.5 L1321.2,557.5 L1322.5,580.0 L1323.1,605.0 L1322.5,617.5 L1330.0,613.8 L1333.8,620.0 L1340.0,630.0 L1342.5,638.0 L1345.0,647.5 L1348.8,656.2 L1355.0,647.5 L1360.0,631.2 L1365.0,618.8 L1373.8,615.0 L1376.2,607.5 L1367.5,600.0 M1335.0,555.0 L1332.5,562.5 L1331.9,582.5 L1337.5,580.0 L1342.5,572.5 L1340.0,562.5 L1337.5,556.2 L1335.0,555.0 M1330.0,541.2 L1329.4,547.5 L1330.0,553.8 M1358.8,608.8 L1347.5,625.0 L1346.2,622.5 M1215.6,645.6 L1223.8,652.5 L1233.8,661.2 L1245.0,667.5 L1257.5,660.0 L1260.6,650.0 L1263.8,631.2 L1266.2,641.2 L1268.8,651.2 M1301.2,600.0 L1301.9,618.8 L1303.8,637.5 L1306.2,641.2 L1308.8,631.2 L1312.5,612.5 L1315.0,600.0 M1320.0,625.0 L1316.2,635.0 L1312.5,650.0 L1308.8,667.5 L1311.2,677.5 L1316.2,680.0 L1320.0,670.0 L1321.9,650.0 L1322.5,631.2 L1321.2,625.0 L1320.0,625.0 M1272.5,693.8 L1275.0,702.5 L1278.8,715.0 M1300.0,656.2 L1300.0,665.0 M1295.6,715.0 L1297.5,687.5 L1298.8,673.8 L1303.8,680.0 L1308.8,687.5 L1312.5,691.9 L1317.5,693.1 L1320.0,681.2 L1323.8,662.5 L1326.2,647.5 L1327.5,632.5 L1330.0,628.1 L1335.0,636.2 L1341.2,652.5 L1346.2,667.5 L1343.8,687.5 L1337.5,703.8 L1331.2,715.0 M1312.5,715.0 L1313.8,708.8 L1318.1,705.0 L1321.2,695.0 L1325.0,677.5 L1328.8,660.0 L1330.0,646.2 L1336.2,655.0 L1341.2,670.0 L1337.5,690.0 L1327.5,706.2 L1320.0,715.0 M1371.2,628.8 L1380.0,626.9 L1390.0,626.2 L1402.5,629.4 L1413.8,631.2 L1405.0,618.8 L1392.5,610.0 L1380.0,603.8 M1372.5,670.0 L1373.1,650.0 L1376.2,638.8 L1381.2,636.2 L1392.5,640.0 L1411.2,646.2 L1400.0,652.5 L1397.5,657.5 M1370.0,690.0 L1371.2,700.0 L1373.8,715.0 M1400.0,690.0 L1402.5,700.0 L1405.0,715.0 M1412.5,687.5 L1413.1,700.0 L1415.0,715.0 M1422.5,653.8 L1442.5,650.0 L1455.0,651.2 M1436.2,662.5 L1447.5,661.2 L1441.2,667.5 L1438.8,672.5 L1436.2,667.5 L1436.2,662.5 M1425.0,715.0 L1432.5,702.5 M1436.2,715.0 L1442.5,702.5 M1405.0,560.0 L1401.2,568.8 L1397.5,580.0 L1394.4,592.5 L1397.5,602.5 L1407.5,612.5 L1422.5,625.0 L1435.0,635.0 L1428.8,633.8 L1442.5,643.8 L1450.0,645.6 L1458.8,641.2 L1462.5,635.0 M1415.0,560.0 L1407.5,570.0 L1405.0,580.0 L1402.5,592.5 L1405.0,597.5 L1413.8,606.2 L1427.5,618.8 L1440.0,628.8 L1433.8,627.5 L1443.8,636.2 L1450.0,638.1 M1425.0,615.0 L1433.8,601.2 L1441.2,591.2 L1452.5,582.5 L1465.0,573.8 L1477.5,565.0 L1486.2,557.5 L1487.5,546.2 L1490.0,545.0 L1500.0,551.2 L1506.2,552.5 L1512.5,548.8 L1525.0,547.5 L1532.5,545.0 L1537.5,542.5 L1550.0,541.2 L1561.2,540.0 M1442.5,607.5 L1435.0,612.5 L1425.0,615.0 L1435.0,626.2 L1447.5,637.5 L1452.5,638.8 L1457.5,627.5 L1462.5,620.0 L1470.0,616.2 L1480.0,616.2 L1487.5,620.0 L1495.0,625.0 L1506.2,627.5 L1516.2,632.5 L1525.0,642.5 L1532.5,652.5 L1540.0,660.0 M1542.5,650.0 L1538.8,646.2 L1532.5,637.5 L1525.0,627.5 L1517.5,620.0 L1507.5,616.2 L1497.5,612.5 L1485.0,605.0 L1475.0,600.0 L1467.5,596.2 L1466.2,591.2 L1470.0,588.8 L1477.5,586.2 L1487.5,587.5 L1497.5,585.0 L1501.2,581.2 L1502.5,576.2 M1540.0,548.8 L1550.0,551.2 L1562.5,548.8 L1575.0,542.5 M1512.5,577.5 L1525.0,575.0 L1537.5,571.2 L1550.0,562.5 L1562.5,556.2 L1575.0,550.0 L1587.5,543.8 L1600.0,540.0 M1542.5,650.0 L1550.0,645.0 L1557.5,636.2 L1562.5,627.5 L1565.0,621.2 M1500.0,592.5 L1503.8,590.0 L1512.5,587.5 L1525.0,581.2 L1537.5,575.0 L1543.8,570.0 L1547.5,563.8 L1556.2,563.8 L1568.8,557.5 L1581.2,551.2 L1595.0,543.8 M1500.0,592.5 L1502.5,598.8 L1510.0,603.8 L1517.5,607.5 L1525.0,615.0 L1528.8,621.2 L1537.5,625.0 L1550.0,631.2 L1558.8,632.5 L1562.5,626.2 L1565.0,620.0 M1523.8,592.5 L1537.5,582.5 L1550.0,573.8 L1562.5,566.2 L1573.8,560.0 L1576.9,562.5 L1575.0,572.5 L1572.5,582.5 L1571.2,590.0 M1523.8,592.5 L1526.2,597.5 L1531.2,601.2 M1545.0,586.2 L1550.0,578.8 L1560.0,575.0 L1566.2,577.5 L1565.0,585.0 L1558.8,590.0 L1550.0,591.2 L1545.0,586.2 M1611.2,543.8 L1605.0,546.2 L1597.5,552.5 L1592.5,561.2 L1590.0,568.8 M1600.0,540.0 L1587.5,552.5 L1582.5,565.0 L1580.0,581.2 M1532.5,665.0 L1550.0,647.5 L1560.0,636.2 M1447.5,627.5 L1450.0,626.2 L1451.9,630.0 L1449.4,633.1 L1447.5,627.5 M1585.0,140.6 L1588.8,152.5 L1592.5,163.8 L1596.2,171.2 M1596.9,140.6 L1599.4,155.0 L1601.2,166.2 L1606.2,172.5 L1612.5,177.5 L1613.8,185.0 L1607.5,182.5 L1601.2,177.5 M1606.2,140.6 L1607.5,155.0 L1608.1,167.5 L1616.2,163.8 L1620.0,160.0 M1613.8,140.6 L1613.1,148.8 L1613.8,156.2 L1620.0,153.8 L1625.0,151.2 M1673.8,140.6 L1668.8,152.5 L1665.0,162.5 L1661.2,165.0 L1651.2,163.1 L1643.8,160.6 L1635.0,166.2 L1625.0,171.2 L1616.2,175.0 L1613.8,185.0 M1617.5,206.2 L1621.2,197.5 L1626.2,191.2 L1635.0,186.2 L1645.0,181.2 L1657.5,179.4 L1667.5,181.2 L1675.0,181.9 M1676.2,182.5 L1677.5,167.5 L1680.0,157.5 L1686.2,152.5 L1701.2,148.8 L1713.8,151.2 L1721.9,155.6 M1723.8,166.2 L1736.2,172.5 L1748.8,180.0 L1757.5,183.8 L1770.0,182.5 L1788.8,179.4 L1798.8,178.8 L1802.5,183.8 L1803.8,198.8 L1803.8,215.0 L1800.0,225.0 L1792.5,224.4 L1782.5,223.8 L1770.0,227.5 L1757.5,232.5 L1750.0,236.2 L1742.5,230.0 L1732.5,222.5 L1725.0,220.0 L1717.5,223.8 L1711.2,230.0 L1708.8,240.0 L1707.5,250.0 L1706.2,258.0 L1711.2,257.5 M1668.8,195.6 L1657.5,195.0 L1652.5,200.0 L1647.5,210.0 L1642.5,216.2 L1636.9,220.0 L1635.0,230.0 L1640.0,242.5 L1642.5,250.0 L1645.0,258.0 M1652.5,258.0 L1655.0,242.5 L1667.5,232.5 L1680.0,230.0 L1692.5,233.8 L1696.2,242.5 L1700.0,255.0 L1701.2,260.0 L1703.8,272.5 L1705.0,285.0 L1703.8,292.5 L1700.0,294.4 L1696.2,293.8 L1692.5,302.5 L1687.5,315.0 L1682.5,330.0 L1677.5,340.0 L1676.2,356.2 L1675.0,368.8 L1673.8,378.0 L1674.4,395.0 L1673.8,420.0 L1672.5,445.0 L1670.6,462.5 L1667.5,468.8 L1668.8,471.2 L1676.2,470.0 L1685.0,465.0 L1692.5,465.0 L1695.0,466.9 M1660.0,258.0 L1670.0,252.5 L1680.0,251.2 L1688.8,258.0 M1718.8,248.8 L1725.0,245.0 L1733.8,244.4 M1768.8,245.0 L1776.2,241.2 L1787.5,241.2 L1793.8,246.2 L1798.8,252.5 L1802.5,258.0 L1801.2,255.0 L1806.2,257.5 M1651.2,250.0 L1652.5,268.8 L1653.8,287.5 L1656.2,312.5 L1658.8,331.2 L1656.2,350.0 L1657.5,362.5 L1658.8,378.0 L1662.5,383.8 L1657.5,401.2 L1655.0,413.8 L1651.2,428.8 L1645.0,447.5 L1637.5,465.0 L1630.0,480.0 L1620.0,498.0 M1660.0,258.8 L1665.0,253.8 L1676.2,251.2 L1685.0,253.8 L1691.2,263.8 L1690.0,275.0 L1685.0,285.0 L1680.0,298.8 L1673.8,298.8 L1665.0,293.8 L1661.2,287.5 L1659.4,272.5 L1660.0,258.8 M1713.8,275.0 L1717.5,287.5 L1723.8,302.5 L1731.2,316.2 L1737.5,326.2 L1742.5,340.0 L1747.5,352.5 L1751.2,361.2 L1760.0,368.8 L1768.8,378.0 L1768.8,376.2 L1768.1,380.6 M1717.5,250.0 L1718.8,262.5 L1722.5,275.0 L1727.5,286.2 L1736.2,298.8 L1745.0,312.5 L1750.0,325.0 L1752.5,331.2 L1760.0,340.0 L1767.5,347.5 L1775.0,353.8 L1787.5,356.2 M1800.0,302.5 L1793.8,275.0 L1787.5,260.0 L1781.2,255.6 L1768.8,261.2 L1758.1,271.2 L1765.0,293.8 L1772.5,315.0 L1776.2,325.0 L1782.5,328.1 L1792.5,330.0 L1800.0,330.6 M1705.0,378.0 L1701.2,368.8 L1697.5,363.1 L1690.0,372.5 L1686.2,378.0 L1686.2,378.8 L1691.2,394.4 L1698.8,389.4 L1705.0,377.5 L1702.5,370.0 M1667.5,386.2 L1670.0,401.2 L1668.8,420.0 L1666.2,428.8 L1665.0,416.2 L1667.5,402.5 L1667.5,386.2 M1665.0,462.5 L1660.0,472.5 L1656.2,478.8 L1653.8,483.8 L1656.2,487.5 L1660.0,486.9 M1661.2,430.0 L1660.0,440.0 L1662.5,437.5 L1661.2,430.0 M1670.0,445.0 L1665.0,462.5 L1657.5,477.5 L1645.0,498.0 M1602.8,532.0 L1602.3,533.3 L1600.9,534.1 L1599.1,534.1 L1597.7,533.3 L1597.2,532.0 L1597.7,530.7 L1599.1,529.9 L1600.9,529.9 L1602.3,530.7 L1602.8,532.0 M1608.4,527.0 L1607.9,528.1 L1606.7,528.8 L1605.3,528.8 L1604.1,528.1 L1603.6,527.0 L1604.1,525.9 L1605.3,525.2 L1606.7,525.2 L1607.9,525.9 L1608.4,527.0 M1613.2,522.5 L1612.8,523.5 L1611.7,524.2 L1610.3,524.2 L1609.2,523.5 L1608.8,522.5 L1609.2,521.5 L1610.3,520.8 L1611.7,520.8 L1612.8,521.5 L1613.2,522.5 M1617.5,518.5 L1617.1,519.4 L1616.1,520.0 L1614.9,520.0 L1613.9,519.4 L1613.5,518.5 L1613.9,517.6 L1614.9,517.0 L1616.1,517.0 L1617.1,517.6 L1617.5,518.5 M1621.8,514.5 L1621.5,515.3 L1620.6,515.9 L1619.4,515.9 L1618.5,515.3 L1618.2,514.5 L1618.5,513.7 L1619.4,513.1 L1620.6,513.1 L1621.5,513.7 L1621.8,514.5 M1625.5,510.5 L1625.2,511.2 L1624.5,511.6 L1623.5,511.6 L1622.8,511.2 L1622.5,510.5 L1622.8,509.8 L1623.5,509.4 L1624.5,509.4 L1625.2,509.8 L1625.5,510.5" fill="none" stroke="#000" stroke-width="1.9" stroke-linejoin="round" stroke-linecap="round"/><path d="M1418.8,536.9 L1418.1,542.5 M1411.2,558.8 L1406.2,561.2 L1403.8,568.8 L1400.0,580.0 L1397.5,592.5 L1400.0,600.0 L1410.0,610.0 L1423.8,622.5 L1436.2,632.5 L1442.5,638.0 L1431.2,631.2 L1443.8,640.0 L1450.0,641.9 L1456.2,638.8 L1460.0,632.5 L1463.8,630.0 L1470.0,632.5 M1503.8,640.0 L1510.0,641.2 L1516.2,646.2 L1518.8,655.0 L1518.1,665.0 L1515.6,683.8 L1525.0,677.5 L1540.0,665.0 M1646.2,258.0 L1646.2,242.5 L1647.5,228.8 L1657.5,217.5 L1668.8,210.0 L1682.5,210.6 L1696.2,211.2 L1698.1,208.1 L1700.0,220.0 L1702.5,236.2 L1704.4,245.0 M1731.2,185.0 L1728.8,188.8 L1737.5,205.0 L1745.0,213.8 L1752.5,217.5 L1758.8,210.0 L1750.0,203.8 L1742.5,195.0 L1735.0,186.2 L1731.2,185.0 M1645.0,250.0 L1647.5,257.5 L1648.8,266.2 M1712.5,286.9 L1716.2,300.0 L1720.0,316.2 L1724.4,325.0 L1724.4,335.0 L1721.9,340.0 L1716.2,336.2 L1707.5,330.0 L1698.8,325.6 L1695.0,331.2 L1691.2,340.0 L1686.2,348.8 L1680.0,354.4 L1678.1,357.5 L1677.5,368.8 L1676.9,378.0 L1677.5,382.5 L1678.8,401.2 L1680.0,420.0 L1680.0,441.2 L1697.5,431.2 L1707.5,433.8 L1721.9,439.4 M1645.0,378.8 L1650.0,376.9 L1656.2,376.2 M1657.5,388.8 L1655.0,401.2 L1651.2,420.0" fill="none" stroke="#000" stroke-width="4.8" stroke-linejoin="round" stroke-linecap="round"/><ellipse cx="1245.0" cy="522.5" rx="3.6" ry="13.5" fill="#000"/><ellipse cx="1245.2" cy="510.0" rx="2.8" ry="9" fill="#000"/><ellipse cx="1330.6" cy="680.6" rx="3.1" ry="6.2" fill="#000"/><ellipse cx="1335.6" cy="670.0" rx="2.5" ry="2.8" fill="#000"/><ellipse cx="1390.0" cy="696.2" rx="2.5" ry="5.6" fill="#000"/><ellipse cx="1353.8" cy="286.9" rx="2.5" ry="2.5" fill="#000"/></g><path d="M1297.5,346.9 L1303.8,351.9 L1285.0,359.4 M1303.1,471.2 L1309.4,478.8 L1288.8,480.0 M1274.4,665.6 L1281.2,671.9 L1260.0,675.6 M1291.2,622.5 L1286.2,612.5 L1306.2,616.9 M1226.2,503.1 L1231.9,507.5 M1213.8,521.9 L1233.1,516.2 L1226.2,510.0 M1440.0,687.5 L1441.2,677.5 L1453.8,700.0 M1746.2,238.8 L1752.5,232.5 L1752.5,258.0 M1752.5,250.0 L1752.5,257.5 M1517.5,556.2 L1521.2,547.5 L1531.2,570.0 M1640.0,475.0 L1638.1,466.2 L1656.2,478.1" fill="none" stroke="#000" stroke-width="2.6" stroke-linejoin="miter" stroke-linecap="butt"/><path d="M1511.9,571.9 L1517.5,569.0 M1641.2,491.9 L1643.8,486.9 M1216.9,536.2 L1218.1,536.5 M1287.5,590.0 L1289.0,590.2 M1657.5,442.5 L1658.2,443.0" fill="none" stroke="#000" stroke-width="2.6"/><text class="lb" font-size="36" text-anchor="middle" transform="translate(1696,178) rotate(-20) scale(0.8,1)" y="13.0">0.5</text><text class="lb" font-size="36" text-anchor="middle" transform="translate(1634,157) rotate(8) scale(0.8,1)" y="13.0">2</text><text class="lb" font-size="36" text-anchor="middle" transform="translate(1486,636) rotate(5) scale(0.8,1)" y="13.0">0</text><text class="lb" font-size="36" text-anchor="middle" transform="translate(1549,596) rotate(0) scale(0.8,1)" y="13.0">-2</text><text class="lb" font-size="36" text-anchor="middle" transform="translate(1339,602) rotate(95) scale(0.8,1)" y="13.0">2</text><text class="lb" font-size="36" text-anchor="middle" transform="translate(1225,551) rotate(-95) scale(0.8,1)" y="13.0">5</text><text class="lb" font-size="36" text-anchor="middle" transform="translate(1302,585) rotate(-85) scale(0.8,1)" y="13.0">5</text><text class="lb" font-size="30" text-anchor="middle" transform="translate(1707,265) rotate(60) scale(0.8,1)" y="10.8">0</text><text class="lb" font-size="30" text-anchor="middle" transform="translate(1660,448) rotate(-62) scale(0.8,1)" y="10.8">5</text><use href="#dots" transform="translate(1000.703,0.75) scale(1.02277,1)"/><rect x="1050.5" y="70" width="274" height="74.6" fill="#fff"/><g transform="translate(1049.5,70) scale(0.14000)"><circle cx="272" cy="290" r="188" fill="#163a68"/><path d="M150,250 C170,150 330,120 420,215 C450,260 440,300 400,290 C350,260 300,290 270,320 C220,350 150,330 150,250Z" fill="#fff"/><path d="M172,215 C225,118 385,105 455,200 C515,290 482,425 372,484 C432,412 458,318 424,246 C384,168 254,150 172,215Z" fill="#d3203c"/><g fill="none" stroke="#505050" stroke-width="16.5" stroke-linecap="butt" stroke-linejoin="miter"><path d="M600,181H713V236"/><path d="M585,252H730"/><path d="M657,252V284"/><path d="M600,289H713V316"/><path d="M755,176H837V207H758V241H842"/><path d="M875,160V252"/><path d="M770,262V314H875V262"/><path d="M770,288H875"/><path d="M975,166C965,200 940,225 908,243"/><path d="M975,166C985,200 1010,225 1042,243"/><path d="M905,264H1045"/><path d="M975,264V316"/><path d="M1105,166C1098,205 1085,235 1063,258"/><path d="M1105,166C1112,205 1125,235 1147,258"/><path d="M1181,160V268"/><path d="M1181,212H1216"/><path d="M1090,272V312H1216"/><path d="M1240,181H1330C1330,210 1322,230 1310,246"/><path d="M1285,246V284"/><path d="M1235,286H1345"/><path d="M1361,160V316"/><path d="M1361,236H1388"/><path d="M1428,166H1472"/><path d="M1400,190H1500"/><path d="M1521,160V268"/><path d="M1521,216H1547"/><path d="M1413,281H1525V316"/><path d="M1555,252H1662"/><path d="M1607,252V276"/><path d="M1681,160V292"/><path d="M1652,265H1681"/><path d="M1585,284V312H1696"/><circle cx="1450" cy="228" r="21"/><ellipse cx="1606" cy="198" rx="36" ry="28"/></g></g><text x="1131.1" y="130.4" font-family="Liberation Sans,sans-serif" font-size="11.6" fill="#333" stroke="#333" stroke-width="0.25" textLength="191.5" lengthAdjust="spacingAndGlyphs">National Institute of Fisheries Science</text></g>
<rect x="1036.5" y="53.0" width="921.0" height="918.75" fill="none" stroke="#3c3c3c" stroke-width="1.3"/>
<line x1="1090.5" y1="971.75" x2="1090.5" y2="985.75" stroke="#3c3c3c" stroke-width="1"/>
<text class="tk" transform="translate(1090.5,1011) scale(0.72,1)" text-anchor="middle">123</text>
<line x1="1177.2" y1="971.75" x2="1177.2" y2="985.75" stroke="#3c3c3c" stroke-width="1"/>
<text class="tk" transform="translate(1177.2,1011) scale(0.72,1)" text-anchor="middle">124</text>
<line x1="1263.9" y1="971.75" x2="1263.9" y2="985.75" stroke="#3c3c3c" stroke-width="1"/>
<text class="tk" transform="translate(1263.9,1011) scale(0.72,1)" text-anchor="middle">125</text>
<line x1="1350.6" y1="971.75" x2="1350.6" y2="985.75" stroke="#3c3c3c" stroke-width="1"/>
<text class="tk" transform="translate(1350.6,1011) scale(0.72,1)" text-anchor="middle">126</text>
<line x1="1437.3" y1="971.75" x2="1437.3" y2="985.75" stroke="#3c3c3c" stroke-width="1"/>
<text class="tk" transform="translate(1437.3,1011) scale(0.72,1)" text-anchor="middle">127</text>
<line x1="1524.0" y1="971.75" x2="1524.0" y2="985.75" stroke="#3c3c3c" stroke-width="1"/>
<text class="tk" transform="translate(1524.0,1011) scale(0.72,1)" text-anchor="middle">128</text>
<line x1="1610.7" y1="971.75" x2="1610.7" y2="985.75" stroke="#3c3c3c" stroke-width="1"/>
<text class="tk" transform="translate(1610.7,1011) scale(0.72,1)" text-anchor="middle">129</text>
<line x1="1697.4" y1="971.75" x2="1697.4" y2="985.75" stroke="#3c3c3c" stroke-width="1"/>
<text class="tk" transform="translate(1697.4,1011) scale(0.72,1)" text-anchor="middle">130</text>
<line x1="1784.1" y1="971.75" x2="1784.1" y2="985.75" stroke="#3c3c3c" stroke-width="1"/>
<text class="tk" transform="translate(1784.1,1011) scale(0.72,1)" text-anchor="middle">131</text>
<line x1="1870.8" y1="971.75" x2="1870.8" y2="985.75" stroke="#3c3c3c" stroke-width="1"/>
<text class="tk" transform="translate(1870.8,1011) scale(0.72,1)" text-anchor="middle">132</text>
<line x1="1025.5" y1="936.3" x2="1036.5" y2="936.3" stroke="#3c3c3c" stroke-width="1"/>
<text class="tk" transform="translate(1002.0,944.3) scale(0.73,1)">31</text>
<line x1="1025.5" y1="825.9" x2="1036.5" y2="825.9" stroke="#3c3c3c" stroke-width="1"/>
<text class="tk" transform="translate(1002.0,833.9) scale(0.73,1)">32</text>
<line x1="1025.5" y1="715.5" x2="1036.5" y2="715.5" stroke="#3c3c3c" stroke-width="1"/>
<text class="tk" transform="translate(1002.0,723.5) scale(0.73,1)">33</text>
<line x1="1025.5" y1="605.1" x2="1036.5" y2="605.1" stroke="#3c3c3c" stroke-width="1"/>
<text class="tk" transform="translate(1002.0,613.1) scale(0.73,1)">34</text>
<line x1="1025.5" y1="494.7" x2="1036.5" y2="494.7" stroke="#3c3c3c" stroke-width="1"/>
<text class="tk" transform="translate(1002.0,502.7) scale(0.73,1)">35</text>
<line x1="1025.5" y1="384.3" x2="1036.5" y2="384.3" stroke="#3c3c3c" stroke-width="1"/>
<text class="tk" transform="translate(1002.0,392.3) scale(0.73,1)">36</text>
<line x1="1025.5" y1="273.9" x2="1036.5" y2="273.9" stroke="#3c3c3c" stroke-width="1"/>
<text class="tk" transform="translate(1002.0,281.9) scale(0.73,1)">37</text>
<line x1="1025.5" y1="163.5" x2="1036.5" y2="163.5" stroke="#3c3c3c" stroke-width="1"/>
<text class="tk" transform="translate(1002.0,171.5) scale(0.73,1)">38</text>
<rect x="1913.3" y="955.37" width="43.90000000000009" height="16.93" fill="rgb(48, 8, 200)" stroke="#222" stroke-width="0.8"/>
<rect x="1913.3" y="938.44" width="43.90000000000009" height="16.93" fill="rgb(40, 24, 216)" stroke="#222" stroke-width="0.8"/>
<rect x="1913.3" y="921.51" width="43.90000000000009" height="16.93" fill="rgb(32, 40, 224)" stroke="#222" stroke-width="0.8"/>
<rect x="1913.3" y="904.58" width="43.90000000000009" height="16.93" fill="rgb(24, 56, 232)" stroke="#222" stroke-width="0.8"/>
<rect x="1913.3" y="887.65" width="43.90000000000009" height="16.93" fill="rgb(16, 72, 240)" stroke="#222" stroke-width="0.8"/>
<rect x="1913.3" y="870.72" width="43.90000000000009" height="16.93" fill="rgb(16, 88, 248)" stroke="#222" stroke-width="0.8"/>
<rect x="1913.3" y="853.80" width="43.90000000000009" height="16.93" fill="rgb(24, 104, 255)" stroke="#222" stroke-width="0.8"/>
<rect x="1913.3" y="836.87" width="43.90000000000009" height="16.93" fill="rgb(32, 120, 255)" stroke="#222" stroke-width="0.8"/>
<rect x="1913.3" y="819.94" width="43.90000000000009" height="16.93" fill="rgb(40, 136, 255)" stroke="#222" stroke-width="0.8"/>
<rect x="1913.3" y="803.01" width="43.90000000000009" height="16.93" fill="rgb(52, 148, 255)" stroke="#222" stroke-width="0.8"/>
<rect x="1913.3" y="786.08" width="43.90000000000009" height="16.93" fill="rgb(64, 160, 255)" stroke="#222" stroke-width="0.8"/>
<rect x="1913.3" y="769.15" width="43.90000000000009" height="16.93" fill="rgb(76, 172, 255)" stroke="#222" stroke-width="0.8"/>
<rect x="1913.3" y="752.22" width="43.90000000000009" height="16.93" fill="rgb(92, 184, 255)" stroke="#222" stroke-width="0.8"/>
<rect x="1913.3" y="735.29" width="43.90000000000009" height="16.93" fill="rgb(116, 196, 255)" stroke="#222" stroke-width="0.8"/>
<rect x="1913.3" y="718.36" width="43.90000000000009" height="16.93" fill="rgb(140, 208, 255)" stroke="#222" stroke-width="0.8"/>
<rect x="1913.3" y="701.43" width="43.90000000000009" height="16.93" fill="rgb(164, 220, 255)" stroke="#222" stroke-width="0.8"/>
<rect x="1913.3" y="684.50" width="43.90000000000009" height="16.93" fill="rgb(188, 230, 255)" stroke="#222" stroke-width="0.8"/>
<rect x="1913.3" y="667.57" width="43.90000000000009" height="16.93" fill="rgb(208, 238, 255)" stroke="#222" stroke-width="0.8"/>
<rect x="1913.3" y="650.64" width="43.90000000000009" height="16.93" fill="rgb(226, 246, 255)" stroke="#222" stroke-width="0.8"/>
<rect x="1913.3" y="633.71" width="43.90000000000009" height="16.93" fill="rgb(242, 251, 255)" stroke="#222" stroke-width="0.8"/>
<rect x="1913.3" y="616.79" width="43.90000000000009" height="16.93" fill="rgb(255, 255, 255)" stroke="#222" stroke-width="0.8"/>
<rect x="1913.3" y="599.86" width="43.90000000000009" height="16.93" fill="rgb(255, 250, 236)" stroke="#222" stroke-width="0.8"/>
<rect x="1913.3" y="582.93" width="43.90000000000009" height="16.93" fill="rgb(255, 244, 218)" stroke="#222" stroke-width="0.8"/>
<rect x="1913.3" y="566.00" width="43.90000000000009" height="16.93" fill="rgb(255, 238, 200)" stroke="#222" stroke-width="0.8"/>
<rect x="1913.3" y="549.07" width="43.90000000000009" height="16.93" fill="rgb(255, 232, 180)" stroke="#222" stroke-width="0.8"/>
<rect x="1913.3" y="532.14" width="43.90000000000009" height="16.93" fill="rgb(255, 224, 160)" stroke="#222" stroke-width="0.8"/>
<rect x="1913.3" y="515.21" width="43.90000000000009" height="16.93" fill="rgb(255, 214, 140)" stroke="#222" stroke-width="0.8"/>
<rect x="1913.3" y="498.28" width="43.90000000000009" height="16.93" fill="rgb(255, 204, 120)" stroke="#222" stroke-width="0.8"/>
<rect x="1913.3" y="481.35" width="43.90000000000009" height="16.93" fill="rgb(253, 190, 96)" stroke="#222" stroke-width="0.8"/>
<rect x="1913.3" y="464.42" width="43.90000000000009" height="16.93" fill="rgb(250, 176, 80)" stroke="#222" stroke-width="0.8"/>
<rect x="1913.3" y="447.49" width="43.90000000000009" height="16.93" fill="rgb(245, 152, 64)" stroke="#222" stroke-width="0.8"/>
<rect x="1913.3" y="430.56" width="43.90000000000009" height="16.93" fill="rgb(240, 128, 48)" stroke="#222" stroke-width="0.8"/>
<rect x="1913.3" y="413.63" width="43.90000000000009" height="16.93" fill="rgb(236, 98, 24)" stroke="#222" stroke-width="0.8"/>
<rect x="1913.3" y="396.70" width="43.90000000000009" height="16.93" fill="rgb(240, 90, 20)" stroke="#222" stroke-width="0.8"/>
<rect x="1913.3" y="379.78" width="43.90000000000009" height="16.93" fill="rgb(245, 82, 16)" stroke="#222" stroke-width="0.8"/>
<rect x="1913.3" y="362.85" width="43.90000000000009" height="16.93" fill="rgb(250, 74, 12)" stroke="#222" stroke-width="0.8"/>
<rect x="1913.3" y="345.92" width="43.90000000000009" height="16.93" fill="rgb(255, 66, 8)" stroke="#222" stroke-width="0.8"/>
<rect x="1913.3" y="328.99" width="43.90000000000009" height="16.93" fill="rgb(255, 48, 8)" stroke="#222" stroke-width="0.8"/>
<rect x="1913.3" y="312.06" width="43.90000000000009" height="16.93" fill="rgb(255, 32, 8)" stroke="#222" stroke-width="0.8"/>
<rect x="1913.3" y="295.13" width="43.90000000000009" height="16.93" fill="rgb(255, 16, 8)" stroke="#222" stroke-width="0.8"/>
<rect x="1913.3" y="278.20" width="43.90000000000009" height="16.93" fill="rgb(255, 0, 0)" stroke="#222" stroke-width="0.8"/>
<text class="cb" transform="translate(1964.5,980.6) scale(1.1,1)">-10</text>
<text class="cb" transform="translate(1964.5,946.7) scale(1.1,1)">-9</text>
<text class="cb" transform="translate(1964.5,912.9) scale(1.1,1)">-8</text>
<text class="cb" transform="translate(1964.5,879.0) scale(1.1,1)">-7</text>
<text class="cb" transform="translate(1964.5,845.2) scale(1.1,1)">-6</text>
<text class="cb" transform="translate(1964.5,811.3) scale(1.1,1)">-5</text>
<text class="cb" transform="translate(1964.5,777.4) scale(1.1,1)">-4</text>
<text class="cb" transform="translate(1964.5,743.6) scale(1.1,1)">-3</text>
<text class="cb" transform="translate(1964.5,709.7) scale(1.1,1)">-2</text>
<text class="cb" transform="translate(1964.5,675.9) scale(1.1,1)">-1</text>
<text class="cb" transform="translate(1964.5,642.0) scale(1.1,1)">0</text>
<text class="cb" transform="translate(1964.5,608.2) scale(1.1,1)">1</text>
<text class="cb" transform="translate(1964.5,574.3) scale(1.1,1)">2</text>
<text class="cb" transform="translate(1964.5,540.4) scale(1.1,1)">3</text>
<text class="cb" transform="translate(1964.5,506.6) scale(1.1,1)">4</text>
<text class="cb" transform="translate(1964.5,472.7) scale(1.1,1)">5</text>
<text class="cb" transform="translate(1964.5,438.9) scale(1.1,1)">6</text>
<text class="cb" transform="translate(1964.5,405.0) scale(1.1,1)">7</text>
<text class="cb" transform="translate(1964.5,371.1) scale(1.1,1)">8</text>
<text class="cb" transform="translate(1964.5,337.3) scale(1.1,1)">9</text>
<text class="cb" transform="translate(1964.5,303.4) scale(1.1,1)">10</text>
<g class="ttl"><text x="1450" y="263" font-size="36" textLength="131" lengthAdjust="spacingAndGlyphs">KOREA</text><text x="1450" y="303" font-size="36" textLength="145" lengthAdjust="spacingAndGlyphs">Oct. 2023</text><text x="1451" y="339" font-size="30" textLength="178" lengthAdjust="spacingAndGlyphs">Temperature</text><text x="1450" y="378" font-size="33" textLength="139" lengthAdjust="spacingAndGlyphs">Anomaly</text><text x="1450" y="417.5" font-size="33" textLength="71" lengthAdjust="spacingAndGlyphs">(0m)</text></g><text class="tk" transform="translate(1006.0,200.7) scale(0.9,1)" style="font-size:34.5px">N</text><circle cx="1028.8" cy="149.8" r="4.4" fill="none" stroke="#111" stroke-width="1.3"/><text class="tk" transform="translate(1907.3,1015.6) scale(0.88,1)" style="font-size:35px">E</text><circle cx="1894.6" cy="997.8" r="4.5" fill="none" stroke="#111" stroke-width="1.3"/>
</svg></body></html>
